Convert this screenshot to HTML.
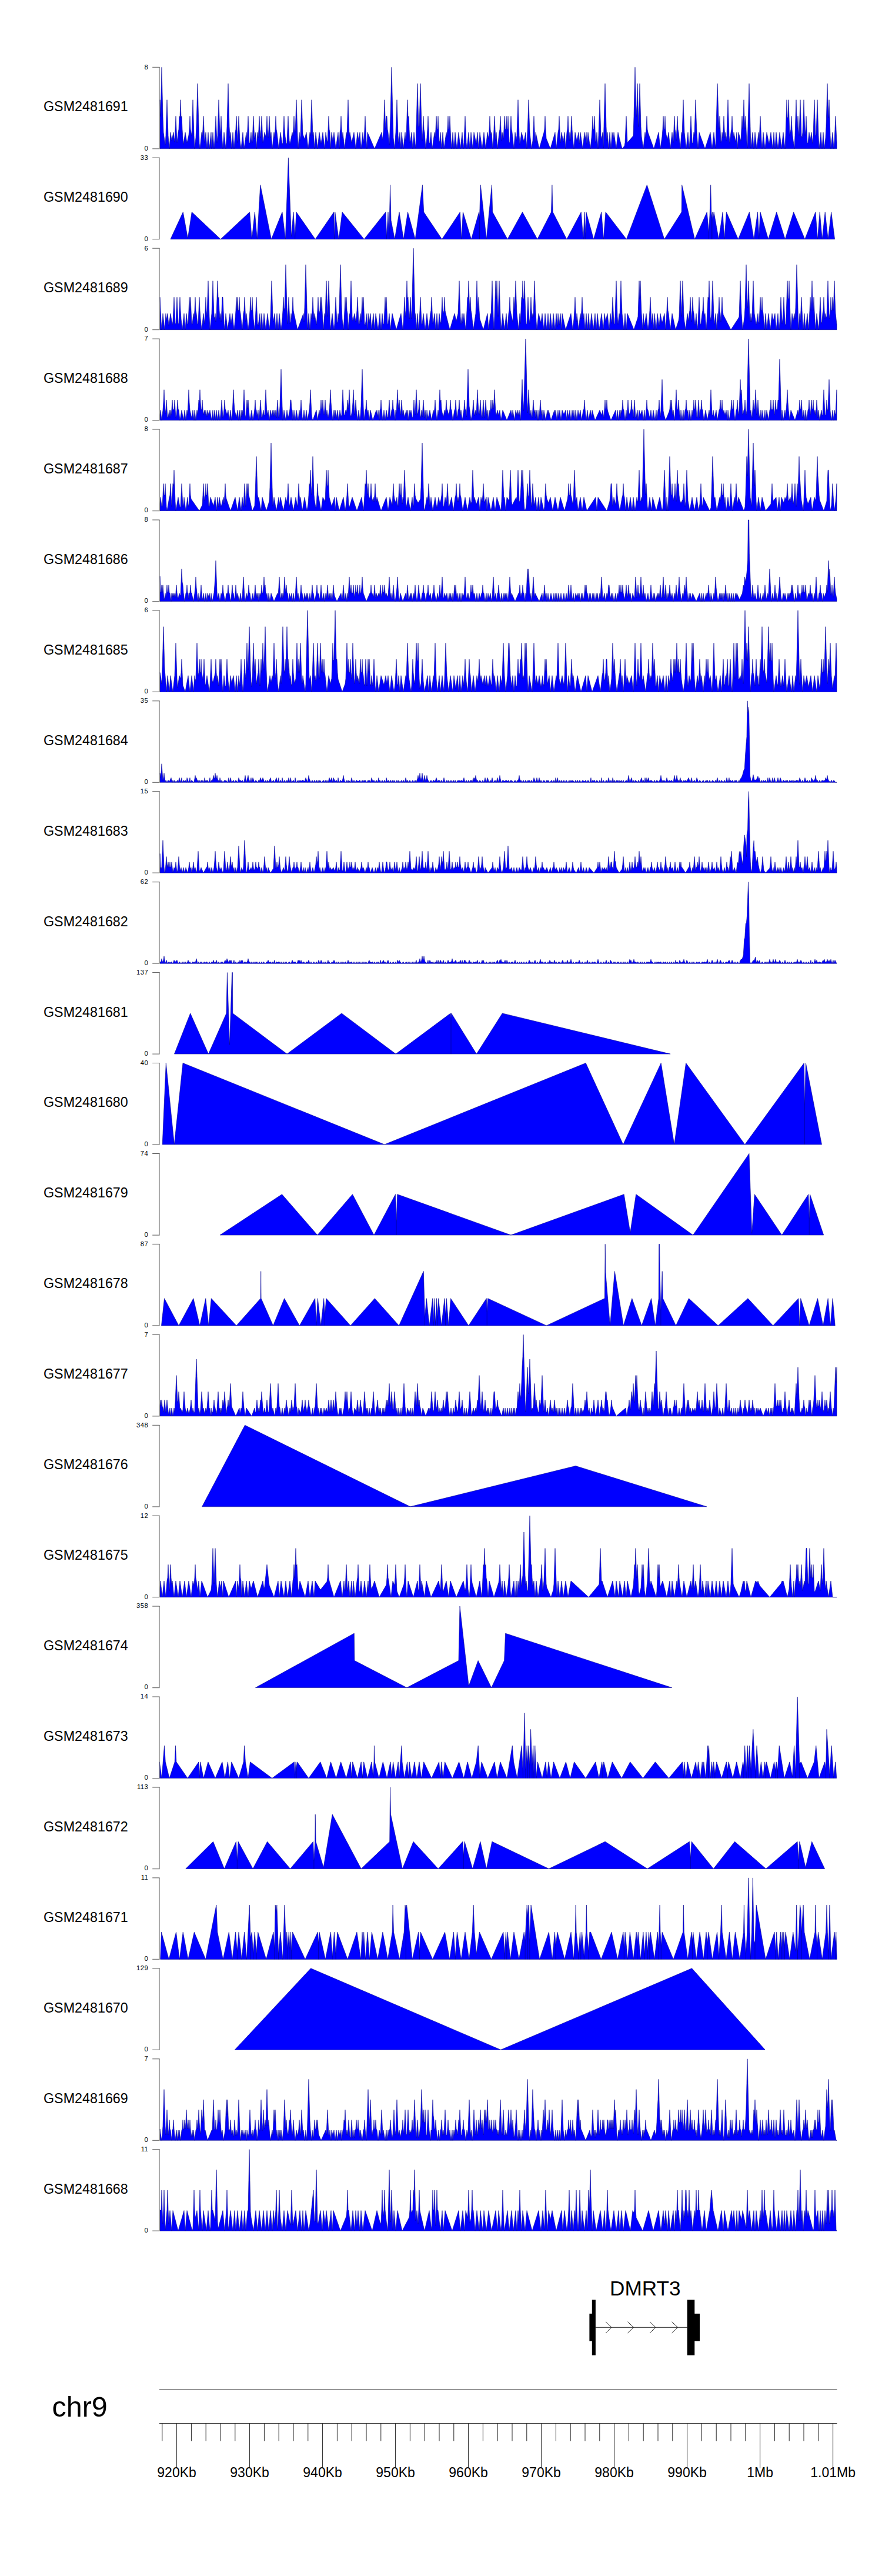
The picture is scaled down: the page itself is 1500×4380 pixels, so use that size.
<!DOCTYPE html>
<html><head><meta charset="utf-8"><title>tracks</title>
<style>html,body{margin:0;padding:0;background:#fff}svg{display:block}
text{font-family:"Liberation Sans",Arial,sans-serif;fill:#000}
.lab{font-size:23.3px}.tk{font-size:11.3px;text-anchor:end;letter-spacing:0.5px}.ax{font-size:23px;text-anchor:middle}
.d{fill:#0000ff;stroke:#00008b;stroke-width:0.6;stroke-linejoin:miter}
.ya{fill:none;stroke:#7a7a7a;stroke-width:1.25}.yt{fill:none;stroke:#444;stroke-width:0.9}.nl{fill:none;stroke:#00008b;stroke-width:0.7}
</style></head><body>
<svg width="1500" height="4380" viewBox="0 0 1500 4380">
<rect width="1500" height="4380" fill="#fff"/>

<path class="d" d="M272.0,252.8L272.0,169.7L273.0,198.2L274.0,156.3L275.0,114.3L276.0,156.3L277.0,198.2L278.0,225.1L279.0,232.4L280.0,239.6L281.0,246.9L282.0,230.4L283.0,200.0L284.0,169.7L285.0,200.0L286.0,230.4L287.0,243.6L288.0,252.8L289.0,239.0L290.0,225.1L291.0,232.0L292.0,239.0L293.0,234.3L294.0,229.7L295.0,225.1L296.0,233.3L297.0,241.6L298.0,219.9L299.0,197.4L300.0,219.9L301.0,242.4L302.0,234.3L303.0,225.1L304.0,219.9L305.0,197.4L306.0,200.0L307.0,169.7L308.0,200.0L309.0,197.4L310.0,219.9L311.0,235.2L312.0,245.3L313.0,238.6L314.0,231.8L315.0,225.1L316.0,231.0L317.0,236.9L318.0,242.8L319.0,238.3L320.0,233.9L321.0,229.5L322.0,219.9L323.0,197.4L324.0,219.9L325.0,225.1L326.0,230.4L327.0,200.0L328.0,169.7L329.0,200.0L330.0,230.4L331.0,252.8L332.0,243.6L333.0,234.3L334.0,215.4L335.0,178.7L336.0,142.0L337.0,178.7L338.0,215.4L339.0,243.6L340.0,252.8L341.0,243.6L342.0,234.3L343.0,225.1L344.0,232.0L345.0,219.9L346.0,197.4L347.0,219.9L348.0,242.4L349.0,234.3L350.0,225.1L351.0,239.0L352.0,252.8L353.0,239.0L354.0,225.1L355.0,239.0L356.0,252.8L357.0,243.6L358.0,234.3L359.0,225.1L360.0,252.8L361.0,239.0L362.0,225.1L363.0,239.0L364.0,252.8L365.0,239.0L366.0,219.9L367.0,197.4L368.0,219.9L369.0,242.4L370.0,230.4L371.0,200.0L372.0,169.7L373.0,200.0L374.0,230.4L375.0,219.9L376.0,197.4L377.0,219.9L378.0,239.0L379.0,252.8L380.0,239.0L381.0,225.1L382.0,234.3L383.0,243.6L384.0,252.8L385.0,239.0L386.0,215.4L387.0,178.7L388.0,142.0L389.0,178.7L390.0,215.4L391.0,234.3L392.0,225.1L393.0,239.0L394.0,252.8L395.0,239.0L396.0,225.1L397.0,239.0L398.0,252.8L399.0,239.0L400.0,225.1L401.0,219.9L402.0,197.4L403.0,219.9L404.0,242.4L405.0,219.9L406.0,197.4L407.0,219.9L408.0,239.0L409.0,245.9L410.0,252.8L411.0,243.6L412.0,234.3L413.0,225.1L414.0,239.0L415.0,252.8L416.0,245.9L417.0,239.0L418.0,232.0L419.0,225.1L420.0,239.0L421.0,219.9L422.0,197.4L423.0,219.9L424.0,242.4L425.0,243.6L426.0,234.3L427.0,225.1L428.0,239.0L429.0,242.4L430.0,219.9L431.0,197.4L432.0,219.9L433.0,236.0L434.0,230.6L435.0,225.1L436.0,252.8L437.0,239.0L438.0,225.1L439.0,234.3L440.0,219.9L441.0,197.4L442.0,219.9L443.0,234.3L444.0,219.9L445.0,197.4L446.0,219.9L447.0,242.4L448.0,238.2L449.0,231.7L450.0,225.1L451.0,229.1L452.0,233.0L453.0,219.9L454.0,197.4L455.0,219.9L456.0,234.3L457.0,219.9L458.0,197.4L459.0,219.9L460.0,234.3L461.0,225.1L462.0,239.0L463.0,252.8L464.0,243.6L465.0,234.3L466.0,225.1L467.0,234.3L468.0,219.9L469.0,197.4L470.0,219.9L471.0,225.1L472.0,234.3L473.0,243.6L474.0,252.8L475.0,243.6L476.0,234.3L477.0,225.1L478.0,232.0L479.0,239.0L480.0,245.9L481.0,242.4L482.0,219.9L483.0,197.4L484.0,219.9L485.0,232.0L486.0,239.0L487.0,245.9L488.0,242.4L489.0,219.9L490.0,197.4L491.0,219.9L492.0,238.6L493.0,245.4L494.0,240.3L495.0,235.2L496.0,230.2L497.0,225.1L498.0,230.8L499.0,219.9L500.0,197.4L501.0,219.9L502.0,225.1L503.0,200.0L504.0,169.7L505.0,200.0L506.0,230.4L507.0,252.8L508.0,239.0L509.0,225.1L510.0,239.0L511.0,230.4L512.0,200.0L513.0,169.7L514.0,200.0L515.0,228.0L516.0,230.9L517.0,233.8L518.0,236.8L519.0,232.9L520.0,229.0L521.0,225.1L522.0,234.3L523.0,243.6L524.0,252.8L525.0,243.6L526.0,234.3L527.0,225.1L528.0,230.4L529.0,200.0L530.0,169.7L531.0,200.0L532.0,230.4L533.0,225.1L534.0,239.0L535.0,252.8L536.0,239.0L537.0,225.1L538.0,234.3L539.0,243.6L540.0,252.8L541.0,243.6L542.0,234.3L543.0,225.1L544.0,231.4L545.0,237.7L546.0,244.0L547.0,237.7L548.0,231.4L549.0,225.1L550.0,234.3L551.0,243.6L552.0,252.8L553.0,239.0L554.0,225.1L555.0,232.0L556.0,239.0L557.0,242.4L558.0,219.9L559.0,197.4L560.0,219.9L561.0,225.1L562.0,252.8L563.0,239.0L564.0,225.1L565.0,232.5L566.0,239.9L567.0,232.5L568.0,225.1L569.0,234.3L570.0,243.6L571.0,252.8L572.0,245.9L573.0,239.0L574.0,232.0L575.0,225.1L576.0,239.0L577.0,252.8L578.0,225.1L579.0,219.9L580.0,197.4L581.0,219.9L582.0,234.3L583.0,225.1L584.0,234.3L585.0,243.6L586.0,252.8L587.0,243.6L588.0,234.3L589.0,225.1L590.0,230.4L591.0,200.0L592.0,169.7L593.0,200.0L594.0,230.4L595.0,225.1L596.0,231.0L597.0,236.8L598.0,242.7L599.0,238.3L600.0,233.9L601.0,229.5L602.0,225.1L603.0,234.3L604.0,243.6L605.0,252.8L606.0,243.6L607.0,234.3L608.0,225.1L609.0,232.1L610.0,239.0L611.0,232.1L612.0,225.1L613.0,239.0L614.0,252.8L615.0,243.6L616.0,234.3L617.0,225.1L618.0,234.9L619.0,242.4L620.0,219.9L621.0,197.4L622.0,219.9L623.0,239.0L624.0,252.8L625.0,225.1L626.0,227.4L627.0,229.7L628.0,232.0L629.0,234.3L630.0,236.6L631.0,239.0L632.0,241.3L633.0,243.6L634.0,245.9L635.0,248.2L636.0,250.5L637.0,252.8L638.0,250.5L639.0,248.2L640.0,245.9L641.0,243.6L642.0,241.3L643.0,239.0L644.0,236.6L645.0,234.3L646.0,232.0L647.0,229.7L648.0,227.4L649.0,225.1L650.0,238.1L651.0,231.6L652.0,225.1L653.0,200.0L654.0,169.7L655.0,200.0L656.0,219.9L657.0,197.4L658.0,197.4L659.0,219.9L660.0,225.1L661.0,235.6L662.0,246.1L663.0,225.1L664.0,198.2L665.0,156.3L666.0,114.3L667.0,156.3L668.0,198.2L669.0,234.3L670.0,243.6L671.0,252.8L672.0,239.0L673.0,225.1L674.0,200.0L675.0,169.7L676.0,200.0L677.0,230.4L678.0,243.6L679.0,234.3L680.0,225.1L681.0,239.0L682.0,252.8L683.0,225.1L684.0,234.3L685.0,243.6L686.0,252.8L687.0,243.6L688.0,234.3L689.0,225.1L690.0,239.0L691.0,230.4L692.0,200.0L693.0,169.7L694.0,200.0L695.0,197.4L696.0,219.9L697.0,242.4L698.0,239.0L699.0,232.1L700.0,225.1L701.0,239.0L702.0,252.8L703.0,239.0L704.0,225.1L705.0,234.3L706.0,243.6L707.0,252.1L708.0,215.4L709.0,178.7L710.0,142.0L711.0,178.7L712.0,215.4L713.0,215.4L714.0,178.7L715.0,142.0L716.0,178.7L717.0,215.4L718.0,239.0L719.0,219.9L720.0,197.4L721.0,219.9L722.0,225.1L723.0,239.0L724.0,252.8L725.0,243.6L726.0,234.3L727.0,219.9L728.0,197.4L729.0,219.9L730.0,242.4L731.0,243.6L732.0,234.3L733.0,225.1L734.0,239.0L735.0,252.8L736.0,245.9L737.0,239.0L738.0,232.0L739.0,225.1L740.0,234.3L741.0,219.9L742.0,197.4L743.0,219.9L744.0,219.9L745.0,197.4L746.0,219.9L747.0,242.4L748.0,239.0L749.0,225.1L750.0,239.0L751.0,252.8L752.0,239.0L753.0,225.1L754.0,239.0L755.0,252.8L756.0,245.9L757.0,239.0L758.0,232.0L759.0,225.1L760.0,232.0L761.0,219.9L762.0,197.4L763.0,219.9L764.0,219.9L765.0,197.4L766.0,219.9L767.0,239.0L768.0,252.8L769.0,239.0L770.0,225.1L771.0,239.0L772.0,252.8L773.0,239.0L774.0,225.1L775.0,234.3L776.0,243.6L777.0,252.8L778.0,243.6L779.0,234.3L780.0,225.1L781.0,234.3L782.0,243.6L783.0,252.8L784.0,243.6L785.0,234.3L786.0,225.1L787.0,239.0L788.0,252.8L789.0,242.4L790.0,219.9L791.0,197.4L792.0,219.9L793.0,242.4L794.0,252.8L795.0,243.6L796.0,234.3L797.0,225.1L798.0,239.0L799.0,252.8L800.0,239.0L801.0,225.1L802.0,234.3L803.0,243.6L804.0,252.8L805.0,239.0L806.0,225.1L807.0,229.9L808.0,234.7L809.0,239.6L810.0,244.4L811.0,234.7L812.0,225.1L813.0,239.0L814.0,252.8L815.0,239.0L816.0,225.1L817.0,232.0L818.0,239.0L819.0,245.9L820.0,252.8L821.0,243.6L822.0,234.3L823.0,225.1L824.0,234.3L825.0,243.6L826.0,252.8L827.0,243.6L828.0,234.3L829.0,225.1L830.0,230.4L831.0,235.7L832.0,219.9L833.0,197.4L834.0,219.9L835.0,229.1L836.0,225.1L837.0,239.0L838.0,252.8L839.0,239.0L840.0,219.9L841.0,197.4L842.0,219.9L843.0,239.0L844.0,225.1L845.0,239.0L846.0,252.8L847.0,243.6L848.0,234.3L849.0,225.1L850.0,219.9L851.0,197.4L852.0,219.9L853.0,239.0L854.0,225.1L855.0,230.8L856.0,236.6L857.0,219.9L858.0,197.4L859.0,219.9L860.0,219.9L861.0,197.4L862.0,219.9L863.0,219.9L864.0,197.4L865.0,219.9L866.0,242.4L867.0,242.4L868.0,219.9L869.0,197.4L870.0,219.9L871.0,225.1L872.0,234.3L873.0,243.6L874.0,252.8L875.0,239.0L876.0,225.1L877.0,232.0L878.0,238.8L879.0,230.4L880.0,200.0L881.0,169.7L882.0,200.0L883.0,230.4L884.0,245.9L885.0,239.0L886.0,232.0L887.0,225.1L888.0,228.9L889.0,232.7L890.0,236.5L891.0,240.3L892.0,235.2L893.0,230.2L894.0,225.1L895.0,239.0L896.0,252.8L897.0,225.1L898.0,200.0L899.0,169.7L900.0,200.0L901.0,225.1L902.0,234.3L903.0,243.6L904.0,252.8L905.0,245.9L906.0,239.0L907.0,219.9L908.0,197.4L909.0,219.9L910.0,242.4L911.0,225.1L912.0,229.7L913.0,234.3L914.0,239.0L915.0,243.6L916.0,248.2L917.0,252.8L918.0,249.3L919.0,245.9L920.0,242.4L921.0,239.0L922.0,235.5L923.0,232.0L924.0,228.6L925.0,225.1L926.0,219.9L927.0,197.4L928.0,219.9L929.0,235.2L930.0,237.7L931.0,240.2L932.0,242.7L933.0,245.2L934.0,247.8L935.0,250.3L936.0,252.8L937.0,249.3L938.0,245.9L939.0,242.4L940.0,239.0L941.0,235.5L942.0,232.0L943.0,228.6L944.0,225.1L945.0,239.0L946.0,252.8L947.0,243.6L948.0,234.3L949.0,225.1L950.0,219.9L951.0,197.4L952.0,219.9L953.0,242.4L954.0,234.3L955.0,225.1L956.0,230.6L957.0,236.1L958.0,241.6L959.0,233.3L960.0,225.1L961.0,239.0L962.0,252.8L963.0,239.0L964.0,225.1L965.0,219.9L966.0,197.4L967.0,219.9L968.0,239.0L969.0,225.1L970.0,239.0L971.0,219.9L972.0,197.4L973.0,219.9L974.0,234.3L975.0,243.6L976.0,252.8L977.0,239.0L978.0,225.1L979.0,229.8L980.0,234.5L981.0,239.3L982.0,234.5L983.0,229.8L984.0,225.1L985.0,244.7L986.0,234.9L987.0,225.1L988.0,232.0L989.0,239.0L990.0,245.9L991.0,252.8L992.0,243.6L993.0,234.3L994.0,225.1L995.0,237.3L996.0,231.2L997.0,225.1L998.0,245.4L999.0,235.2L1000.0,225.1L1001.0,232.0L1002.0,239.0L1003.0,245.9L1004.0,252.8L1005.0,243.6L1006.0,234.3L1007.0,219.9L1008.0,197.4L1009.0,219.9L1010.0,219.9L1011.0,197.4L1012.0,219.9L1013.0,242.4L1014.0,239.0L1015.0,225.1L1016.0,239.0L1017.0,252.8L1018.0,230.4L1019.0,200.0L1020.0,169.7L1021.0,200.0L1022.0,230.4L1023.0,237.1L1024.0,231.1L1025.0,225.1L1026.0,252.1L1027.0,215.4L1028.0,178.7L1029.0,142.0L1030.0,178.7L1031.0,215.4L1032.0,239.0L1033.0,225.1L1034.0,239.0L1035.0,252.8L1036.0,239.0L1037.0,225.1L1038.0,239.0L1039.0,252.8L1040.0,239.0L1041.0,225.1L1042.0,230.8L1043.0,236.5L1044.0,225.1L1045.0,232.0L1046.0,239.0L1047.0,245.9L1048.0,252.8L1049.0,243.6L1050.0,234.3L1051.0,225.1L1052.0,229.1L1053.0,233.0L1054.0,237.0L1055.0,240.9L1056.0,244.9L1057.0,248.8L1058.0,252.8L1059.0,251.6L1060.0,250.5L1061.0,249.3L1062.0,248.2L1063.0,242.4L1064.0,219.9L1065.0,197.4L1066.0,219.9L1067.0,242.4L1068.0,241.3L1069.0,240.1L1070.0,239.0L1071.0,237.8L1072.0,236.6L1073.0,235.5L1074.0,234.3L1075.0,233.2L1076.0,232.0L1077.0,230.9L1078.0,198.2L1079.0,156.3L1080.0,114.3L1081.0,156.3L1082.0,198.2L1083.0,178.7L1084.0,142.0L1085.0,178.7L1086.0,215.4L1087.0,178.7L1088.0,142.0L1089.0,178.7L1090.0,215.4L1091.0,232.0L1092.0,239.0L1093.0,245.9L1094.0,252.8L1095.0,243.6L1096.0,234.3L1097.0,225.1L1098.0,234.3L1099.0,219.9L1100.0,197.4L1101.0,219.9L1102.0,225.1L1103.0,227.9L1104.0,230.6L1105.0,233.4L1106.0,236.2L1107.0,239.0L1108.0,241.7L1109.0,244.5L1110.0,247.3L1111.0,250.0L1112.0,252.8L1113.0,249.3L1114.0,245.9L1115.0,242.4L1116.0,239.0L1117.0,235.5L1118.0,232.0L1119.0,228.6L1120.0,225.1L1121.0,234.3L1122.0,243.6L1123.0,252.8L1124.0,245.9L1125.0,239.0L1126.0,232.0L1127.0,219.9L1128.0,197.4L1129.0,219.9L1130.0,219.9L1131.0,197.4L1132.0,219.9L1133.0,229.1L1134.0,233.1L1135.0,237.1L1136.0,231.1L1137.0,225.1L1138.0,234.3L1139.0,243.6L1140.0,252.8L1141.0,243.6L1142.0,234.3L1143.0,225.1L1144.0,234.3L1145.0,242.4L1146.0,219.9L1147.0,197.4L1148.0,219.9L1149.0,225.1L1150.0,239.0L1151.0,219.9L1152.0,197.4L1153.0,219.9L1154.0,225.1L1155.0,234.3L1156.0,243.6L1157.0,252.8L1158.0,239.0L1159.0,225.1L1160.0,230.4L1161.0,200.0L1162.0,169.7L1163.0,200.0L1164.0,225.1L1165.0,234.3L1166.0,243.6L1167.0,252.8L1168.0,243.6L1169.0,234.3L1170.0,225.1L1171.0,239.0L1172.0,252.8L1173.0,239.0L1174.0,219.9L1175.0,197.4L1176.0,219.9L1177.0,242.4L1178.0,243.6L1179.0,234.3L1180.0,225.1L1181.0,230.4L1182.0,200.0L1183.0,169.7L1184.0,200.0L1185.0,225.1L1186.0,239.0L1187.0,252.8L1188.0,239.0L1189.0,225.1L1190.0,227.9L1191.0,230.6L1192.0,233.4L1193.0,236.2L1194.0,239.0L1195.0,241.7L1196.0,244.5L1197.0,247.3L1198.0,250.0L1199.0,252.8L1200.0,249.7L1201.0,246.6L1202.0,243.6L1203.0,240.5L1204.0,237.4L1205.0,234.3L1206.0,231.3L1207.0,228.2L1208.0,225.1L1209.0,234.3L1210.0,243.6L1211.0,252.8L1212.0,243.6L1213.0,234.3L1214.0,225.1L1215.0,234.3L1216.0,243.6L1217.0,252.1L1218.0,215.4L1219.0,178.7L1220.0,142.0L1221.0,169.7L1222.0,200.0L1223.0,219.9L1224.0,197.4L1225.0,219.9L1226.0,242.4L1227.0,239.0L1228.0,225.1L1229.0,234.3L1230.0,219.9L1231.0,197.4L1232.0,219.9L1233.0,234.3L1234.0,225.1L1235.0,239.0L1236.0,230.4L1237.0,200.0L1238.0,169.7L1239.0,200.0L1240.0,230.4L1241.0,243.6L1242.0,234.3L1243.0,225.1L1244.0,219.9L1245.0,197.4L1246.0,219.9L1247.0,233.3L1248.0,225.1L1249.0,230.5L1250.0,235.9L1251.0,241.2L1252.0,233.2L1253.0,225.1L1254.0,252.8L1255.0,239.0L1256.0,225.1L1257.0,228.8L1258.0,232.5L1259.0,236.1L1260.0,239.8L1261.0,219.9L1262.0,197.4L1263.0,219.9L1264.0,200.0L1265.0,169.7L1266.0,200.0L1267.0,219.9L1268.0,197.4L1269.0,219.9L1270.0,242.4L1271.0,252.1L1272.0,215.4L1273.0,178.7L1274.0,142.0L1275.0,178.7L1276.0,215.4L1277.0,252.1L1278.0,243.6L1279.0,234.3L1280.0,225.1L1281.0,239.0L1282.0,252.8L1283.0,239.0L1284.0,225.1L1285.0,234.3L1286.0,243.6L1287.0,252.8L1288.0,243.6L1289.0,234.3L1290.0,225.1L1291.0,239.0L1292.0,219.9L1293.0,197.4L1294.0,219.9L1295.0,239.0L1296.0,252.8L1297.0,239.0L1298.0,225.1L1299.0,234.3L1300.0,243.6L1301.0,252.8L1302.0,243.6L1303.0,234.3L1304.0,225.1L1305.0,230.0L1306.0,235.0L1307.0,239.9L1308.0,244.9L1309.0,238.3L1310.0,231.7L1311.0,225.1L1312.0,234.3L1313.0,243.6L1314.0,252.8L1315.0,239.0L1316.0,225.1L1317.0,239.0L1318.0,252.8L1319.0,239.0L1320.0,225.1L1321.0,234.3L1322.0,243.6L1323.0,252.8L1324.0,243.6L1325.0,234.3L1326.0,225.1L1327.0,234.3L1328.0,243.6L1329.0,252.8L1330.0,243.6L1331.0,234.3L1332.0,225.1L1333.0,234.3L1334.0,243.6L1335.0,252.8L1336.0,230.4L1337.0,200.0L1338.0,169.7L1339.0,200.0L1340.0,200.0L1341.0,169.7L1342.0,200.0L1343.0,230.4L1344.0,225.1L1345.0,219.9L1346.0,197.4L1347.0,219.9L1348.0,232.0L1349.0,239.0L1350.0,245.9L1351.0,252.8L1352.0,230.4L1353.0,200.0L1354.0,169.7L1355.0,200.0L1356.0,219.9L1357.0,197.4L1358.0,219.9L1359.0,230.4L1360.0,200.0L1361.0,169.7L1362.0,200.0L1363.0,230.4L1364.0,234.6L1365.0,225.1L1366.0,200.0L1367.0,169.7L1368.0,200.0L1369.0,230.4L1370.0,219.9L1371.0,197.4L1372.0,219.9L1373.0,242.4L1374.0,243.6L1375.0,234.3L1376.0,225.1L1377.0,231.6L1378.0,238.2L1379.0,231.6L1380.0,225.1L1381.0,234.3L1382.0,243.6L1383.0,230.4L1384.0,200.0L1385.0,169.7L1386.0,200.0L1387.0,230.4L1388.0,230.4L1389.0,200.0L1390.0,169.7L1391.0,200.0L1392.0,230.4L1393.0,252.8L1394.0,243.6L1395.0,234.3L1396.0,225.1L1397.0,239.0L1398.0,252.8L1399.0,239.0L1400.0,225.1L1401.0,239.0L1402.0,252.8L1403.0,243.6L1404.0,234.3L1405.0,215.4L1406.0,178.7L1407.0,142.0L1408.0,178.7L1409.0,200.0L1410.0,169.7L1411.0,200.0L1412.0,230.4L1413.0,252.8L1414.0,243.6L1415.0,234.3L1416.0,225.1L1417.0,239.0L1418.0,252.8L1419.0,242.4L1420.0,219.9L1421.0,197.4L1422.0,219.9L1423.0,242.4L1423.0,252.8Z"/>
<path class="ya" d="M271,114.3V252.8H259.2"/><path class="yt" d="M259.2,114.3H271.6"/>
<text class="tk" x="252.4" y="117.6">8</text><text class="tk" x="252.4" y="255.6">0</text>
<text class="lab" x="74" y="189.2">GSM2481691</text>
<path class="d" d="M289.9,406.7L289.9,406.7L311.3,360.6L319.4,405.3L326.2,360.6L375.2,406.7L424.6,360.6L428.3,406.7L433.3,360.6L437.3,406.7L442.8,314.4L461.4,406.7L480.0,360.6L485.4,406.7L490.4,268.2L495.4,402.1L499.0,360.6L501.7,402.1L504.0,360.6L536.2,406.7L567.9,360.6L568.4,406.7L569.8,360.6L576.1,406.7L582.0,360.6L619.2,406.7L655.9,360.6L657.7,402.1L660.0,360.6L661.8,397.5L663.6,314.4L665.0,374.4L671.3,406.7L679.0,360.6L686.3,406.7L693.5,360.6L706.2,406.7L718.5,314.4L720.7,360.6L751.6,406.7L782.4,360.6L784.7,406.7L787.4,360.6L801.5,406.7L814.6,360.6L815.5,369.8L817.3,314.4L827.3,406.7L836.4,314.4L837.7,360.6L863.1,406.7L888.5,360.6L913.9,406.7L937.5,360.6L938.9,314.4L940.2,360.6L963.8,406.7L988.3,360.6L991.9,406.7L994.2,360.6L995.1,397.5L996.9,360.6L1009.6,406.7L1022.8,360.6L1026.4,406.7L1030.0,360.6L1065.4,406.7L1100.3,314.4L1129.8,406.7L1159.2,360.6L1159.7,314.4L1181.5,406.7L1202.3,360.6L1205.5,395.2L1207.3,360.6L1208.7,314.4L1210.0,369.8L1211.4,360.6L1212.3,374.4L1214.1,360.6L1222.3,406.7L1229.1,360.6L1231.8,406.7L1235.4,360.6L1255.4,406.7L1274.4,360.6L1282.1,406.7L1288.5,360.6L1290.8,402.1L1293.0,360.6L1306.6,406.7L1320.7,360.6L1335.2,406.7L1349.7,360.6L1368.8,406.7L1386.9,360.6L1390.5,406.7L1394.2,360.6L1398.2,406.7L1403.2,360.6L1408.2,406.7L1413.7,360.6L1419.6,406.7L1419.6,406.7Z"/>
<path class="nl" d="M501.7,402.1V406.7M657.7,402.1V406.7M661.8,397.5V406.7M815.5,369.8V406.7M995.1,397.5V406.7M1205.5,395.2V406.7M1210.0,369.8V406.7M1212.3,374.4V406.7M1290.8,402.1V406.7"/>
<path class="ya" d="M271,268.2V406.7H259.2"/><path class="yt" d="M259.2,268.2H271.6"/>
<text class="tk" x="252.4" y="271.5">33</text><text class="tk" x="252.4" y="409.5">0</text>
<text class="lab" x="74" y="343.1">GSM2481690</text>
<path class="d" d="M272.0,560.7L272.0,505.3L273.0,527.8L274.0,546.8L275.0,560.7L276.0,546.8L277.0,533.0L278.0,542.2L279.0,551.4L280.0,560.7L281.0,546.8L282.0,533.0L283.0,544.4L284.0,538.7L285.0,533.0L286.0,543.2L287.0,553.4L288.0,546.6L289.0,539.8L290.0,533.0L291.0,539.5L292.0,546.1L293.0,552.7L294.0,546.1L295.0,527.8L296.0,505.3L297.0,527.8L298.0,550.3L299.0,550.3L300.0,527.8L301.0,505.3L302.0,527.8L303.0,550.3L304.0,550.3L305.0,527.8L306.0,505.3L307.0,527.8L308.0,542.2L309.0,551.4L310.0,560.7L311.0,551.4L312.0,542.2L313.0,533.0L314.0,546.8L315.0,560.7L316.0,546.8L317.0,533.0L318.0,542.2L319.0,551.4L320.0,550.3L321.0,527.8L322.0,505.3L323.0,527.8L324.0,505.3L325.0,527.8L326.0,550.3L327.0,551.4L328.0,542.2L329.0,533.0L330.0,540.6L331.0,527.8L332.0,505.3L333.0,527.8L334.0,533.0L335.0,542.2L336.0,551.4L337.0,550.3L338.0,527.8L339.0,505.3L340.0,527.8L341.0,542.2L342.0,551.4L343.0,560.7L344.0,551.4L345.0,542.2L346.0,533.0L347.0,542.2L348.0,550.3L349.0,527.8L350.0,505.3L351.0,527.8L352.0,538.2L353.0,507.9L354.0,477.6L355.0,507.9L356.0,538.2L357.0,560.7L358.0,551.4L359.0,542.2L360.0,533.0L361.0,507.9L362.0,477.6L363.0,507.9L364.0,538.2L365.0,541.5L366.0,533.0L367.0,546.8L368.0,538.2L369.0,507.9L370.0,477.6L371.0,507.9L372.0,505.3L373.0,527.8L374.0,542.2L375.0,533.0L376.0,546.8L377.0,527.8L378.0,505.3L379.0,505.3L380.0,527.8L381.0,550.3L382.0,560.7L383.0,546.8L384.0,533.0L385.0,542.2L386.0,551.4L387.0,560.7L388.0,553.7L389.0,546.8L390.0,539.9L391.0,533.0L392.0,541.6L393.0,550.2L394.0,541.6L395.0,533.0L396.0,542.2L397.0,551.4L398.0,560.7L399.0,551.4L400.0,542.2L401.0,527.8L402.0,505.3L403.0,527.8L404.0,505.3L405.0,527.8L406.0,527.8L407.0,505.3L408.0,527.8L409.0,533.0L410.0,542.2L411.0,551.4L412.0,560.7L413.0,546.8L414.0,533.0L415.0,527.8L416.0,505.3L417.0,527.8L418.0,546.8L419.0,533.0L420.0,542.2L421.0,551.4L422.0,560.7L423.0,551.4L424.0,542.2L425.0,527.8L426.0,505.3L427.0,527.8L428.0,527.8L429.0,505.3L430.0,527.8L431.0,542.2L432.0,551.4L433.0,560.7L434.0,546.8L435.0,527.8L436.0,505.3L437.0,527.8L438.0,550.3L439.0,553.7L440.0,546.8L441.0,539.9L442.0,533.0L443.0,560.7L444.0,546.8L445.0,533.0L446.0,546.8L447.0,560.7L448.0,546.8L449.0,533.0L450.0,542.2L451.0,551.4L452.0,560.7L453.0,551.4L454.0,542.2L455.0,533.0L456.0,542.2L457.0,551.4L458.0,560.7L459.0,551.4L460.0,538.2L461.0,507.9L462.0,477.6L463.0,507.9L464.0,538.2L465.0,546.8L466.0,539.9L467.0,533.0L468.0,546.8L469.0,560.7L470.0,546.8L471.0,533.0L472.0,546.8L473.0,560.7L474.0,546.8L475.0,533.0L476.0,542.2L477.0,551.4L478.0,560.7L479.0,551.4L480.0,542.2L481.0,527.8L482.0,505.3L483.0,527.8L484.0,523.2L485.0,486.5L486.0,449.9L487.0,486.5L488.0,523.2L489.0,550.3L490.0,527.8L491.0,505.3L492.0,527.8L493.0,550.3L494.0,546.8L495.0,533.0L496.0,542.2L497.0,527.8L498.0,505.3L499.0,527.8L500.0,533.0L501.0,537.6L502.0,542.2L503.0,546.8L504.0,551.4L505.0,556.0L506.0,560.7L507.0,557.9L508.0,555.1L509.0,552.4L510.0,549.6L511.0,546.8L512.0,544.0L513.0,541.3L514.0,538.5L515.0,535.7L516.0,533.0L517.0,546.8L518.0,523.2L519.0,486.5L520.0,449.9L521.0,486.5L522.0,523.2L523.0,559.9L524.0,546.8L525.0,533.0L526.0,546.8L527.0,560.7L528.0,546.8L529.0,533.0L530.0,542.2L531.0,527.8L532.0,505.3L533.0,527.8L534.0,542.2L535.0,533.0L536.0,539.3L537.0,545.7L538.0,552.0L539.0,542.5L540.0,527.8L541.0,505.3L542.0,527.8L543.0,533.0L544.0,527.8L545.0,505.3L546.0,527.8L547.0,505.3L548.0,527.8L549.0,546.8L550.0,560.7L551.0,546.8L552.0,533.0L553.0,538.2L554.0,507.9L555.0,477.6L556.0,507.9L557.0,538.2L558.0,507.9L559.0,477.6L560.0,507.9L561.0,538.2L562.0,560.7L563.0,551.4L564.0,542.2L565.0,533.0L566.0,542.2L567.0,551.4L568.0,560.7L569.0,550.3L570.0,527.8L571.0,505.3L572.0,527.8L573.0,550.3L574.0,546.8L575.0,533.0L576.0,542.2L577.0,523.2L578.0,486.5L579.0,449.9L580.0,486.5L581.0,523.2L582.0,542.2L583.0,551.4L584.0,560.7L585.0,546.8L586.0,527.8L587.0,505.3L588.0,527.8L589.0,505.3L590.0,527.8L591.0,533.0L592.0,560.7L593.0,546.8L594.0,533.0L595.0,538.2L596.0,507.9L597.0,477.6L598.0,507.9L599.0,538.2L600.0,545.9L601.0,541.6L602.0,537.3L603.0,533.0L604.0,539.9L605.0,546.8L606.0,539.9L607.0,527.8L608.0,505.3L609.0,527.8L610.0,550.3L611.0,551.4L612.0,542.2L613.0,533.0L614.0,546.8L615.0,527.8L616.0,505.3L617.0,527.8L618.0,505.3L619.0,527.8L620.0,550.3L621.0,553.7L622.0,546.8L623.0,539.9L624.0,533.0L625.0,560.7L626.0,546.8L627.0,533.0L628.0,548.4L629.0,540.7L630.0,533.0L631.0,546.8L632.0,560.7L633.0,551.4L634.0,542.2L635.0,533.0L636.0,546.8L637.0,560.7L638.0,546.8L639.0,533.0L640.0,539.9L641.0,546.8L642.0,553.7L643.0,560.7L644.0,551.4L645.0,542.2L646.0,533.0L647.0,546.8L648.0,560.7L649.0,546.8L650.0,533.0L651.0,542.2L652.0,551.4L653.0,550.3L654.0,527.8L655.0,505.3L656.0,527.8L657.0,505.3L658.0,527.8L659.0,550.3L660.0,551.4L661.0,542.2L662.0,533.0L663.0,546.8L664.0,560.7L665.0,551.4L666.0,542.2L667.0,533.0L668.0,536.9L669.0,540.9L670.0,544.8L671.0,548.8L672.0,552.7L673.0,556.7L674.0,560.7L675.0,557.2L676.0,553.7L677.0,550.3L678.0,546.8L679.0,543.3L680.0,539.9L681.0,536.4L682.0,533.0L683.0,542.2L684.0,551.4L685.0,560.7L686.0,550.3L687.0,527.8L688.0,505.3L689.0,527.8L690.0,538.2L691.0,507.9L692.0,477.6L693.0,507.9L694.0,505.3L695.0,527.8L696.0,542.2L697.0,527.8L698.0,505.3L699.0,527.8L700.0,542.2L701.0,506.1L702.0,464.1L703.0,422.2L704.0,464.1L705.0,506.1L706.0,542.2L707.0,533.0L708.0,560.7L709.0,546.8L710.0,533.0L711.0,546.8L712.0,560.7L713.0,546.8L714.0,527.8L715.0,505.3L716.0,527.8L717.0,550.3L718.0,551.4L719.0,542.2L720.0,533.0L721.0,542.2L722.0,551.4L723.0,560.7L724.0,551.4L725.0,542.2L726.0,533.0L727.0,542.2L728.0,551.4L729.0,560.7L730.0,551.4L731.0,542.2L732.0,533.0L733.0,527.8L734.0,505.3L735.0,527.8L736.0,550.3L737.0,546.8L738.0,539.9L739.0,533.0L740.0,546.8L741.0,560.7L742.0,546.8L743.0,533.0L744.0,546.8L745.0,560.7L746.0,546.8L747.0,533.0L748.0,539.9L749.0,546.8L750.0,550.3L751.0,527.8L752.0,505.3L753.0,527.8L754.0,533.0L755.0,527.8L756.0,505.3L757.0,527.8L758.0,533.0L759.0,536.9L760.0,540.9L761.0,544.8L762.0,548.8L763.0,552.7L764.0,556.7L765.0,560.7L766.0,557.2L767.0,553.7L768.0,550.3L769.0,546.8L770.0,543.3L771.0,539.9L772.0,536.4L773.0,533.0L774.0,537.2L775.0,541.5L776.0,545.8L777.0,541.5L778.0,537.2L779.0,533.0L780.0,507.9L781.0,477.6L782.0,507.9L783.0,538.2L784.0,551.4L785.0,542.2L786.0,533.0L787.0,549.3L788.0,541.2L789.0,533.0L790.0,542.2L791.0,551.4L792.0,560.7L793.0,546.8L794.0,527.8L795.0,505.3L796.0,507.9L797.0,477.6L798.0,507.9L799.0,527.8L800.0,505.3L801.0,527.8L802.0,533.0L803.0,542.2L804.0,551.4L805.0,560.7L806.0,553.7L807.0,546.8L808.0,539.9L809.0,533.0L810.0,507.9L811.0,477.6L812.0,507.9L813.0,527.8L814.0,505.3L815.0,527.8L816.0,542.2L817.0,545.3L818.0,548.3L819.0,551.4L820.0,554.5L821.0,557.6L822.0,560.7L823.0,556.7L824.0,552.7L825.0,548.8L826.0,544.8L827.0,540.9L828.0,536.9L829.0,533.0L830.0,546.8L831.0,560.7L832.0,551.4L833.0,542.2L834.0,533.0L835.0,538.2L836.0,507.9L837.0,477.6L838.0,507.9L839.0,538.2L840.0,560.7L841.0,538.2L842.0,507.9L843.0,477.6L844.0,507.9L845.0,477.6L846.0,507.9L847.0,538.2L848.0,507.9L849.0,477.6L850.0,507.9L851.0,538.2L852.0,560.7L853.0,551.4L854.0,542.2L855.0,533.0L856.0,542.2L857.0,551.4L858.0,560.7L859.0,551.4L860.0,542.2L861.0,533.0L862.0,546.8L863.0,560.7L864.0,546.8L865.0,533.0L866.0,527.8L867.0,505.3L868.0,527.8L869.0,533.0L870.0,537.6L871.0,542.3L872.0,546.9L873.0,527.8L874.0,505.3L875.0,527.8L876.0,507.9L877.0,477.6L878.0,507.9L879.0,533.0L880.0,542.2L881.0,551.4L882.0,560.7L883.0,546.8L884.0,533.0L885.0,550.3L886.0,527.8L887.0,505.3L888.0,507.9L889.0,477.6L890.0,507.9L891.0,507.9L892.0,477.6L893.0,507.9L894.0,538.2L895.0,551.4L896.0,550.3L897.0,527.8L898.0,505.3L899.0,527.8L900.0,542.2L901.0,550.3L902.0,527.8L903.0,505.3L904.0,527.8L905.0,539.9L906.0,533.0L907.0,538.2L908.0,507.9L909.0,477.6L910.0,507.9L911.0,533.0L912.0,546.8L913.0,560.7L914.0,551.4L915.0,542.2L916.0,533.0L917.0,537.0L918.0,541.0L919.0,544.9L920.0,548.9L921.0,541.0L922.0,533.0L923.0,542.2L924.0,551.4L925.0,560.7L926.0,546.8L927.0,533.0L928.0,542.2L929.0,551.4L930.0,560.7L931.0,546.8L932.0,533.0L933.0,546.8L934.0,560.7L935.0,546.8L936.0,533.0L937.0,542.2L938.0,551.4L939.0,560.7L940.0,546.8L941.0,533.0L942.0,542.2L943.0,551.4L944.0,560.7L945.0,546.8L946.0,533.0L947.0,544.0L948.0,555.1L949.0,533.0L950.0,542.6L951.0,552.3L952.0,542.6L953.0,533.0L954.0,546.8L955.0,560.7L956.0,533.0L957.0,537.6L958.0,542.2L959.0,546.8L960.0,551.4L961.0,556.0L962.0,560.7L963.0,557.6L964.0,554.5L965.0,551.4L966.0,548.3L967.0,545.3L968.0,542.2L969.0,539.1L970.0,536.0L971.0,533.0L972.0,542.2L973.0,551.4L974.0,560.7L975.0,551.4L976.0,542.2L977.0,527.8L978.0,505.3L979.0,527.8L980.0,546.8L981.0,533.0L982.0,542.2L983.0,551.4L984.0,560.7L985.0,551.4L986.0,542.2L987.0,533.0L988.0,542.2L989.0,527.8L990.0,505.3L991.0,527.8L992.0,542.2L993.0,533.0L994.0,546.8L995.0,560.7L996.0,546.8L997.0,533.0L998.0,546.8L999.0,560.7L1000.0,546.8L1001.0,533.0L1002.0,546.8L1003.0,560.7L1004.0,551.4L1005.0,542.2L1006.0,533.0L1007.0,542.2L1008.0,551.4L1009.0,560.7L1010.0,551.4L1011.0,542.2L1012.0,533.0L1013.0,546.8L1014.0,560.7L1015.0,546.8L1016.0,533.0L1017.0,542.2L1018.0,551.4L1019.0,560.7L1020.0,553.7L1021.0,546.8L1022.0,539.9L1023.0,533.0L1024.0,542.2L1025.0,551.4L1026.0,560.7L1027.0,546.8L1028.0,533.0L1029.0,539.6L1030.0,546.3L1031.0,541.8L1032.0,537.4L1033.0,533.0L1034.0,542.2L1035.0,551.4L1036.0,560.7L1037.0,546.8L1038.0,533.0L1039.0,541.4L1040.0,549.8L1041.0,527.8L1042.0,505.3L1043.0,527.8L1044.0,550.3L1045.0,551.4L1046.0,538.2L1047.0,507.9L1048.0,477.6L1049.0,507.9L1050.0,538.2L1051.0,551.4L1052.0,542.2L1053.0,533.0L1054.0,538.2L1055.0,507.9L1056.0,477.6L1057.0,507.9L1058.0,533.0L1059.0,542.2L1060.0,551.4L1061.0,560.7L1062.0,546.8L1063.0,533.0L1064.0,546.8L1065.0,560.7L1066.0,546.8L1067.0,533.0L1068.0,535.5L1069.0,538.0L1070.0,540.5L1071.0,543.0L1072.0,545.6L1073.0,548.1L1074.0,550.6L1075.0,553.1L1076.0,555.6L1077.0,558.1L1078.0,560.7L1079.0,557.6L1080.0,554.5L1081.0,551.4L1082.0,548.3L1083.0,545.3L1084.0,542.2L1085.0,538.2L1086.0,507.9L1087.0,477.6L1088.0,507.9L1089.0,477.6L1090.0,507.9L1091.0,533.0L1092.0,546.8L1093.0,560.7L1094.0,533.0L1095.0,543.6L1096.0,554.3L1097.0,547.2L1098.0,540.1L1099.0,533.0L1100.0,542.2L1101.0,551.4L1102.0,560.7L1103.0,551.4L1104.0,542.2L1105.0,527.8L1106.0,505.3L1107.0,527.8L1108.0,550.3L1109.0,542.2L1110.0,533.0L1111.0,546.8L1112.0,560.7L1113.0,533.0L1114.0,542.2L1115.0,551.4L1116.0,560.7L1117.0,546.8L1118.0,533.0L1119.0,540.1L1120.0,547.3L1121.0,554.5L1122.0,543.7L1123.0,533.0L1124.0,538.4L1125.0,543.8L1126.0,549.1L1127.0,545.1L1128.0,541.1L1129.0,537.0L1130.0,533.0L1131.0,546.8L1132.0,560.7L1133.0,546.8L1134.0,527.8L1135.0,505.3L1136.0,527.8L1137.0,533.0L1138.0,542.2L1139.0,551.4L1140.0,560.7L1141.0,551.4L1142.0,542.2L1143.0,533.0L1144.0,537.6L1145.0,542.2L1146.0,546.8L1147.0,551.4L1148.0,556.0L1149.0,560.7L1150.0,557.6L1151.0,554.5L1152.0,551.4L1153.0,548.3L1154.0,545.3L1155.0,538.2L1156.0,507.9L1157.0,477.6L1158.0,507.9L1159.0,538.2L1160.0,507.9L1161.0,477.6L1162.0,507.9L1163.0,538.2L1164.0,546.8L1165.0,553.7L1166.0,560.7L1167.0,551.4L1168.0,542.2L1169.0,533.0L1170.0,539.4L1171.0,545.9L1172.0,533.0L1173.0,527.8L1174.0,505.3L1175.0,527.8L1176.0,546.8L1177.0,527.8L1178.0,505.3L1179.0,527.8L1180.0,533.0L1181.0,542.9L1182.0,552.9L1183.0,542.9L1184.0,533.0L1185.0,546.8L1186.0,560.7L1187.0,550.3L1188.0,527.8L1189.0,505.3L1190.0,527.8L1191.0,550.3L1192.0,551.4L1193.0,542.2L1194.0,533.0L1195.0,527.8L1196.0,505.3L1197.0,527.8L1198.0,537.5L1199.0,533.0L1200.0,546.8L1201.0,560.7L1202.0,546.8L1203.0,527.8L1204.0,505.3L1205.0,507.9L1206.0,477.6L1207.0,507.9L1208.0,538.2L1209.0,545.1L1210.0,533.0L1211.0,507.9L1212.0,477.6L1213.0,507.9L1214.0,538.2L1215.0,551.4L1216.0,542.2L1217.0,533.0L1218.0,546.8L1219.0,560.7L1220.0,533.0L1221.0,546.8L1222.0,527.8L1223.0,505.3L1224.0,527.8L1225.0,533.0L1226.0,546.8L1227.0,527.8L1228.0,505.3L1229.0,527.8L1230.0,534.9L1231.0,536.9L1232.0,538.9L1233.0,540.9L1234.0,542.9L1235.0,544.8L1236.0,546.8L1237.0,548.8L1238.0,550.8L1239.0,552.7L1240.0,554.7L1241.0,556.7L1242.0,558.7L1243.0,560.7L1244.0,559.1L1245.0,557.6L1246.0,556.0L1247.0,554.5L1248.0,553.0L1249.0,551.4L1250.0,549.9L1251.0,548.3L1252.0,546.8L1253.0,545.3L1254.0,543.7L1255.0,542.2L1256.0,540.7L1257.0,538.2L1258.0,507.9L1259.0,477.6L1260.0,507.9L1261.0,533.0L1262.0,546.8L1263.0,560.7L1264.0,553.7L1265.0,546.8L1266.0,539.9L1267.0,523.2L1268.0,486.5L1269.0,449.9L1270.0,486.5L1271.0,523.2L1272.0,507.9L1273.0,477.6L1274.0,507.9L1275.0,538.2L1276.0,546.8L1277.0,533.0L1278.0,546.8L1279.0,538.2L1280.0,507.9L1281.0,477.6L1282.0,507.9L1283.0,533.0L1284.0,539.4L1285.0,545.8L1286.0,552.3L1287.0,545.8L1288.0,539.4L1289.0,533.0L1290.0,546.8L1291.0,550.3L1292.0,527.8L1293.0,505.3L1294.0,527.8L1295.0,527.8L1296.0,505.3L1297.0,527.8L1298.0,533.0L1299.0,546.8L1300.0,560.7L1301.0,546.8L1302.0,533.0L1303.0,546.8L1304.0,560.7L1305.0,551.4L1306.0,542.2L1307.0,533.0L1308.0,542.2L1309.0,551.4L1310.0,560.7L1311.0,551.4L1312.0,542.2L1313.0,533.0L1314.0,539.2L1315.0,545.4L1316.0,541.2L1317.0,537.1L1318.0,533.0L1319.0,546.8L1320.0,560.7L1321.0,551.4L1322.0,542.2L1323.0,533.0L1324.0,546.8L1325.0,560.7L1326.0,546.8L1327.0,527.8L1328.0,505.3L1329.0,527.8L1330.0,550.3L1331.0,542.2L1332.0,527.8L1333.0,505.3L1334.0,527.8L1335.0,550.3L1336.0,553.7L1337.0,538.2L1338.0,507.9L1339.0,477.6L1340.0,507.9L1341.0,507.9L1342.0,477.6L1343.0,507.9L1344.0,538.2L1345.0,560.7L1346.0,546.8L1347.0,533.0L1348.0,539.4L1349.0,545.9L1350.0,539.4L1351.0,533.0L1352.0,542.2L1353.0,523.2L1354.0,486.5L1355.0,449.9L1356.0,486.5L1357.0,523.2L1358.0,559.9L1359.0,546.8L1360.0,533.0L1361.0,546.8L1362.0,527.8L1363.0,505.3L1364.0,527.8L1365.0,546.8L1366.0,560.7L1367.0,546.8L1368.0,533.0L1369.0,546.8L1370.0,560.7L1371.0,551.4L1372.0,542.2L1373.0,533.0L1374.0,546.8L1375.0,560.7L1376.0,546.8L1377.0,527.8L1378.0,505.3L1379.0,527.8L1380.0,507.9L1381.0,477.6L1382.0,507.9L1383.0,527.8L1384.0,505.3L1385.0,527.8L1386.0,546.8L1387.0,560.7L1388.0,546.8L1389.0,533.0L1390.0,542.2L1391.0,551.4L1392.0,560.7L1393.0,550.3L1394.0,527.8L1395.0,505.3L1396.0,527.8L1397.0,550.3L1398.0,546.8L1399.0,533.0L1400.0,527.8L1401.0,505.3L1402.0,527.8L1403.0,542.2L1404.0,533.0L1405.0,539.7L1406.0,538.2L1407.0,507.9L1408.0,477.6L1409.0,507.9L1410.0,533.0L1411.0,542.2L1412.0,527.8L1413.0,505.3L1414.0,527.8L1415.0,527.8L1416.0,505.3L1417.0,527.8L1418.0,507.9L1419.0,477.6L1420.0,507.9L1421.0,533.0L1422.0,542.2L1423.0,551.4L1423.0,560.7Z"/>
<path class="ya" d="M271,422.2V560.7H259.2"/><path class="yt" d="M259.2,422.2H271.6"/>
<text class="tk" x="252.4" y="425.5">6</text><text class="tk" x="252.4" y="563.5">0</text>
<text class="lab" x="74" y="497.0">GSM2481689</text>
<path class="d" d="M272.0,714.6L272.0,705.9L273.0,697.3L274.0,705.9L275.0,714.6L276.0,705.9L277.0,697.3L278.0,684.1L279.0,662.7L280.0,684.1L281.0,703.5L282.0,695.4L283.0,680.0L284.0,695.4L285.0,710.7L286.0,708.8L287.0,703.0L288.0,697.3L289.0,710.0L290.0,697.3L291.0,705.9L292.0,695.4L293.0,680.0L294.0,695.4L295.0,697.3L296.0,695.4L297.0,680.0L298.0,695.4L299.0,710.7L300.0,705.9L301.0,695.4L302.0,680.0L303.0,695.4L304.0,697.3L305.0,705.9L306.0,714.6L307.0,708.8L308.0,703.0L309.0,697.3L310.0,703.0L311.0,708.8L312.0,714.6L313.0,705.9L314.0,697.3L315.0,705.9L316.0,714.6L317.0,705.9L318.0,697.3L319.0,705.5L320.0,684.1L321.0,662.7L322.0,684.1L323.0,697.3L324.0,701.8L325.0,706.4L326.0,710.9L327.0,704.1L328.0,697.3L329.0,705.9L330.0,714.6L331.0,697.3L332.0,705.9L333.0,714.6L334.0,705.9L335.0,697.3L336.0,704.4L337.0,695.4L338.0,680.0L339.0,684.1L340.0,662.7L341.0,684.1L342.0,697.3L343.0,695.4L344.0,680.0L345.0,695.4L346.0,704.8L347.0,701.0L348.0,697.3L349.0,705.4L350.0,697.3L351.0,702.9L352.0,708.5L353.0,697.3L354.0,701.4L355.0,705.6L356.0,701.4L357.0,697.3L358.0,703.0L359.0,708.8L360.0,714.6L361.0,705.9L362.0,697.3L363.0,714.6L364.0,705.9L365.0,697.3L366.0,705.9L367.0,714.6L368.0,697.3L369.0,705.9L370.0,714.6L371.0,705.9L372.0,697.3L373.0,705.9L374.0,714.6L375.0,705.9L376.0,695.4L377.0,680.0L378.0,695.4L379.0,710.7L380.0,705.9L381.0,695.4L382.0,680.0L383.0,695.4L384.0,697.3L385.0,701.2L386.0,705.0L387.0,701.2L388.0,697.3L389.0,705.9L390.0,714.6L391.0,705.9L392.0,697.3L393.0,705.9L394.0,714.6L395.0,705.5L396.0,684.1L397.0,662.7L398.0,684.1L399.0,697.3L400.0,701.4L401.0,705.5L402.0,709.7L403.0,703.5L404.0,697.3L405.0,705.9L406.0,714.6L407.0,697.3L408.0,705.9L409.0,714.6L410.0,697.3L411.0,709.1L412.0,697.3L413.0,705.5L414.0,684.1L415.0,662.7L416.0,684.1L417.0,705.5L418.0,710.7L419.0,695.4L420.0,680.0L421.0,695.4L422.0,680.0L423.0,695.4L424.0,705.9L425.0,714.6L426.0,708.8L427.0,703.0L428.0,697.3L429.0,705.9L430.0,714.6L431.0,708.8L432.0,703.0L433.0,695.4L434.0,680.0L435.0,695.4L436.0,697.3L437.0,707.9L438.0,702.6L439.0,697.3L440.0,714.6L441.0,705.9L442.0,695.4L443.0,680.0L444.0,695.4L445.0,710.7L446.0,708.8L447.0,703.0L448.0,697.3L449.0,705.9L450.0,705.5L451.0,684.1L452.0,662.7L453.0,684.1L454.0,705.5L455.0,701.4L456.0,697.3L457.0,705.9L458.0,714.6L459.0,705.9L460.0,697.3L461.0,702.6L462.0,708.0L463.0,702.6L464.0,697.3L465.0,707.7L466.0,697.3L467.0,702.6L468.0,707.9L469.0,697.3L470.0,710.7L471.0,695.4L472.0,680.0L473.0,695.4L474.0,710.7L475.0,705.9L476.0,690.4L477.0,659.2L478.0,628.0L479.0,659.2L480.0,690.4L481.0,714.6L482.0,705.9L483.0,697.3L484.0,703.0L485.0,708.8L486.0,714.6L487.0,705.9L488.0,697.3L489.0,703.9L490.0,710.5L491.0,706.1L492.0,701.7L493.0,695.4L494.0,680.0L495.0,680.0L496.0,695.4L497.0,697.3L498.0,714.6L499.0,705.9L500.0,697.3L501.0,705.9L502.0,714.6L503.0,705.9L504.0,697.3L505.0,703.0L506.0,708.8L507.0,714.6L508.0,705.9L509.0,697.3L510.0,706.0L511.0,695.4L512.0,680.0L513.0,695.4L514.0,708.8L515.0,714.6L516.0,705.9L517.0,697.3L518.0,705.9L519.0,714.6L520.0,705.9L521.0,697.3L522.0,705.9L523.0,714.6L524.0,708.8L525.0,703.0L526.0,697.3L527.0,684.1L528.0,662.7L529.0,684.1L530.0,705.5L531.0,711.7L532.0,714.6L533.0,711.7L534.0,708.8L535.0,705.9L536.0,703.0L537.0,700.2L538.0,697.3L539.0,705.9L540.0,714.6L541.0,708.8L542.0,703.0L543.0,697.3L544.0,705.0L545.0,695.4L546.0,680.0L547.0,695.4L548.0,695.4L549.0,680.0L550.0,695.4L551.0,705.9L552.0,695.4L553.0,680.0L554.0,695.4L555.0,705.9L556.0,697.3L557.0,704.0L558.0,710.7L559.0,704.0L560.0,697.3L561.0,684.1L562.0,662.7L563.0,684.1L564.0,697.3L565.0,705.9L566.0,714.6L567.0,705.9L568.0,697.3L569.0,710.2L570.0,697.3L571.0,704.1L572.0,710.9L573.0,704.1L574.0,697.3L575.0,705.9L576.0,714.6L577.0,705.9L578.0,697.3L579.0,703.0L580.0,708.8L581.0,705.5L582.0,684.1L583.0,662.7L584.0,684.1L585.0,705.5L586.0,705.9L587.0,701.6L588.0,697.3L589.0,701.9L590.0,695.4L591.0,680.0L592.0,695.4L593.0,684.1L594.0,662.7L595.0,684.1L596.0,705.5L597.0,708.8L598.0,703.0L599.0,697.3L600.0,684.1L601.0,662.7L602.0,684.1L603.0,705.5L604.0,695.4L605.0,680.0L606.0,695.4L607.0,705.9L608.0,714.6L609.0,705.9L610.0,697.3L611.0,705.9L612.0,714.6L613.0,705.9L614.0,690.4L615.0,659.2L616.0,628.0L617.0,659.2L618.0,690.4L619.0,714.6L620.0,705.9L621.0,697.3L622.0,695.4L623.0,680.0L624.0,695.4L625.0,703.0L626.0,697.3L627.0,705.9L628.0,714.6L629.0,705.9L630.0,697.3L631.0,701.6L632.0,705.9L633.0,710.3L634.0,714.6L635.0,711.7L636.0,708.8L637.0,705.9L638.0,703.0L639.0,700.2L640.0,697.3L641.0,702.7L642.0,708.1L643.0,697.3L644.0,705.9L645.0,714.6L646.0,697.3L647.0,695.4L648.0,680.0L649.0,695.4L650.0,705.9L651.0,714.6L652.0,705.9L653.0,697.3L654.0,705.9L655.0,714.6L656.0,705.9L657.0,697.3L658.0,703.0L659.0,708.8L660.0,710.7L661.0,695.4L662.0,680.0L663.0,695.4L664.0,710.7L665.0,705.9L666.0,697.3L667.0,695.4L668.0,680.0L669.0,695.4L670.0,697.3L671.0,705.9L672.0,714.6L673.0,697.3L674.0,703.0L675.0,684.1L676.0,662.7L677.0,684.1L678.0,695.4L679.0,680.0L680.0,695.4L681.0,705.9L682.0,695.4L683.0,680.0L684.0,695.4L685.0,705.9L686.0,697.3L687.0,703.5L688.0,709.7L689.0,705.6L690.0,701.4L691.0,697.3L692.0,704.3L693.0,697.3L694.0,714.6L695.0,705.9L696.0,697.3L697.0,704.2L698.0,700.7L699.0,697.3L700.0,703.0L701.0,708.8L702.0,710.7L703.0,695.4L704.0,680.0L705.0,695.4L706.0,705.5L707.0,684.1L708.0,662.7L709.0,684.1L710.0,705.5L711.0,701.4L712.0,695.4L713.0,680.0L714.0,695.4L715.0,710.7L716.0,705.9L717.0,697.3L718.0,709.0L719.0,695.4L720.0,680.0L721.0,695.4L722.0,710.7L723.0,697.3L724.0,705.9L725.0,714.6L726.0,697.3L727.0,704.2L728.0,711.1L729.0,706.5L730.0,701.9L731.0,697.3L732.0,703.0L733.0,708.8L734.0,714.6L735.0,708.8L736.0,703.0L737.0,697.3L738.0,702.6L739.0,695.4L740.0,680.0L741.0,695.4L742.0,705.9L743.0,714.6L744.0,705.9L745.0,697.3L746.0,705.5L747.0,684.1L748.0,662.7L749.0,684.1L750.0,680.0L751.0,695.4L752.0,701.2L753.0,705.2L754.0,709.1L755.0,703.2L756.0,697.3L757.0,703.0L758.0,695.4L759.0,680.0L760.0,695.4L761.0,697.3L762.0,701.5L763.0,705.7L764.0,701.5L765.0,695.4L766.0,680.0L767.0,695.4L768.0,697.3L769.0,705.9L770.0,714.6L771.0,708.8L772.0,703.0L773.0,697.3L774.0,695.4L775.0,680.0L776.0,695.4L777.0,710.7L778.0,705.9L779.0,697.3L780.0,695.4L781.0,680.0L782.0,695.4L783.0,705.9L784.0,697.3L785.0,705.9L786.0,714.6L787.0,708.8L788.0,703.0L789.0,695.4L790.0,680.0L791.0,695.4L792.0,697.3L793.0,709.0L794.0,690.4L795.0,659.2L796.0,628.0L797.0,659.2L798.0,690.4L799.0,697.3L800.0,705.9L801.0,714.6L802.0,708.8L803.0,703.0L804.0,695.4L805.0,680.0L806.0,695.4L807.0,707.0L808.0,702.1L809.0,697.3L810.0,705.5L811.0,684.1L812.0,662.7L813.0,684.1L814.0,700.9L815.0,704.5L816.0,695.4L817.0,680.0L818.0,695.4L819.0,705.9L820.0,710.7L821.0,695.4L822.0,680.0L823.0,695.4L824.0,710.3L825.0,695.4L826.0,680.0L827.0,695.4L828.0,705.9L829.0,697.3L830.0,714.6L831.0,705.9L832.0,697.3L833.0,703.0L834.0,695.4L835.0,680.0L836.0,695.4L837.0,695.4L838.0,680.0L839.0,695.4L840.0,684.1L841.0,662.7L842.0,684.1L843.0,701.7L844.0,706.1L845.0,701.7L846.0,697.3L847.0,701.8L848.0,706.3L849.0,701.8L850.0,697.3L851.0,705.9L852.0,714.6L853.0,708.8L854.0,703.0L855.0,697.3L856.0,699.8L857.0,702.2L858.0,704.7L859.0,707.2L860.0,709.6L861.0,712.1L862.0,714.6L863.0,712.1L864.0,709.6L865.0,707.2L866.0,704.7L867.0,702.2L868.0,699.8L869.0,697.3L870.0,702.7L871.0,708.2L872.0,697.3L873.0,703.0L874.0,708.8L875.0,714.6L876.0,705.9L877.0,697.3L878.0,701.3L879.0,705.2L880.0,697.3L881.0,706.3L882.0,701.8L883.0,697.3L884.0,705.9L885.0,714.6L886.0,698.6L887.0,672.0L888.0,645.3L889.0,672.0L890.0,698.6L891.0,681.1L892.0,645.9L893.0,610.7L894.0,576.1L895.0,618.1L896.0,660.0L897.0,702.0L898.0,684.1L899.0,662.7L900.0,684.1L901.0,705.5L902.0,703.0L903.0,697.3L904.0,705.9L905.0,710.7L906.0,695.4L907.0,680.0L908.0,695.4L909.0,702.1L910.0,697.3L911.0,710.4L912.0,697.3L913.0,705.9L914.0,714.6L915.0,697.3L916.0,714.6L917.0,705.9L918.0,695.4L919.0,680.0L920.0,695.4L921.0,705.9L922.0,697.3L923.0,714.6L924.0,705.9L925.0,697.3L926.0,703.0L927.0,708.8L928.0,714.6L929.0,708.8L930.0,703.0L931.0,697.3L932.0,705.1L933.0,697.3L934.0,701.6L935.0,705.9L936.0,710.3L937.0,714.6L938.0,711.7L939.0,708.8L940.0,705.9L941.0,703.0L942.0,700.2L943.0,697.3L944.0,705.4L945.0,697.3L946.0,705.9L947.0,714.6L948.0,705.9L949.0,697.3L950.0,709.7L951.0,703.5L952.0,697.3L953.0,705.9L954.0,714.6L955.0,705.9L956.0,697.3L957.0,699.7L958.0,702.0L959.0,704.4L960.0,702.0L961.0,699.7L962.0,697.3L963.0,705.9L964.0,714.6L965.0,697.3L966.0,703.6L967.0,709.8L968.0,703.6L969.0,697.3L970.0,705.9L971.0,714.6L972.0,705.9L973.0,697.3L974.0,703.3L975.0,709.2L976.0,697.3L977.0,705.9L978.0,714.6L979.0,697.3L980.0,705.9L981.0,714.6L982.0,705.9L983.0,697.3L984.0,702.6L985.0,707.9L986.0,702.6L987.0,697.3L988.0,705.9L989.0,714.6L990.0,708.8L991.0,703.0L992.0,697.3L993.0,695.4L994.0,680.0L995.0,695.4L996.0,705.9L997.0,714.6L998.0,705.9L999.0,697.3L1000.0,705.9L1001.0,714.6L1002.0,708.8L1003.0,703.0L1004.0,697.3L1005.0,703.3L1006.0,709.4L1007.0,697.3L1008.0,700.7L1009.0,704.2L1010.0,707.7L1011.0,711.1L1012.0,714.6L1013.0,712.4L1014.0,710.3L1015.0,708.1L1016.0,705.9L1017.0,703.8L1018.0,701.6L1019.0,699.4L1020.0,697.3L1021.0,700.2L1022.0,703.2L1023.0,706.1L1024.0,701.7L1025.0,697.3L1026.0,703.9L1027.0,710.6L1028.0,695.4L1029.0,680.0L1030.0,695.4L1031.0,695.4L1032.0,680.0L1033.0,695.4L1034.0,700.2L1035.0,703.0L1036.0,705.9L1037.0,708.8L1038.0,711.7L1039.0,714.6L1040.0,712.4L1041.0,710.3L1042.0,708.1L1043.0,705.9L1044.0,703.8L1045.0,701.6L1046.0,699.4L1047.0,697.3L1048.0,714.6L1049.0,705.9L1050.0,697.3L1051.0,705.9L1052.0,714.6L1053.0,705.9L1054.0,697.3L1055.0,710.6L1056.0,697.3L1057.0,703.0L1058.0,695.4L1059.0,680.0L1060.0,695.4L1061.0,697.3L1062.0,705.9L1063.0,714.6L1064.0,705.9L1065.0,697.3L1066.0,710.7L1067.0,695.4L1068.0,680.0L1069.0,695.4L1070.0,705.3L1071.0,702.6L1072.0,699.9L1073.0,695.4L1074.0,680.0L1075.0,695.4L1076.0,697.3L1077.0,710.7L1078.0,695.4L1079.0,680.0L1080.0,695.4L1081.0,710.7L1082.0,708.8L1083.0,703.0L1084.0,697.3L1085.0,714.6L1086.0,705.9L1087.0,697.3L1088.0,701.3L1089.0,705.4L1090.0,702.7L1091.0,700.0L1092.0,697.3L1093.0,705.9L1094.0,714.6L1095.0,705.9L1096.0,697.3L1097.0,714.6L1098.0,705.9L1099.0,695.4L1100.0,680.0L1101.0,695.4L1102.0,697.3L1103.0,701.8L1104.0,706.4L1105.0,710.9L1106.0,704.1L1107.0,697.3L1108.0,705.9L1109.0,714.6L1110.0,705.9L1111.0,697.3L1112.0,703.0L1113.0,708.8L1114.0,714.6L1115.0,705.9L1116.0,697.3L1117.0,714.6L1118.0,705.9L1119.0,697.3L1120.0,695.4L1121.0,680.0L1122.0,695.4L1123.0,708.8L1124.0,698.6L1125.0,672.0L1126.0,645.3L1127.0,672.0L1128.0,698.6L1129.0,704.2L1130.0,707.7L1131.0,711.1L1132.0,714.6L1133.0,712.1L1134.0,709.6L1135.0,707.2L1136.0,704.7L1137.0,702.2L1138.0,699.8L1139.0,695.4L1140.0,680.0L1141.0,695.4L1142.0,680.0L1143.0,695.4L1144.0,705.9L1145.0,697.3L1146.0,705.9L1147.0,714.6L1148.0,705.5L1149.0,684.1L1150.0,662.7L1151.0,684.1L1152.0,697.3L1153.0,695.4L1154.0,680.0L1155.0,695.4L1156.0,705.9L1157.0,714.6L1158.0,697.3L1159.0,705.9L1160.0,714.6L1161.0,705.9L1162.0,697.3L1163.0,714.6L1164.0,705.9L1165.0,697.3L1166.0,695.4L1167.0,680.0L1168.0,695.4L1169.0,702.1L1170.0,697.3L1171.0,714.6L1172.0,705.9L1173.0,697.3L1174.0,705.9L1175.0,714.6L1176.0,705.9L1177.0,697.3L1178.0,706.5L1179.0,695.4L1180.0,680.0L1181.0,695.4L1182.0,695.4L1183.0,680.0L1184.0,695.4L1185.0,710.7L1186.0,708.8L1187.0,695.4L1188.0,680.0L1189.0,695.4L1190.0,710.7L1191.0,697.3L1192.0,695.4L1193.0,680.0L1194.0,695.4L1195.0,697.3L1196.0,705.9L1197.0,714.6L1198.0,708.8L1199.0,703.0L1200.0,697.3L1201.0,703.0L1202.0,708.8L1203.0,714.6L1204.0,708.8L1205.0,703.0L1206.0,697.3L1207.0,705.5L1208.0,684.1L1209.0,662.7L1210.0,684.1L1211.0,705.5L1212.0,705.9L1213.0,697.3L1214.0,704.1L1215.0,710.9L1216.0,706.4L1217.0,701.8L1218.0,697.3L1219.0,705.9L1220.0,714.6L1221.0,708.8L1222.0,703.0L1223.0,697.3L1224.0,695.4L1225.0,680.0L1226.0,695.4L1227.0,695.4L1228.0,680.0L1229.0,695.4L1230.0,701.4L1231.0,697.3L1232.0,701.5L1233.0,705.8L1234.0,701.5L1235.0,697.3L1236.0,705.9L1237.0,714.6L1238.0,697.3L1239.0,705.9L1240.0,714.6L1241.0,708.8L1242.0,703.0L1243.0,695.4L1244.0,680.0L1245.0,695.4L1246.0,695.4L1247.0,680.0L1248.0,695.4L1249.0,705.9L1250.0,714.6L1251.0,705.9L1252.0,697.3L1253.0,695.4L1254.0,680.0L1255.0,695.4L1256.0,705.9L1257.0,698.6L1258.0,672.0L1259.0,645.3L1260.0,672.0L1261.0,662.7L1262.0,684.1L1263.0,705.5L1264.0,703.0L1265.0,697.3L1266.0,695.4L1267.0,680.0L1268.0,695.4L1269.0,705.9L1270.0,697.3L1271.0,660.0L1272.0,618.1L1273.0,576.1L1274.0,618.1L1275.0,660.0L1276.0,702.0L1277.0,697.3L1278.0,705.9L1279.0,710.7L1280.0,695.4L1281.0,680.0L1282.0,695.4L1283.0,697.3L1284.0,684.1L1285.0,662.7L1286.0,684.1L1287.0,705.5L1288.0,695.4L1289.0,680.0L1290.0,695.4L1291.0,710.7L1292.0,705.9L1293.0,697.3L1294.0,714.6L1295.0,705.9L1296.0,697.3L1297.0,703.0L1298.0,708.8L1299.0,714.6L1300.0,705.9L1301.0,697.3L1302.0,714.6L1303.0,705.9L1304.0,697.3L1305.0,703.0L1306.0,708.8L1307.0,714.6L1308.0,705.9L1309.0,697.3L1310.0,695.4L1311.0,680.0L1312.0,695.4L1313.0,697.3L1314.0,695.4L1315.0,680.0L1316.0,695.4L1317.0,705.9L1318.0,695.4L1319.0,680.0L1320.0,695.4L1321.0,697.3L1322.0,695.4L1323.0,680.0L1324.0,681.1L1325.0,645.9L1326.0,610.7L1327.0,645.9L1328.0,681.1L1329.0,714.6L1330.0,697.3L1331.0,705.9L1332.0,714.6L1333.0,708.8L1334.0,703.0L1335.0,697.3L1336.0,710.2L1337.0,697.3L1338.0,684.1L1339.0,662.7L1340.0,684.1L1341.0,697.3L1342.0,705.9L1343.0,714.6L1344.0,705.9L1345.0,697.3L1346.0,699.8L1347.0,702.2L1348.0,704.7L1349.0,707.2L1350.0,709.6L1351.0,712.1L1352.0,714.6L1353.0,711.1L1354.0,707.7L1355.0,704.2L1356.0,700.7L1357.0,697.3L1358.0,705.9L1359.0,695.4L1360.0,680.0L1361.0,695.4L1362.0,695.4L1363.0,680.0L1364.0,695.4L1365.0,710.7L1366.0,705.9L1367.0,697.3L1368.0,705.9L1369.0,714.6L1370.0,697.3L1371.0,705.9L1372.0,714.6L1373.0,705.9L1374.0,697.3L1375.0,695.4L1376.0,680.0L1377.0,695.4L1378.0,705.9L1379.0,695.4L1380.0,680.0L1381.0,695.4L1382.0,695.4L1383.0,680.0L1384.0,695.4L1385.0,703.0L1386.0,697.3L1387.0,705.9L1388.0,695.4L1389.0,680.0L1390.0,695.4L1391.0,710.7L1392.0,697.3L1393.0,705.9L1394.0,714.6L1395.0,708.8L1396.0,703.0L1397.0,697.3L1398.0,705.9L1399.0,705.5L1400.0,684.1L1401.0,662.7L1402.0,684.1L1403.0,705.5L1404.0,705.9L1405.0,695.4L1406.0,680.0L1407.0,695.4L1408.0,698.6L1409.0,672.0L1410.0,645.3L1411.0,672.0L1412.0,698.6L1413.0,708.8L1414.0,714.6L1415.0,705.9L1416.0,697.3L1417.0,705.9L1418.0,714.6L1419.0,697.3L1420.0,703.0L1421.0,705.5L1422.0,684.1L1423.0,662.7L1423.0,714.6Z"/>
<path class="ya" d="M271,576.1V714.6H259.2"/><path class="yt" d="M259.2,576.1H271.6"/>
<text class="tk" x="252.4" y="579.4">7</text><text class="tk" x="252.4" y="717.4">0</text>
<text class="lab" x="74" y="650.9">GSM2481688</text>
<path class="d" d="M272.0,868.5L272.0,857.0L273.0,845.4L274.0,853.1L275.0,860.8L276.0,861.4L277.0,841.9L278.0,822.4L279.0,841.9L280.0,841.9L281.0,822.4L282.0,841.9L283.0,861.4L284.0,868.5L285.0,862.7L286.0,857.0L287.0,851.2L288.0,845.4L289.0,841.9L290.0,822.4L291.0,841.9L292.0,861.4L293.0,841.9L294.0,822.4L295.0,825.9L296.0,799.3L297.0,825.9L298.0,852.5L299.0,868.5L300.0,862.7L301.0,857.0L302.0,851.2L303.0,845.4L304.0,851.2L305.0,857.0L306.0,862.7L307.0,861.4L308.0,841.9L309.0,822.4L310.0,841.9L311.0,861.4L312.0,857.0L313.0,845.4L314.0,853.1L315.0,860.8L316.0,868.5L317.0,860.8L318.0,853.1L319.0,845.4L320.0,857.0L321.0,861.4L322.0,841.9L323.0,822.4L324.0,841.9L325.0,848.3L326.0,849.8L327.0,851.2L328.0,852.7L329.0,854.1L330.0,855.5L331.0,857.0L332.0,858.4L333.0,859.9L334.0,861.3L335.0,862.7L336.0,864.2L337.0,865.6L338.0,867.1L339.0,868.5L340.0,866.6L341.0,864.7L342.0,862.7L343.0,860.8L344.0,858.9L345.0,841.9L346.0,822.4L347.0,841.9L348.0,851.2L349.0,841.9L350.0,822.4L351.0,841.9L352.0,841.9L353.0,822.4L354.0,841.9L355.0,861.4L356.0,860.8L357.0,853.1L358.0,845.4L359.0,848.4L360.0,851.4L361.0,854.3L362.0,857.3L363.0,860.3L364.0,855.3L365.0,850.4L366.0,845.4L367.0,857.0L368.0,868.5L369.0,857.0L370.0,845.4L371.0,853.8L372.0,862.1L373.0,845.4L374.0,850.8L375.0,856.2L376.0,861.6L377.0,857.6L378.0,853.5L379.0,849.5L380.0,845.4L381.0,857.0L382.0,841.9L383.0,822.4L384.0,841.9L385.0,848.3L386.0,851.2L387.0,854.1L388.0,857.0L389.0,859.9L390.0,862.7L391.0,865.6L392.0,868.5L393.0,865.6L394.0,862.7L395.0,859.9L396.0,857.0L397.0,854.1L398.0,851.2L399.0,848.3L400.0,845.4L401.0,851.2L402.0,857.0L403.0,862.7L404.0,868.5L405.0,860.8L406.0,853.1L407.0,845.4L408.0,853.1L409.0,860.8L410.0,868.5L411.0,857.0L412.0,845.4L413.0,854.4L414.0,861.4L415.0,841.9L416.0,822.4L417.0,841.9L418.0,861.4L419.0,841.9L420.0,822.4L421.0,841.9L422.0,822.4L423.0,841.9L424.0,845.4L425.0,850.1L426.0,854.7L427.0,859.3L428.0,863.9L429.0,868.5L430.0,866.4L431.0,864.3L432.0,862.2L433.0,860.1L434.0,841.4L435.0,808.8L436.0,776.2L437.0,808.8L438.0,841.4L439.0,847.5L440.0,845.4L441.0,851.2L442.0,857.0L443.0,862.7L444.0,868.5L445.0,857.0L446.0,845.4L447.0,848.7L448.0,852.0L449.0,855.3L450.0,858.6L451.0,861.9L452.0,865.2L453.0,868.5L454.0,865.2L455.0,861.9L456.0,858.6L457.0,855.3L458.0,852.0L459.0,828.4L460.0,790.7L461.0,753.1L462.0,790.7L463.0,828.4L464.0,860.8L465.0,853.1L466.0,845.4L467.0,851.2L468.0,857.0L469.0,862.7L470.0,868.5L471.0,862.7L472.0,857.0L473.0,851.2L474.0,845.4L475.0,858.7L476.0,852.1L477.0,845.4L478.0,850.1L479.0,854.7L480.0,859.3L481.0,863.9L482.0,868.5L483.0,862.7L484.0,857.0L485.0,851.2L486.0,845.4L487.0,850.1L488.0,854.7L489.0,841.9L490.0,822.4L491.0,841.9L492.0,861.4L493.0,857.0L494.0,851.2L495.0,845.4L496.0,851.2L497.0,857.0L498.0,862.7L499.0,868.5L500.0,862.7L501.0,857.0L502.0,851.2L503.0,845.4L504.0,851.2L505.0,857.0L506.0,861.4L507.0,841.9L508.0,822.4L509.0,841.9L510.0,851.2L511.0,845.4L512.0,853.1L513.0,860.8L514.0,868.5L515.0,862.7L516.0,857.0L517.0,851.2L518.0,845.4L519.0,851.2L520.0,857.0L521.0,862.7L522.0,868.5L523.0,862.7L524.0,857.0L525.0,841.9L526.0,822.4L527.0,825.9L528.0,799.3L529.0,825.9L530.0,841.4L531.0,808.8L532.0,776.2L533.0,808.8L534.0,841.4L535.0,851.2L536.0,857.0L537.0,862.7L538.0,861.4L539.0,841.9L540.0,822.4L541.0,841.9L542.0,845.4L543.0,851.2L544.0,857.0L545.0,862.7L546.0,868.5L547.0,860.8L548.0,853.1L549.0,845.4L550.0,847.3L551.0,849.1L552.0,851.0L553.0,852.5L554.0,825.9L555.0,799.3L556.0,825.9L557.0,825.9L558.0,799.3L559.0,825.9L560.0,845.4L561.0,849.3L562.0,853.2L563.0,857.1L564.0,860.9L565.0,857.8L566.0,854.7L567.0,851.6L568.0,848.5L569.0,845.4L570.0,868.5L571.0,857.0L572.0,845.4L573.0,850.1L574.0,854.7L575.0,859.3L576.0,863.9L577.0,868.5L578.0,865.2L579.0,861.9L580.0,858.6L581.0,855.3L582.0,852.0L583.0,848.7L584.0,845.4L585.0,853.1L586.0,860.8L587.0,868.5L588.0,860.8L589.0,853.1L590.0,841.9L591.0,822.4L592.0,841.9L593.0,858.4L594.0,862.7L595.0,859.2L596.0,855.8L597.0,852.3L598.0,848.9L599.0,845.4L600.0,848.3L601.0,851.2L602.0,854.1L603.0,857.0L604.0,859.9L605.0,862.7L606.0,865.6L607.0,868.5L608.0,865.6L609.0,862.7L610.0,859.9L611.0,857.0L612.0,854.1L613.0,851.2L614.0,848.3L615.0,845.4L616.0,853.1L617.0,860.8L618.0,868.5L619.0,857.0L620.0,841.9L621.0,822.4L622.0,825.9L623.0,799.3L624.0,825.9L625.0,841.9L626.0,822.4L627.0,841.9L628.0,845.4L629.0,847.9L630.0,841.9L631.0,822.4L632.0,841.9L633.0,851.9L634.0,848.7L635.0,845.4L636.0,853.1L637.0,841.9L638.0,822.4L639.0,841.9L640.0,853.1L641.0,845.4L642.0,848.7L643.0,852.0L644.0,855.3L645.0,858.6L646.0,861.9L647.0,865.2L648.0,868.5L649.0,866.0L650.0,863.4L651.0,860.8L652.0,858.3L653.0,855.7L654.0,853.1L655.0,850.6L656.0,848.0L657.0,845.4L658.0,853.1L659.0,860.8L660.0,868.5L661.0,860.8L662.0,853.1L663.0,845.4L664.0,848.9L665.0,852.3L666.0,855.7L667.0,859.2L668.0,841.9L669.0,822.4L670.0,841.9L671.0,848.5L672.0,851.6L673.0,854.7L674.0,850.1L675.0,845.4L676.0,857.0L677.0,861.4L678.0,841.9L679.0,822.4L680.0,841.9L681.0,841.9L682.0,822.4L683.0,841.9L684.0,857.0L685.0,845.4L686.0,850.1L687.0,825.9L688.0,799.3L689.0,825.9L690.0,852.5L691.0,862.7L692.0,857.0L693.0,851.2L694.0,845.4L695.0,851.2L696.0,857.0L697.0,862.7L698.0,868.5L699.0,860.8L700.0,853.1L701.0,845.4L702.0,857.0L703.0,861.4L704.0,841.9L705.0,822.4L706.0,841.9L707.0,847.4L708.0,849.3L709.0,851.2L710.0,853.1L711.0,855.1L712.0,853.5L713.0,851.9L714.0,850.3L715.0,848.6L716.0,828.4L717.0,790.7L718.0,753.1L719.0,790.7L720.0,828.4L721.0,863.9L722.0,868.5L723.0,862.7L724.0,857.0L725.0,851.2L726.0,845.4L727.0,851.2L728.0,841.9L729.0,822.4L730.0,841.9L731.0,860.8L732.0,853.1L733.0,845.4L734.0,853.1L735.0,860.8L736.0,868.5L737.0,862.7L738.0,857.0L739.0,851.2L740.0,845.4L741.0,851.5L742.0,857.6L743.0,863.6L744.0,857.6L745.0,851.5L746.0,845.4L747.0,850.8L748.0,856.1L749.0,852.6L750.0,849.0L751.0,841.9L752.0,822.4L753.0,841.9L754.0,861.4L755.0,860.8L756.0,853.1L757.0,845.4L758.0,850.1L759.0,854.7L760.0,841.9L761.0,822.4L762.0,841.9L763.0,861.4L764.0,860.8L765.0,857.0L766.0,853.1L767.0,849.3L768.0,845.4L769.0,853.1L770.0,860.8L771.0,868.5L772.0,860.8L773.0,853.1L774.0,845.4L775.0,841.9L776.0,822.4L777.0,841.9L778.0,853.1L779.0,845.4L780.0,853.1L781.0,841.9L782.0,822.4L783.0,841.9L784.0,845.4L785.0,853.1L786.0,860.8L787.0,868.5L788.0,862.7L789.0,857.0L790.0,851.2L791.0,845.4L792.0,851.2L793.0,857.0L794.0,862.7L795.0,868.5L796.0,862.7L797.0,857.0L798.0,851.2L799.0,845.4L800.0,851.2L801.0,857.0L802.0,852.5L803.0,825.9L804.0,799.3L805.0,825.9L806.0,851.2L807.0,845.4L808.0,849.5L809.0,853.6L810.0,857.6L811.0,854.6L812.0,851.5L813.0,848.5L814.0,845.4L815.0,857.0L816.0,868.5L817.0,857.0L818.0,845.4L819.0,849.2L820.0,853.0L821.0,841.9L822.0,822.4L823.0,841.9L824.0,854.6L825.0,851.5L826.0,848.5L827.0,845.4L828.0,868.5L829.0,857.0L830.0,845.4L831.0,850.1L832.0,854.7L833.0,859.3L834.0,863.9L835.0,868.5L836.0,862.7L837.0,857.0L838.0,851.2L839.0,845.4L840.0,853.1L841.0,860.8L842.0,868.5L843.0,860.8L844.0,853.1L845.0,845.4L846.0,848.7L847.0,852.0L848.0,855.3L849.0,858.6L850.0,861.9L851.0,865.2L852.0,868.5L853.0,852.5L854.0,825.9L855.0,799.3L856.0,825.9L857.0,849.3L858.0,845.4L859.0,857.0L860.0,868.5L861.0,857.0L862.0,845.4L863.0,846.9L864.0,848.4L865.0,849.9L866.0,851.4L867.0,825.9L868.0,799.3L869.0,825.9L870.0,852.5L871.0,858.9L872.0,856.9L873.0,855.0L874.0,853.1L875.0,851.2L876.0,849.3L877.0,847.4L878.0,845.4L879.0,851.2L880.0,825.9L881.0,799.3L882.0,825.9L883.0,852.5L884.0,853.1L885.0,845.4L886.0,825.9L887.0,799.3L888.0,825.9L889.0,799.3L890.0,825.9L891.0,852.5L892.0,865.6L893.0,868.5L894.0,864.7L895.0,860.8L896.0,841.9L897.0,822.4L898.0,841.9L899.0,845.4L900.0,825.9L901.0,799.3L902.0,825.9L903.0,852.5L904.0,861.4L905.0,841.9L906.0,822.4L907.0,841.9L908.0,859.3L909.0,854.7L910.0,850.1L911.0,845.4L912.0,857.0L913.0,868.5L914.0,860.8L915.0,853.1L916.0,845.4L917.0,857.0L918.0,868.5L919.0,857.0L920.0,845.4L921.0,850.1L922.0,854.7L923.0,859.3L924.0,863.9L925.0,868.5L926.0,861.4L927.0,841.9L928.0,822.4L929.0,841.9L930.0,847.9L931.0,850.4L932.0,852.8L933.0,855.3L934.0,852.0L935.0,848.7L936.0,845.4L937.0,851.2L938.0,857.0L939.0,862.7L940.0,868.5L941.0,862.7L942.0,857.0L943.0,851.2L944.0,845.4L945.0,850.1L946.0,854.7L947.0,859.3L948.0,863.9L949.0,868.5L950.0,862.7L951.0,857.0L952.0,851.2L953.0,845.4L954.0,848.7L955.0,852.0L956.0,855.3L957.0,858.6L958.0,861.9L959.0,865.2L960.0,868.5L961.0,864.7L962.0,860.8L963.0,857.0L964.0,853.1L965.0,849.3L966.0,841.9L967.0,822.4L968.0,841.9L969.0,841.9L970.0,822.4L971.0,841.9L972.0,845.4L973.0,851.2L974.0,857.0L975.0,852.5L976.0,825.9L977.0,799.3L978.0,825.9L979.0,852.5L980.0,850.1L981.0,845.4L982.0,857.0L983.0,868.5L984.0,862.7L985.0,857.0L986.0,851.2L987.0,845.4L988.0,853.1L989.0,860.8L990.0,868.5L991.0,860.8L992.0,853.1L993.0,845.4L994.0,850.1L995.0,854.7L996.0,859.3L997.0,863.9L998.0,868.5L999.0,867.0L1000.0,865.4L1001.0,863.9L1002.0,862.4L1003.0,860.8L1004.0,859.3L1005.0,857.7L1006.0,856.2L1007.0,854.7L1008.0,853.1L1009.0,851.6L1010.0,850.1L1011.0,848.5L1012.0,847.0L1013.0,845.4L1014.0,857.0L1015.0,868.5L1016.0,857.0L1017.0,845.4L1018.0,847.0L1019.0,848.5L1020.0,850.1L1021.0,851.6L1022.0,853.1L1023.0,854.7L1024.0,856.2L1025.0,857.7L1026.0,859.3L1027.0,860.8L1028.0,862.4L1029.0,863.9L1030.0,865.4L1031.0,867.0L1032.0,868.5L1033.0,865.2L1034.0,861.9L1035.0,858.6L1036.0,855.3L1037.0,852.0L1038.0,841.9L1039.0,822.4L1040.0,822.4L1041.0,841.9L1042.0,860.8L1043.0,853.1L1044.0,845.4L1045.0,849.7L1046.0,853.9L1047.0,858.2L1048.0,841.9L1049.0,822.4L1050.0,841.9L1051.0,851.2L1052.0,857.0L1053.0,862.7L1054.0,868.5L1055.0,862.7L1056.0,857.0L1057.0,851.2L1058.0,845.4L1059.0,841.9L1060.0,822.4L1061.0,841.9L1062.0,845.4L1063.0,857.0L1064.0,868.5L1065.0,857.0L1066.0,845.4L1067.0,853.1L1068.0,860.8L1069.0,868.5L1070.0,860.8L1071.0,853.1L1072.0,845.4L1073.0,853.1L1074.0,860.8L1075.0,868.5L1076.0,857.0L1077.0,845.4L1078.0,853.1L1079.0,860.8L1080.0,868.5L1081.0,860.8L1082.0,853.1L1083.0,845.4L1084.0,851.2L1085.0,852.5L1086.0,825.9L1087.0,799.3L1088.0,825.9L1089.0,852.5L1090.0,851.2L1091.0,845.4L1092.0,851.2L1093.0,814.0L1094.0,772.0L1095.0,730.0L1096.0,772.0L1097.0,814.0L1098.0,841.9L1099.0,822.4L1100.0,841.9L1101.0,860.8L1102.0,868.5L1103.0,860.8L1104.0,853.1L1105.0,845.4L1106.0,853.1L1107.0,860.8L1108.0,868.5L1109.0,857.0L1110.0,845.4L1111.0,849.3L1112.0,853.1L1113.0,857.0L1114.0,860.8L1115.0,864.7L1116.0,868.5L1117.0,864.7L1118.0,860.8L1119.0,857.0L1120.0,853.1L1121.0,849.3L1122.0,845.4L1123.0,851.2L1124.0,857.0L1125.0,862.7L1126.0,868.5L1127.0,863.9L1128.0,852.5L1129.0,825.9L1130.0,799.3L1131.0,825.9L1132.0,852.5L1133.0,868.5L1134.0,845.4L1135.0,857.0L1136.0,868.5L1137.0,841.4L1138.0,808.8L1139.0,776.2L1140.0,808.8L1141.0,841.4L1142.0,841.9L1143.0,822.4L1144.0,841.9L1145.0,851.2L1146.0,845.4L1147.0,841.9L1148.0,822.4L1149.0,841.9L1150.0,852.5L1151.0,825.9L1152.0,799.3L1153.0,825.9L1154.0,822.4L1155.0,841.9L1156.0,850.4L1157.0,852.9L1158.0,855.4L1159.0,853.4L1160.0,851.4L1161.0,849.4L1162.0,841.9L1163.0,822.4L1164.0,841.9L1165.0,861.4L1166.0,852.5L1167.0,825.9L1168.0,799.3L1169.0,825.9L1170.0,851.2L1171.0,857.0L1172.0,862.7L1173.0,868.5L1174.0,862.7L1175.0,857.0L1176.0,851.2L1177.0,845.4L1178.0,851.2L1179.0,857.0L1180.0,862.7L1181.0,868.5L1182.0,862.7L1183.0,857.0L1184.0,851.2L1185.0,845.4L1186.0,853.1L1187.0,860.8L1188.0,868.5L1189.0,862.7L1190.0,857.0L1191.0,841.9L1192.0,822.4L1193.0,841.9L1194.0,861.4L1195.0,857.0L1196.0,845.4L1197.0,847.5L1198.0,849.6L1199.0,851.7L1200.0,853.8L1201.0,855.9L1202.0,858.0L1203.0,860.1L1204.0,862.2L1205.0,864.3L1206.0,866.4L1207.0,868.5L1208.0,866.0L1209.0,863.4L1210.0,841.4L1211.0,808.8L1212.0,776.2L1213.0,808.8L1214.0,841.4L1215.0,848.0L1216.0,845.4L1217.0,853.1L1218.0,860.8L1219.0,868.5L1220.0,863.9L1221.0,859.3L1222.0,854.7L1223.0,850.1L1224.0,845.4L1225.0,851.0L1226.0,841.9L1227.0,822.4L1228.0,841.9L1229.0,841.9L1230.0,822.4L1231.0,841.9L1232.0,857.0L1233.0,845.4L1234.0,857.0L1235.0,868.5L1236.0,860.8L1237.0,853.1L1238.0,845.4L1239.0,853.1L1240.0,860.8L1241.0,861.4L1242.0,841.9L1243.0,822.4L1244.0,841.9L1245.0,857.0L1246.0,868.5L1247.0,860.8L1248.0,853.1L1249.0,845.4L1250.0,853.1L1251.0,841.9L1252.0,822.4L1253.0,841.9L1254.0,857.0L1255.0,851.2L1256.0,845.4L1257.0,848.0L1258.0,850.6L1259.0,853.1L1260.0,855.7L1261.0,858.3L1262.0,860.8L1263.0,863.4L1264.0,866.0L1265.0,868.5L1266.0,865.2L1267.0,861.9L1268.0,841.4L1269.0,808.8L1270.0,776.2L1271.0,808.8L1272.0,772.0L1273.0,730.0L1274.0,772.0L1275.0,814.0L1276.0,845.4L1277.0,853.1L1278.0,860.8L1279.0,828.4L1280.0,790.7L1281.0,753.1L1282.0,790.7L1283.0,825.9L1284.0,799.3L1285.0,825.9L1286.0,852.5L1287.0,868.5L1288.0,860.8L1289.0,853.1L1290.0,845.4L1291.0,853.1L1292.0,860.8L1293.0,868.5L1294.0,860.8L1295.0,853.1L1296.0,845.4L1297.0,849.3L1298.0,853.1L1299.0,857.0L1300.0,860.8L1301.0,864.7L1302.0,868.5L1303.0,867.2L1304.0,866.0L1305.0,864.7L1306.0,863.4L1307.0,862.1L1308.0,860.8L1309.0,859.5L1310.0,858.3L1311.0,857.0L1312.0,841.9L1313.0,822.4L1314.0,841.9L1315.0,851.8L1316.0,850.6L1317.0,849.3L1318.0,848.0L1319.0,846.7L1320.0,845.4L1321.0,857.0L1322.0,868.5L1323.0,860.8L1324.0,853.1L1325.0,845.4L1326.0,857.0L1327.0,868.5L1328.0,857.0L1329.0,845.4L1330.0,847.8L1331.0,850.2L1332.0,852.6L1333.0,854.9L1334.0,850.2L1335.0,845.4L1336.0,847.4L1337.0,849.3L1338.0,841.9L1339.0,822.4L1340.0,841.9L1341.0,852.8L1342.0,850.3L1343.0,847.9L1344.0,845.4L1345.0,853.1L1346.0,841.9L1347.0,822.4L1348.0,841.9L1349.0,857.0L1350.0,851.2L1351.0,841.9L1352.0,822.4L1353.0,841.9L1354.0,861.4L1355.0,841.9L1356.0,822.4L1357.0,841.4L1358.0,808.8L1359.0,776.2L1360.0,808.8L1361.0,822.4L1362.0,841.9L1363.0,851.2L1364.0,857.0L1365.0,862.7L1366.0,868.5L1367.0,852.5L1368.0,825.9L1369.0,799.3L1370.0,825.9L1371.0,845.4L1372.0,849.2L1373.0,852.9L1374.0,856.7L1375.0,854.4L1376.0,852.2L1377.0,849.9L1378.0,847.7L1379.0,845.4L1380.0,857.0L1381.0,868.5L1382.0,862.7L1383.0,857.0L1384.0,851.2L1385.0,845.4L1386.0,848.4L1387.0,851.3L1388.0,841.4L1389.0,808.8L1390.0,776.2L1391.0,808.8L1392.0,822.4L1393.0,841.9L1394.0,850.6L1395.0,853.1L1396.0,855.7L1397.0,858.3L1398.0,860.8L1399.0,863.4L1400.0,866.0L1401.0,868.5L1402.0,865.2L1403.0,861.9L1404.0,858.6L1405.0,855.3L1406.0,852.0L1407.0,825.9L1408.0,799.3L1409.0,799.3L1410.0,825.9L1411.0,852.5L1412.0,868.5L1413.0,863.9L1414.0,859.3L1415.0,841.9L1416.0,822.4L1417.0,841.9L1418.0,857.0L1419.0,868.5L1420.0,860.8L1421.0,853.1L1422.0,841.9L1423.0,822.4L1423.0,868.5Z"/>
<path class="ya" d="M271,730.0V868.5H259.2"/><path class="yt" d="M259.2,730.0H271.6"/>
<text class="tk" x="252.4" y="733.3">8</text><text class="tk" x="252.4" y="871.3">0</text>
<text class="lab" x="74" y="804.9">GSM2481687</text>
<path class="d" d="M272.0,1022.5L272.0,979.8L273.0,1006.5L274.0,1007.5L275.0,994.8L276.0,1007.5L277.0,994.8L278.0,1007.5L279.0,1020.2L280.0,1015.5L281.0,1008.6L282.0,1015.5L283.0,1007.5L284.0,994.8L285.0,1007.5L286.0,1007.5L287.0,994.8L288.0,1007.5L289.0,1008.6L290.0,1015.5L291.0,1022.5L292.0,1008.6L293.0,1015.0L294.0,1008.6L295.0,1014.8L296.0,1008.6L297.0,1012.0L298.0,1015.4L299.0,1007.5L300.0,994.8L301.0,1007.5L302.0,1014.7L303.0,1017.7L304.0,1013.1L305.0,1008.6L306.0,1012.4L307.0,1012.1L308.0,989.6L309.0,967.1L310.0,989.6L311.0,994.8L312.0,1007.5L313.0,1015.5L314.0,1022.5L315.0,1015.5L316.0,1008.6L317.0,1007.5L318.0,994.8L319.0,1007.5L320.0,1008.6L321.0,1018.6L322.0,1008.6L323.0,1007.5L324.0,994.8L325.0,1007.5L326.0,1008.6L327.0,1013.2L328.0,1017.8L329.0,1022.5L330.0,1015.5L331.0,1008.6L332.0,998.8L333.0,980.9L334.0,998.8L335.0,1008.6L336.0,1015.5L337.0,1022.5L338.0,1008.6L339.0,1015.5L340.0,1020.2L341.0,1007.5L342.0,994.8L343.0,1007.5L344.0,1020.2L345.0,1015.5L346.0,1008.6L347.0,1015.5L348.0,1022.5L349.0,1015.5L350.0,1008.6L351.0,1015.5L352.0,1022.5L353.0,1008.6L354.0,1011.8L355.0,1015.1L356.0,1008.6L357.0,1015.5L358.0,1022.5L359.0,1008.6L360.0,1015.5L361.0,1022.5L362.0,1017.8L363.0,1013.2L364.0,1007.5L365.0,994.8L366.0,979.8L367.0,953.2L368.0,979.8L369.0,1006.5L370.0,1017.8L371.0,1013.2L372.0,1008.6L373.0,1015.5L374.0,1022.5L375.0,1015.5L376.0,1008.6L377.0,1012.2L378.0,1007.5L379.0,994.8L380.0,1007.5L381.0,1013.2L382.0,1017.8L383.0,1022.5L384.0,1015.5L385.0,1008.6L386.0,1010.8L387.0,1007.5L388.0,994.8L389.0,1007.5L390.0,1008.6L391.0,1015.5L392.0,1022.5L393.0,1017.8L394.0,1007.5L395.0,994.8L396.0,1007.5L397.0,1008.6L398.0,1015.5L399.0,1020.2L400.0,1007.5L401.0,994.8L402.0,1007.5L403.0,1015.5L404.0,1008.6L405.0,1013.2L406.0,1017.8L407.0,1022.5L408.0,1015.5L409.0,1008.6L410.0,1015.5L411.0,1022.5L412.0,1015.5L413.0,998.8L414.0,980.9L415.0,998.8L416.0,1015.5L417.0,1022.5L418.0,1015.5L419.0,1008.6L420.0,1015.8L421.0,1012.2L422.0,1007.5L423.0,994.8L424.0,1007.5L425.0,1008.6L426.0,1015.5L427.0,1022.5L428.0,1017.8L429.0,1013.2L430.0,1008.6L431.0,1015.5L432.0,1020.2L433.0,1007.5L434.0,994.8L435.0,1007.5L436.0,1015.5L437.0,1008.6L438.0,1017.0L439.0,1008.6L440.0,1022.5L441.0,1015.5L442.0,1008.6L443.0,1013.2L444.0,1007.5L445.0,994.8L446.0,1007.5L447.0,1008.6L448.0,998.8L449.0,980.9L450.0,998.8L451.0,994.8L452.0,1007.5L453.0,1013.2L454.0,1008.6L455.0,1015.5L456.0,1022.5L457.0,1008.6L458.0,1015.5L459.0,1022.5L460.0,1015.5L461.0,1008.6L462.0,1011.4L463.0,1014.1L464.0,1016.9L465.0,1019.7L466.0,1022.5L467.0,1020.1L468.0,1017.8L469.0,1015.5L470.0,1013.2L471.0,1010.9L472.0,1008.6L473.0,1011.9L474.0,998.8L475.0,980.9L476.0,998.8L477.0,1016.7L478.0,1015.5L479.0,1008.6L480.0,1017.7L481.0,1008.6L482.0,1015.5L483.0,998.8L484.0,980.9L485.0,998.8L486.0,1007.5L487.0,994.8L488.0,1007.5L489.0,1008.6L490.0,1015.5L491.0,1022.5L492.0,1008.6L493.0,1012.7L494.0,1016.9L495.0,1012.7L496.0,1008.6L497.0,1022.5L498.0,1015.5L499.0,1008.6L500.0,1015.5L501.0,1022.5L502.0,1015.5L503.0,998.8L504.0,980.9L505.0,998.8L506.0,1015.5L507.0,1008.6L508.0,1015.5L509.0,1022.5L510.0,1015.5L511.0,1007.5L512.0,994.8L513.0,1007.5L514.0,1008.6L515.0,1015.5L516.0,1022.5L517.0,1015.5L518.0,1008.6L519.0,1017.8L520.0,1013.2L521.0,1008.6L522.0,1017.6L523.0,1008.6L524.0,1015.5L525.0,1022.5L526.0,1015.5L527.0,1008.6L528.0,1015.5L529.0,1020.2L530.0,1007.5L531.0,994.8L532.0,1007.5L533.0,1008.6L534.0,1015.5L535.0,1022.5L536.0,1017.8L537.0,1013.2L538.0,1007.5L539.0,994.8L540.0,1007.5L541.0,1011.8L542.0,1008.6L543.0,1015.5L544.0,1020.2L545.0,1007.5L546.0,994.8L547.0,1007.5L548.0,1020.2L549.0,1015.5L550.0,1008.6L551.0,1015.5L552.0,1022.5L553.0,1008.6L554.0,1018.4L555.0,1013.5L556.0,1007.5L557.0,994.8L558.0,1007.5L559.0,1017.8L560.0,1013.2L561.0,1008.6L562.0,1018.9L563.0,1008.6L564.0,1015.5L565.0,1020.2L566.0,1007.5L567.0,994.8L568.0,1007.5L569.0,1013.2L570.0,1015.5L571.0,1017.8L572.0,1020.1L573.0,1022.5L574.0,1020.5L575.0,1018.5L576.0,1016.5L577.0,1014.5L578.0,1012.6L579.0,1010.6L580.0,1008.6L581.0,1015.5L582.0,1020.2L583.0,1007.5L584.0,994.8L585.0,1007.5L586.0,1020.2L587.0,1015.5L588.0,1008.6L589.0,1015.5L590.0,1022.5L591.0,1008.6L592.0,1016.7L593.0,998.8L594.0,980.9L595.0,998.8L596.0,1007.5L597.0,994.8L598.0,1007.5L599.0,1008.6L600.0,1007.5L601.0,994.8L602.0,1007.5L603.0,1015.5L604.0,1007.5L605.0,994.8L606.0,1007.5L607.0,1007.5L608.0,994.8L609.0,1007.5L610.0,1012.7L611.0,1007.5L612.0,994.8L613.0,1007.5L614.0,1008.6L615.0,998.8L616.0,980.9L617.0,998.8L618.0,1008.6L619.0,1011.4L620.0,1014.1L621.0,1016.9L622.0,1019.7L623.0,1022.5L624.0,1020.1L625.0,1017.8L626.0,1015.5L627.0,1013.2L628.0,1010.9L629.0,1008.6L630.0,1007.5L631.0,994.8L632.0,1007.5L633.0,1008.6L634.0,1011.9L635.0,1015.3L636.0,1007.5L637.0,994.8L638.0,1007.5L639.0,1017.0L640.0,1008.6L641.0,1012.1L642.0,1015.6L643.0,1012.1L644.0,1008.6L645.0,1013.6L646.0,1007.5L647.0,994.8L648.0,1007.5L649.0,1015.5L650.0,1007.5L651.0,994.8L652.0,1007.5L653.0,1007.5L654.0,994.8L655.0,1007.5L656.0,1013.2L657.0,1008.6L658.0,1012.0L659.0,1015.3L660.0,1012.0L661.0,998.8L662.0,980.9L663.0,998.8L664.0,1015.5L665.0,1008.6L666.0,1015.5L667.0,1020.2L668.0,1007.5L669.0,994.8L670.0,1007.5L671.0,1017.8L672.0,1022.5L673.0,1015.5L674.0,1008.6L675.0,998.8L676.0,980.9L677.0,998.8L678.0,1015.5L679.0,1022.5L680.0,1015.5L681.0,1008.6L682.0,1012.1L683.0,1015.5L684.0,1019.0L685.0,1022.5L686.0,1019.7L687.0,1016.9L688.0,1014.1L689.0,1011.4L690.0,1008.6L691.0,1020.2L692.0,1007.5L693.0,994.8L694.0,1007.5L695.0,1020.2L696.0,1017.8L697.0,1013.2L698.0,1008.6L699.0,1015.3L700.0,1008.6L701.0,1022.5L702.0,1015.5L703.0,1008.6L704.0,1015.5L705.0,1007.5L706.0,994.8L707.0,1007.5L708.0,1015.5L709.0,1022.5L710.0,1015.5L711.0,1007.5L712.0,994.8L713.0,1007.5L714.0,1013.2L715.0,1017.8L716.0,1022.5L717.0,1015.5L718.0,1008.6L719.0,1007.5L720.0,994.8L721.0,1007.5L722.0,1008.6L723.0,1015.5L724.0,1022.5L725.0,1015.5L726.0,1008.6L727.0,1007.5L728.0,994.8L729.0,1007.5L730.0,1014.6L731.0,1011.6L732.0,1008.6L733.0,1015.5L734.0,1022.5L735.0,1015.5L736.0,1008.6L737.0,1007.5L738.0,994.8L739.0,1007.5L740.0,1013.2L741.0,1017.8L742.0,1022.5L743.0,1015.5L744.0,1008.6L745.0,1013.6L746.0,1018.6L747.0,1007.5L748.0,994.8L749.0,1007.5L750.0,1014.6L751.0,998.8L752.0,980.9L753.0,998.8L754.0,1016.7L755.0,1015.5L756.0,1008.6L757.0,1012.0L758.0,1015.3L759.0,1012.0L760.0,1008.6L761.0,1015.5L762.0,1022.5L763.0,1015.5L764.0,1008.6L765.0,1018.6L766.0,1008.6L767.0,1014.1L768.0,1019.6L769.0,1008.6L770.0,1022.5L771.0,1015.5L772.0,1007.5L773.0,994.8L774.0,1007.5L775.0,994.8L776.0,1007.5L777.0,1015.5L778.0,1008.6L779.0,1022.5L780.0,1015.5L781.0,1008.6L782.0,1015.5L783.0,1022.5L784.0,1008.6L785.0,1022.5L786.0,1015.5L787.0,1008.6L788.0,1011.3L789.0,1014.0L790.0,998.8L791.0,980.9L792.0,998.8L793.0,1016.7L794.0,1015.5L795.0,1008.6L796.0,1018.9L797.0,1008.6L798.0,1015.5L799.0,1020.2L800.0,1007.5L801.0,994.8L802.0,1007.5L803.0,1007.5L804.0,994.8L805.0,1007.5L806.0,1011.8L807.0,1008.6L808.0,1015.5L809.0,1022.5L810.0,1015.5L811.0,1008.6L812.0,1015.5L813.0,1022.5L814.0,1015.5L815.0,1008.6L816.0,1013.2L817.0,1017.8L818.0,1013.2L819.0,1008.6L820.0,1007.5L821.0,994.8L822.0,1007.5L823.0,1008.6L824.0,1015.5L825.0,1022.5L826.0,1015.5L827.0,1008.6L828.0,1022.5L829.0,1015.5L830.0,1008.6L831.0,1013.2L832.0,1017.8L833.0,1013.2L834.0,1008.6L835.0,1015.5L836.0,1022.5L837.0,1015.5L838.0,998.8L839.0,980.9L840.0,998.8L841.0,1016.7L842.0,1013.2L843.0,1008.6L844.0,1015.5L845.0,1022.5L846.0,1008.6L847.0,1007.5L848.0,994.8L849.0,1007.5L850.0,1015.5L851.0,1022.5L852.0,1015.5L853.0,1008.6L854.0,1015.5L855.0,1022.5L856.0,1015.5L857.0,1008.6L858.0,1018.6L859.0,1008.6L860.0,1012.4L861.0,1016.2L862.0,1008.6L863.0,1015.5L864.0,1022.5L865.0,1008.6L866.0,998.8L867.0,980.9L868.0,998.8L869.0,1014.1L870.0,1008.6L871.0,1010.9L872.0,1013.2L873.0,1015.5L874.0,1017.8L875.0,1020.1L876.0,1022.5L877.0,1020.1L878.0,1017.8L879.0,1015.5L880.0,1013.2L881.0,1010.9L882.0,1008.6L883.0,1007.5L884.0,994.8L885.0,1007.5L886.0,1015.5L887.0,1008.6L888.0,1007.5L889.0,994.8L890.0,1007.5L891.0,1008.6L892.0,1015.5L893.0,1022.5L894.0,1008.6L895.0,1012.1L896.0,989.6L897.0,967.1L898.0,989.6L899.0,967.1L900.0,989.6L901.0,1012.1L902.0,1015.5L903.0,1008.6L904.0,1022.5L905.0,1015.5L906.0,998.8L907.0,980.9L908.0,998.8L909.0,1015.5L910.0,1008.6L911.0,1010.6L912.0,1012.6L913.0,1014.5L914.0,1016.5L915.0,1018.5L916.0,1020.5L917.0,1022.5L918.0,1019.7L919.0,1016.9L920.0,1014.1L921.0,1011.4L922.0,1008.6L923.0,1022.5L924.0,1015.5L925.0,1007.5L926.0,994.8L927.0,1007.5L928.0,1015.5L929.0,1008.6L930.0,1022.5L931.0,1015.5L932.0,1008.6L933.0,1015.5L934.0,1022.5L935.0,1017.8L936.0,1013.2L937.0,1008.6L938.0,1013.2L939.0,1017.8L940.0,1022.5L941.0,1015.5L942.0,1008.6L943.0,1015.5L944.0,1022.5L945.0,1008.6L946.0,1018.9L947.0,1008.6L948.0,1022.5L949.0,1015.5L950.0,1008.6L951.0,1015.5L952.0,1022.5L953.0,1015.5L954.0,1008.6L955.0,1015.5L956.0,1022.5L957.0,1017.8L958.0,1013.2L959.0,1008.6L960.0,1015.5L961.0,1022.5L962.0,1015.5L963.0,1008.6L964.0,1015.5L965.0,1020.2L966.0,1007.5L967.0,994.8L968.0,1007.5L969.0,1020.2L970.0,1007.5L971.0,994.8L972.0,1007.5L973.0,1020.2L974.0,1015.5L975.0,1008.6L976.0,1015.5L977.0,1022.5L978.0,1015.5L979.0,1008.6L980.0,1011.8L981.0,1014.9L982.0,1011.8L983.0,1008.6L984.0,1017.0L985.0,1008.6L986.0,1015.5L987.0,1022.5L988.0,1015.5L989.0,1008.6L990.0,1019.4L991.0,1008.6L992.0,1015.5L993.0,1020.2L994.0,1007.5L995.0,994.8L996.0,1007.5L997.0,994.8L998.0,1007.5L999.0,1008.6L1000.0,1015.5L1001.0,1022.5L1002.0,1008.6L1003.0,1017.2L1004.0,1008.6L1005.0,1015.5L1006.0,1022.5L1007.0,1015.5L1008.0,1008.6L1009.0,1016.1L1010.0,1008.6L1011.0,1015.5L1012.0,1022.5L1013.0,1015.5L1014.0,1008.6L1015.0,1017.1L1016.0,1008.6L1017.0,1015.5L1018.0,1022.5L1019.0,1015.5L1020.0,1008.6L1021.0,1016.7L1022.0,998.8L1023.0,980.9L1024.0,998.8L1025.0,1016.7L1026.0,1017.8L1027.0,1013.2L1028.0,1008.6L1029.0,1015.5L1030.0,1022.5L1031.0,1015.5L1032.0,1008.6L1033.0,1015.5L1034.0,1007.5L1035.0,994.8L1036.0,994.8L1037.0,1007.5L1038.0,1017.8L1039.0,1013.2L1040.0,1008.6L1041.0,1018.7L1042.0,1008.6L1043.0,1015.5L1044.0,1022.5L1045.0,1017.8L1046.0,1013.2L1047.0,1008.6L1048.0,1022.5L1049.0,1015.5L1050.0,1008.6L1051.0,1015.5L1052.0,1007.5L1053.0,994.8L1054.0,1007.5L1055.0,1007.5L1056.0,994.8L1057.0,1007.5L1058.0,1007.5L1059.0,994.8L1060.0,1007.5L1061.0,1014.0L1062.0,1019.4L1063.0,1014.0L1064.0,1007.5L1065.0,994.8L1066.0,1007.5L1067.0,1015.5L1068.0,1007.5L1069.0,994.8L1070.0,1007.5L1071.0,1013.5L1072.0,1008.6L1073.0,1015.5L1074.0,1022.5L1075.0,1015.5L1076.0,1008.6L1077.0,1012.2L1078.0,1015.8L1079.0,1016.7L1080.0,998.8L1081.0,980.9L1082.0,998.8L1083.0,1016.7L1084.0,1007.5L1085.0,994.8L1086.0,1007.5L1087.0,1008.6L1088.0,1015.5L1089.0,998.8L1090.0,980.9L1091.0,998.8L1092.0,1015.3L1093.0,1007.5L1094.0,994.8L1095.0,1007.5L1096.0,1015.5L1097.0,1008.6L1098.0,1015.5L1099.0,1022.5L1100.0,1017.8L1101.0,1013.2L1102.0,1008.6L1103.0,1015.5L1104.0,1022.5L1105.0,1017.8L1106.0,1007.5L1107.0,994.8L1108.0,1007.5L1109.0,1020.2L1110.0,1015.5L1111.0,1008.6L1112.0,1019.4L1113.0,1008.6L1114.0,1015.5L1115.0,1022.5L1116.0,1017.8L1117.0,1013.2L1118.0,1008.6L1119.0,1016.1L1120.0,1008.6L1121.0,1015.5L1122.0,1007.5L1123.0,994.8L1124.0,1007.5L1125.0,1015.5L1126.0,1016.7L1127.0,998.8L1128.0,980.9L1129.0,998.8L1130.0,1016.7L1131.0,1007.5L1132.0,994.8L1133.0,1007.5L1134.0,1020.2L1135.0,1015.5L1136.0,1008.6L1137.0,1015.5L1138.0,1007.5L1139.0,994.8L1140.0,1007.5L1141.0,1016.1L1142.0,1012.3L1143.0,1008.6L1144.0,1015.5L1145.0,1022.5L1146.0,1015.5L1147.0,1008.6L1148.0,1015.5L1149.0,1007.5L1150.0,994.8L1151.0,1007.5L1152.0,1019.5L1153.0,1008.6L1154.0,998.8L1155.0,980.9L1156.0,998.8L1157.0,1008.6L1158.0,1015.5L1159.0,1022.5L1160.0,1015.5L1161.0,1008.6L1162.0,1015.5L1163.0,1007.5L1164.0,994.8L1165.0,1007.5L1166.0,998.8L1167.0,980.9L1168.0,998.8L1169.0,1008.6L1170.0,1022.5L1171.0,1015.5L1172.0,1008.6L1173.0,1018.9L1174.0,1008.6L1175.0,1013.9L1176.0,1019.1L1177.0,1013.9L1178.0,1008.6L1179.0,1010.9L1180.0,1013.2L1181.0,1015.5L1182.0,1017.8L1183.0,1020.1L1184.0,1022.5L1185.0,1020.1L1186.0,1017.8L1187.0,1015.5L1188.0,1013.2L1189.0,1010.9L1190.0,1008.6L1191.0,1015.5L1192.0,1022.5L1193.0,1008.6L1194.0,1022.5L1195.0,1015.5L1196.0,1008.6L1197.0,1015.5L1198.0,1022.5L1199.0,1017.8L1200.0,1013.2L1201.0,1008.6L1202.0,1016.2L1203.0,1008.6L1204.0,1007.5L1205.0,994.8L1206.0,1007.5L1207.0,1015.5L1208.0,1022.5L1209.0,1008.6L1210.0,1013.2L1211.0,1017.8L1212.0,1022.5L1213.0,1015.5L1214.0,1008.6L1215.0,1016.7L1216.0,998.8L1217.0,980.9L1218.0,998.8L1219.0,1008.6L1220.0,1015.5L1221.0,1022.5L1222.0,1017.8L1223.0,1013.2L1224.0,1008.6L1225.0,1018.0L1226.0,1008.6L1227.0,1017.8L1228.0,1008.6L1229.0,1015.5L1230.0,1022.5L1231.0,1008.6L1232.0,1015.5L1233.0,1007.5L1234.0,994.8L1235.0,1007.5L1236.0,1015.5L1237.0,1022.5L1238.0,1008.6L1239.0,1022.5L1240.0,1015.5L1241.0,1008.6L1242.0,1022.5L1243.0,1015.5L1244.0,1008.6L1245.0,1015.5L1246.0,1022.5L1247.0,1008.6L1248.0,1015.5L1249.0,1022.5L1250.0,1015.5L1251.0,1008.6L1252.0,1014.6L1253.0,1008.6L1254.0,1010.9L1255.0,1013.2L1256.0,1015.5L1257.0,1017.8L1257.4,1019.7L1262.5,1008.6L1264.2,994.8L1265.4,998.9L1266.5,980.9L1268.2,989.6L1270.5,969.3L1271.6,952.2L1272.4,884.0L1273.7,884.0L1274.4,940.7L1275.6,972.6L1277.3,1015.5L1278.0,1015.5L1279.0,1007.5L1280.0,994.8L1281.0,1007.5L1282.0,1017.8L1283.0,1013.2L1284.0,1008.6L1285.0,1013.2L1286.0,1017.8L1287.0,1020.2L1288.0,1007.5L1289.0,994.8L1290.0,1007.5L1291.0,1020.2L1292.0,1015.5L1293.0,1008.6L1294.0,1015.5L1295.0,1022.5L1296.0,1017.8L1297.0,1013.2L1298.0,1008.6L1299.0,1017.9L1300.0,1007.5L1301.0,994.8L1302.0,1007.5L1303.0,1020.2L1304.0,1015.5L1305.0,1008.6L1306.0,1015.1L1307.0,1008.6L1308.0,989.6L1309.0,967.1L1310.0,989.6L1311.0,1008.6L1312.0,1022.5L1313.0,1015.5L1314.0,1008.6L1315.0,1015.5L1316.0,1020.2L1317.0,1007.5L1318.0,994.8L1319.0,1007.5L1320.0,1020.2L1321.0,1008.6L1322.0,1022.5L1323.0,1015.5L1324.0,1008.6L1325.0,998.8L1326.0,980.9L1327.0,998.8L1328.0,1013.2L1329.0,1017.8L1330.0,1022.5L1331.0,1015.5L1332.0,1008.6L1333.0,1012.0L1334.0,1015.4L1335.0,1008.6L1336.0,1013.2L1337.0,1017.8L1338.0,1022.5L1339.0,1015.5L1340.0,1008.6L1341.0,1016.3L1342.0,1008.6L1343.0,1015.6L1344.0,1008.6L1345.0,1007.5L1346.0,994.8L1347.0,1007.5L1348.0,994.8L1349.0,1007.5L1350.0,1017.8L1351.0,1022.5L1352.0,1015.5L1353.0,1008.6L1354.0,1015.5L1355.0,1020.2L1356.0,1007.5L1357.0,994.8L1358.0,1007.5L1359.0,1013.1L1360.0,1008.6L1361.0,1019.2L1362.0,1008.6L1363.0,1007.5L1364.0,994.8L1365.0,1007.5L1366.0,1007.5L1367.0,994.8L1368.0,1007.5L1369.0,1007.5L1370.0,994.8L1371.0,1007.5L1372.0,1020.2L1373.0,1017.8L1374.0,1013.2L1375.0,1008.6L1376.0,1012.4L1377.0,1007.5L1378.0,994.8L1379.0,1007.5L1380.0,1012.6L1381.0,1008.6L1382.0,1015.5L1383.0,1022.5L1384.0,1015.5L1385.0,1008.6L1386.0,1015.5L1387.0,998.8L1388.0,980.9L1389.0,998.8L1390.0,1015.5L1391.0,1022.5L1392.0,1015.5L1393.0,1008.6L1394.0,1007.5L1395.0,994.8L1396.0,1007.5L1397.0,1008.6L1398.0,1015.5L1399.0,1022.5L1400.0,1008.6L1401.0,1012.2L1402.0,1015.8L1403.0,1012.2L1404.0,1008.6L1405.0,1007.5L1406.0,994.8L1407.0,1006.5L1408.0,979.8L1409.0,953.2L1410.0,979.8L1411.0,967.1L1412.0,989.6L1413.0,1012.1L1414.0,1007.5L1415.0,994.8L1416.0,1007.5L1417.0,1015.5L1418.0,998.8L1419.0,980.9L1420.0,998.8L1421.0,1008.6L1422.0,1013.2L1423.0,1017.8L1423.0,1022.5Z"/>
<path class="ya" d="M271,884.0V1022.5H259.2"/><path class="yt" d="M259.2,884.0H271.6"/>
<text class="tk" x="252.4" y="887.2">8</text><text class="tk" x="252.4" y="1025.2">0</text>
<text class="lab" x="74" y="958.8">GSM2481686</text>
<path class="d" d="M272.0,1176.4L272.0,1143.5L273.0,1148.7L274.0,1155.6L275.0,1162.5L276.0,1139.0L277.0,1102.3L278.0,1065.6L279.0,1102.3L280.0,1139.0L281.0,1148.7L282.0,1162.5L283.0,1176.4L284.0,1162.5L285.0,1148.7L286.0,1157.9L287.0,1167.1L288.0,1176.4L289.0,1162.5L290.0,1148.7L291.0,1155.6L292.0,1162.5L293.0,1169.5L294.0,1176.4L295.0,1167.1L296.0,1157.9L297.0,1148.7L298.0,1123.6L299.0,1093.3L300.0,1123.6L301.0,1153.9L302.0,1169.5L303.0,1162.5L304.0,1155.6L305.0,1148.7L306.0,1151.5L307.0,1154.2L308.0,1143.5L309.0,1121.0L310.0,1143.5L311.0,1165.3L312.0,1168.1L313.0,1170.8L314.0,1173.6L315.0,1176.4L316.0,1170.8L317.0,1165.3L318.0,1159.8L319.0,1154.2L320.0,1148.7L321.0,1157.9L322.0,1167.1L323.0,1176.4L324.0,1167.1L325.0,1157.9L326.0,1148.7L327.0,1157.9L328.0,1167.1L329.0,1176.4L330.0,1162.5L331.0,1148.7L332.0,1157.9L333.0,1153.9L334.0,1123.6L335.0,1093.3L336.0,1123.6L337.0,1148.7L338.0,1143.5L339.0,1121.0L340.0,1143.5L341.0,1143.5L342.0,1121.0L343.0,1143.5L344.0,1148.7L345.0,1155.6L346.0,1143.5L347.0,1121.0L348.0,1143.5L349.0,1166.0L350.0,1162.5L351.0,1155.6L352.0,1148.7L353.0,1155.6L354.0,1162.5L355.0,1169.5L356.0,1176.4L357.0,1166.0L358.0,1143.5L359.0,1121.0L360.0,1143.5L361.0,1156.8L362.0,1160.8L363.0,1156.8L364.0,1152.7L365.0,1148.7L366.0,1143.5L367.0,1121.0L368.0,1143.5L369.0,1157.9L370.0,1148.7L371.0,1157.9L372.0,1166.0L373.0,1143.5L374.0,1121.0L375.0,1143.5L376.0,1121.0L377.0,1143.5L378.0,1162.5L379.0,1176.4L380.0,1162.5L381.0,1148.7L382.0,1157.9L383.0,1167.1L384.0,1166.0L385.0,1143.5L386.0,1121.0L387.0,1143.5L388.0,1157.9L389.0,1167.1L390.0,1176.4L391.0,1162.5L392.0,1148.7L393.0,1155.2L394.0,1161.7L395.0,1157.3L396.0,1153.0L397.0,1148.7L398.0,1157.9L399.0,1167.1L400.0,1176.4L401.0,1162.5L402.0,1148.7L403.0,1162.5L404.0,1176.4L405.0,1162.5L406.0,1148.7L407.0,1157.9L408.0,1166.0L409.0,1143.5L410.0,1121.0L411.0,1143.5L412.0,1162.5L413.0,1176.4L414.0,1166.0L415.0,1143.5L416.0,1121.0L417.0,1143.5L418.0,1153.9L419.0,1123.6L420.0,1093.3L421.0,1123.6L422.0,1139.0L423.0,1102.3L424.0,1065.6L425.0,1102.3L426.0,1139.0L427.0,1158.2L428.0,1167.6L429.0,1153.9L430.0,1123.6L431.0,1093.3L432.0,1123.6L433.0,1143.5L434.0,1121.0L435.0,1143.5L436.0,1163.0L437.0,1155.8L438.0,1148.7L439.0,1143.5L440.0,1121.0L441.0,1143.5L442.0,1166.0L443.0,1143.5L444.0,1121.0L445.0,1143.5L446.0,1123.6L447.0,1093.3L448.0,1123.6L449.0,1139.0L450.0,1102.3L451.0,1065.6L452.0,1102.3L453.0,1139.0L454.0,1167.1L455.0,1176.4L456.0,1169.5L457.0,1162.5L458.0,1155.6L459.0,1148.7L460.0,1154.4L461.0,1160.2L462.0,1154.4L463.0,1148.7L464.0,1153.0L465.0,1123.6L466.0,1093.3L467.0,1123.6L468.0,1153.9L469.0,1143.5L470.0,1121.0L471.0,1143.5L472.0,1162.5L473.0,1169.5L474.0,1176.4L475.0,1167.1L476.0,1157.9L477.0,1148.7L478.0,1162.5L479.0,1139.0L480.0,1102.3L481.0,1065.6L482.0,1102.3L483.0,1139.0L484.0,1143.5L485.0,1121.0L486.0,1139.0L487.0,1102.3L488.0,1065.6L489.0,1102.3L490.0,1139.0L491.0,1121.0L492.0,1143.5L493.0,1155.6L494.0,1148.7L495.0,1162.5L496.0,1166.0L497.0,1143.5L498.0,1121.0L499.0,1143.5L500.0,1155.2L501.0,1161.6L502.0,1158.4L503.0,1153.9L504.0,1123.6L505.0,1093.3L506.0,1123.6L507.0,1143.5L508.0,1121.0L509.0,1143.5L510.0,1123.6L511.0,1093.3L512.0,1123.6L513.0,1153.9L514.0,1162.5L515.0,1148.7L516.0,1155.6L517.0,1162.5L518.0,1169.5L519.0,1176.4L520.0,1163.8L521.0,1121.8L522.0,1079.8L523.0,1037.9L524.0,1079.8L525.0,1121.8L526.0,1156.2L527.0,1152.4L528.0,1148.7L529.0,1162.5L530.0,1176.4L531.0,1153.9L532.0,1123.6L533.0,1093.3L534.0,1123.6L535.0,1153.9L536.0,1148.7L537.0,1157.9L538.0,1153.9L539.0,1123.6L540.0,1093.3L541.0,1123.6L542.0,1148.7L543.0,1153.9L544.0,1123.6L545.0,1093.3L546.0,1123.6L547.0,1143.5L548.0,1121.0L549.0,1143.5L550.0,1143.5L551.0,1121.0L552.0,1143.5L553.0,1148.7L554.0,1157.9L555.0,1167.1L556.0,1176.4L557.0,1167.1L558.0,1157.9L559.0,1148.7L560.0,1153.4L561.0,1158.1L562.0,1162.9L563.0,1158.1L564.0,1153.4L565.0,1123.6L566.0,1093.3L567.0,1123.6L568.0,1121.8L569.0,1079.8L570.0,1037.9L571.0,1079.8L572.0,1121.8L573.0,1121.0L574.0,1143.5L575.0,1154.8L576.0,1157.9L577.0,1161.0L578.0,1164.1L579.0,1167.1L580.0,1170.2L581.0,1173.3L582.0,1176.4L583.0,1173.6L584.0,1170.8L585.0,1168.1L586.0,1165.3L587.0,1162.5L588.0,1153.9L589.0,1123.6L590.0,1093.3L591.0,1123.6L592.0,1143.5L593.0,1121.0L594.0,1143.5L595.0,1143.5L596.0,1121.0L597.0,1143.5L598.0,1153.9L599.0,1123.6L600.0,1093.3L601.0,1123.6L602.0,1153.9L603.0,1162.5L604.0,1143.5L605.0,1121.0L606.0,1143.5L607.0,1157.9L608.0,1148.7L609.0,1153.3L610.0,1157.9L611.0,1162.6L612.0,1143.5L613.0,1121.0L614.0,1143.5L615.0,1143.5L616.0,1121.0L617.0,1143.5L618.0,1148.7L619.0,1162.5L620.0,1166.0L621.0,1143.5L622.0,1121.0L623.0,1143.5L624.0,1166.0L625.0,1143.5L626.0,1121.0L627.0,1143.5L628.0,1121.0L629.0,1143.5L630.0,1166.0L631.0,1162.5L632.0,1148.7L633.0,1159.0L634.0,1166.0L635.0,1143.5L636.0,1121.0L637.0,1143.5L638.0,1166.0L639.0,1176.4L640.0,1162.5L641.0,1148.7L642.0,1157.9L643.0,1167.1L644.0,1176.4L645.0,1169.5L646.0,1162.5L647.0,1155.6L648.0,1148.7L649.0,1151.8L650.0,1155.0L651.0,1158.1L652.0,1161.3L653.0,1164.4L654.0,1159.2L655.0,1153.9L656.0,1148.7L657.0,1155.6L658.0,1162.6L659.0,1155.6L660.0,1148.7L661.0,1157.9L662.0,1167.1L663.0,1176.4L664.0,1167.1L665.0,1157.9L666.0,1148.7L667.0,1155.6L668.0,1162.5L669.0,1169.5L670.0,1176.4L671.0,1169.5L672.0,1162.5L673.0,1143.5L674.0,1121.0L675.0,1143.5L676.0,1166.0L677.0,1162.5L678.0,1148.7L679.0,1162.5L680.0,1176.4L681.0,1162.5L682.0,1148.7L683.0,1155.6L684.0,1162.5L685.0,1169.5L686.0,1176.4L687.0,1169.5L688.0,1162.5L689.0,1155.6L690.0,1148.7L691.0,1153.9L692.0,1123.6L693.0,1093.3L694.0,1123.6L695.0,1148.7L696.0,1155.6L697.0,1162.5L698.0,1169.5L699.0,1176.4L700.0,1166.0L701.0,1143.5L702.0,1121.0L703.0,1143.5L704.0,1155.6L705.0,1162.5L706.0,1153.9L707.0,1123.6L708.0,1093.3L709.0,1123.6L710.0,1123.6L711.0,1093.3L712.0,1123.6L713.0,1153.9L714.0,1170.7L715.0,1166.3L716.0,1161.9L717.0,1143.5L718.0,1121.0L719.0,1143.5L720.0,1157.9L721.0,1167.1L722.0,1176.4L723.0,1170.8L724.0,1165.3L725.0,1159.8L726.0,1154.2L727.0,1148.7L728.0,1162.5L729.0,1176.4L730.0,1162.5L731.0,1148.7L732.0,1157.9L733.0,1167.1L734.0,1176.4L735.0,1167.1L736.0,1157.9L737.0,1148.7L738.0,1153.9L739.0,1123.6L740.0,1093.3L741.0,1123.6L742.0,1153.9L743.0,1167.1L744.0,1176.4L745.0,1167.1L746.0,1157.9L747.0,1148.7L748.0,1162.5L749.0,1176.4L750.0,1167.1L751.0,1157.9L752.0,1148.7L753.0,1157.9L754.0,1167.1L755.0,1176.4L756.0,1153.9L757.0,1123.6L758.0,1093.3L759.0,1123.6L760.0,1148.7L761.0,1157.9L762.0,1167.1L763.0,1176.4L764.0,1167.1L765.0,1157.9L766.0,1148.7L767.0,1155.6L768.0,1162.5L769.0,1169.5L770.0,1176.4L771.0,1162.5L772.0,1148.7L773.0,1156.0L774.0,1163.3L775.0,1170.6L776.0,1163.3L777.0,1156.0L778.0,1148.7L779.0,1162.5L780.0,1176.4L781.0,1162.5L782.0,1148.7L783.0,1162.5L784.0,1176.4L785.0,1167.1L786.0,1157.9L787.0,1148.7L788.0,1157.9L789.0,1166.0L790.0,1143.5L791.0,1121.0L792.0,1143.5L793.0,1157.9L794.0,1167.1L795.0,1176.4L796.0,1166.0L797.0,1143.5L798.0,1121.0L799.0,1143.5L800.0,1148.7L801.0,1162.5L802.0,1176.4L803.0,1167.1L804.0,1157.9L805.0,1148.7L806.0,1157.9L807.0,1167.1L808.0,1176.4L809.0,1167.1L810.0,1157.9L811.0,1148.7L812.0,1154.1L813.0,1159.5L814.0,1143.5L815.0,1121.0L816.0,1143.5L817.0,1155.9L818.0,1148.7L819.0,1153.6L820.0,1158.5L821.0,1163.5L822.0,1158.5L823.0,1153.6L824.0,1148.7L825.0,1165.5L826.0,1157.1L827.0,1148.7L828.0,1154.8L829.0,1160.9L830.0,1167.0L831.0,1160.9L832.0,1154.8L833.0,1148.7L834.0,1155.6L835.0,1162.5L836.0,1166.0L837.0,1143.5L838.0,1121.0L839.0,1143.5L840.0,1155.6L841.0,1148.7L842.0,1157.9L843.0,1167.1L844.0,1176.4L845.0,1162.5L846.0,1148.7L847.0,1157.9L848.0,1167.1L849.0,1176.4L850.0,1162.5L851.0,1148.7L852.0,1155.6L853.0,1162.5L854.0,1153.9L855.0,1123.6L856.0,1093.3L857.0,1123.6L858.0,1148.7L859.0,1162.5L860.0,1176.4L861.0,1167.1L862.0,1157.9L863.0,1148.7L864.0,1123.6L865.0,1093.3L866.0,1093.3L867.0,1123.6L868.0,1148.7L869.0,1158.0L870.0,1167.3L871.0,1158.0L872.0,1148.7L873.0,1162.5L874.0,1176.4L875.0,1162.5L876.0,1148.7L877.0,1157.9L878.0,1167.1L879.0,1166.0L880.0,1143.5L881.0,1121.0L882.0,1143.5L883.0,1148.7L884.0,1143.5L885.0,1121.0L886.0,1123.6L887.0,1093.3L888.0,1123.6L889.0,1153.9L890.0,1148.7L891.0,1153.9L892.0,1123.6L893.0,1093.3L894.0,1123.6L895.0,1093.3L896.0,1123.6L897.0,1153.9L898.0,1176.4L899.0,1162.5L900.0,1148.7L901.0,1154.2L902.0,1159.8L903.0,1165.3L904.0,1170.8L905.0,1176.4L906.0,1153.9L907.0,1123.6L908.0,1093.3L909.0,1123.6L910.0,1153.9L911.0,1162.5L912.0,1148.7L913.0,1153.6L914.0,1158.5L915.0,1163.5L916.0,1156.1L917.0,1148.7L918.0,1155.2L919.0,1161.8L920.0,1168.3L921.0,1161.8L922.0,1155.2L923.0,1148.7L924.0,1162.5L925.0,1166.0L926.0,1143.5L927.0,1121.0L928.0,1143.5L929.0,1121.0L930.0,1143.5L931.0,1163.2L932.0,1158.4L933.0,1153.5L934.0,1148.7L935.0,1162.5L936.0,1176.4L937.0,1167.1L938.0,1157.9L939.0,1148.7L940.0,1157.9L941.0,1167.1L942.0,1176.4L943.0,1169.5L944.0,1162.5L945.0,1155.6L946.0,1148.7L947.0,1153.9L948.0,1123.6L949.0,1093.3L950.0,1123.6L951.0,1153.8L952.0,1158.9L953.0,1164.0L954.0,1158.9L955.0,1153.8L956.0,1148.7L957.0,1154.0L958.0,1159.4L959.0,1164.7L960.0,1153.9L961.0,1123.6L962.0,1093.3L963.0,1123.6L964.0,1153.9L965.0,1176.4L966.0,1162.5L967.0,1148.7L968.0,1157.9L969.0,1167.1L970.0,1166.0L971.0,1143.5L972.0,1121.0L973.0,1143.5L974.0,1154.2L975.0,1148.7L976.0,1157.9L977.0,1167.1L978.0,1176.4L979.0,1169.5L980.0,1162.5L981.0,1155.6L982.0,1148.7L983.0,1153.3L984.0,1157.9L985.0,1162.5L986.0,1167.1L987.0,1171.8L988.0,1176.4L989.0,1172.9L990.0,1169.5L991.0,1166.0L992.0,1162.5L993.0,1159.1L994.0,1155.6L995.0,1152.1L996.0,1148.7L997.0,1162.5L998.0,1176.4L999.0,1162.5L1000.0,1148.7L1001.0,1152.6L1002.0,1156.6L1003.0,1160.6L1004.0,1164.5L1005.0,1168.5L1006.0,1172.4L1007.0,1176.4L1008.0,1173.6L1009.0,1170.8L1010.0,1168.1L1011.0,1165.3L1012.0,1162.5L1013.0,1159.8L1014.0,1157.0L1015.0,1154.2L1016.0,1151.5L1017.0,1148.7L1018.0,1155.6L1019.0,1162.5L1020.0,1169.5L1021.0,1176.4L1022.0,1167.1L1023.0,1157.9L1024.0,1148.7L1025.0,1143.5L1026.0,1121.0L1027.0,1143.5L1028.0,1157.5L1029.0,1154.6L1030.0,1143.5L1031.0,1121.0L1032.0,1121.0L1033.0,1143.5L1034.0,1162.5L1035.0,1148.7L1036.0,1162.5L1037.0,1176.4L1038.0,1169.5L1039.0,1162.5L1040.0,1153.9L1041.0,1123.6L1042.0,1093.3L1043.0,1123.6L1044.0,1143.5L1045.0,1121.0L1046.0,1143.5L1047.0,1157.9L1048.0,1167.1L1049.0,1176.4L1050.0,1169.5L1051.0,1162.5L1052.0,1155.6L1053.0,1148.7L1054.0,1143.5L1055.0,1121.0L1056.0,1143.5L1057.0,1162.5L1058.0,1148.7L1059.0,1162.5L1060.0,1176.4L1061.0,1162.5L1062.0,1143.5L1063.0,1121.0L1064.0,1143.5L1065.0,1162.5L1066.0,1148.7L1067.0,1152.3L1068.0,1155.9L1069.0,1159.5L1070.0,1163.1L1071.0,1159.5L1072.0,1155.9L1073.0,1152.3L1074.0,1148.7L1075.0,1157.9L1076.0,1167.1L1077.0,1176.4L1078.0,1153.9L1079.0,1123.6L1080.0,1093.3L1081.0,1123.6L1082.0,1153.9L1083.0,1166.0L1084.0,1143.5L1085.0,1121.0L1086.0,1143.5L1087.0,1148.7L1088.0,1153.9L1089.0,1123.6L1090.0,1093.3L1091.0,1123.6L1092.0,1153.9L1093.0,1157.9L1094.0,1148.7L1095.0,1155.6L1096.0,1162.5L1097.0,1169.5L1098.0,1176.4L1099.0,1167.1L1100.0,1157.9L1101.0,1148.7L1102.0,1143.5L1103.0,1121.0L1104.0,1143.5L1105.0,1157.4L1106.0,1153.0L1107.0,1148.7L1108.0,1153.9L1109.0,1123.6L1110.0,1093.3L1111.0,1123.6L1112.0,1143.5L1113.0,1121.0L1114.0,1143.5L1115.0,1166.0L1116.0,1167.1L1117.0,1157.9L1118.0,1148.7L1119.0,1162.5L1120.0,1176.4L1121.0,1162.5L1122.0,1148.7L1123.0,1154.1L1124.0,1159.5L1125.0,1165.0L1126.0,1159.5L1127.0,1154.1L1128.0,1148.7L1129.0,1157.9L1130.0,1167.1L1131.0,1176.4L1132.0,1162.5L1133.0,1148.7L1134.0,1162.5L1135.0,1176.4L1136.0,1162.5L1137.0,1148.7L1138.0,1155.6L1139.0,1162.5L1140.0,1143.5L1141.0,1121.0L1142.0,1143.5L1143.0,1148.7L1144.0,1157.9L1145.0,1143.5L1146.0,1121.0L1147.0,1143.5L1148.0,1121.0L1149.0,1143.5L1150.0,1123.6L1151.0,1093.3L1152.0,1123.6L1153.0,1143.5L1154.0,1121.0L1155.0,1143.5L1156.0,1143.5L1157.0,1121.0L1158.0,1143.5L1159.0,1155.6L1160.0,1162.5L1161.0,1169.5L1162.0,1176.4L1163.0,1169.5L1164.0,1162.5L1165.0,1153.9L1166.0,1123.6L1167.0,1093.3L1168.0,1123.6L1169.0,1153.9L1170.0,1167.1L1171.0,1157.9L1172.0,1148.7L1173.0,1154.2L1174.0,1159.8L1175.0,1153.9L1176.0,1123.6L1177.0,1093.3L1178.0,1123.6L1179.0,1093.3L1180.0,1123.6L1181.0,1153.9L1182.0,1167.1L1183.0,1176.4L1184.0,1167.1L1185.0,1157.9L1186.0,1148.7L1187.0,1155.6L1188.0,1162.5L1189.0,1143.5L1190.0,1121.0L1191.0,1143.5L1192.0,1157.9L1193.0,1148.7L1194.0,1157.9L1195.0,1167.1L1196.0,1176.4L1197.0,1162.5L1198.0,1148.7L1199.0,1162.5L1200.0,1143.5L1201.0,1121.0L1202.0,1143.5L1203.0,1143.5L1204.0,1121.0L1205.0,1143.5L1206.0,1156.6L1207.0,1152.6L1208.0,1148.7L1209.0,1157.9L1210.0,1167.1L1211.0,1176.4L1212.0,1153.9L1213.0,1123.6L1214.0,1093.3L1215.0,1123.6L1216.0,1153.9L1217.0,1156.6L1218.0,1148.7L1219.0,1157.9L1220.0,1167.1L1221.0,1176.4L1222.0,1169.5L1223.0,1162.5L1224.0,1155.6L1225.0,1148.7L1226.0,1162.5L1227.0,1176.4L1228.0,1162.5L1229.0,1143.5L1230.0,1121.0L1231.0,1143.5L1232.0,1166.0L1233.0,1162.5L1234.0,1148.7L1235.0,1154.2L1236.0,1143.5L1237.0,1121.0L1238.0,1143.5L1239.0,1166.0L1240.0,1166.0L1241.0,1143.5L1242.0,1121.0L1243.0,1143.5L1244.0,1166.0L1245.0,1176.4L1246.0,1153.9L1247.0,1123.6L1248.0,1093.3L1249.0,1123.6L1250.0,1153.9L1251.0,1123.6L1252.0,1093.3L1253.0,1123.6L1254.0,1093.3L1255.0,1123.6L1256.0,1153.9L1257.0,1155.5L1258.0,1152.1L1259.0,1148.7L1260.0,1155.6L1261.0,1143.5L1262.0,1121.0L1263.0,1143.5L1264.0,1162.5L1265.0,1121.8L1266.0,1079.8L1267.0,1037.9L1268.0,1079.8L1269.0,1121.8L1270.0,1093.3L1271.0,1123.6L1272.0,1102.3L1273.0,1065.6L1274.0,1102.3L1275.0,1139.0L1276.0,1175.6L1277.0,1162.5L1278.0,1148.7L1279.0,1143.5L1280.0,1121.0L1281.0,1143.5L1282.0,1148.7L1283.0,1157.9L1284.0,1166.0L1285.0,1143.5L1286.0,1121.0L1287.0,1143.5L1288.0,1155.6L1289.0,1148.7L1290.0,1162.5L1291.0,1166.0L1292.0,1143.5L1293.0,1121.0L1294.0,1139.0L1295.0,1102.3L1296.0,1065.6L1297.0,1102.3L1298.0,1139.0L1299.0,1143.5L1300.0,1121.0L1301.0,1143.5L1302.0,1148.7L1303.0,1154.6L1304.0,1160.5L1305.0,1139.0L1306.0,1102.3L1307.0,1065.6L1308.0,1102.3L1309.0,1123.6L1310.0,1093.3L1311.0,1123.6L1312.0,1123.6L1313.0,1093.3L1314.0,1123.6L1315.0,1153.9L1316.0,1176.4L1317.0,1169.5L1318.0,1162.5L1319.0,1155.6L1320.0,1148.7L1321.0,1155.6L1322.0,1162.5L1323.0,1166.0L1324.0,1143.5L1325.0,1121.0L1326.0,1143.5L1327.0,1158.4L1328.0,1168.1L1329.0,1161.6L1330.0,1155.1L1331.0,1148.7L1332.0,1157.9L1333.0,1166.0L1334.0,1143.5L1335.0,1121.0L1336.0,1143.5L1337.0,1162.5L1338.0,1176.4L1339.0,1169.5L1340.0,1162.5L1341.0,1155.6L1342.0,1148.7L1343.0,1155.6L1344.0,1162.5L1345.0,1169.5L1346.0,1176.4L1347.0,1162.5L1348.0,1148.7L1349.0,1162.5L1350.0,1176.4L1351.0,1167.1L1352.0,1157.9L1353.0,1148.7L1354.0,1158.3L1355.0,1121.8L1356.0,1079.8L1357.0,1037.9L1358.0,1079.8L1359.0,1121.8L1360.0,1163.8L1361.0,1143.5L1362.0,1121.0L1363.0,1143.5L1364.0,1162.5L1365.0,1176.4L1366.0,1162.5L1367.0,1148.7L1368.0,1156.2L1369.0,1163.8L1370.0,1158.7L1371.0,1153.7L1372.0,1148.7L1373.0,1155.3L1374.0,1161.9L1375.0,1168.5L1376.0,1163.5L1377.0,1158.6L1378.0,1153.6L1379.0,1148.7L1380.0,1157.9L1381.0,1167.1L1382.0,1176.4L1383.0,1167.1L1384.0,1157.9L1385.0,1148.7L1386.0,1155.6L1387.0,1162.5L1388.0,1169.5L1389.0,1176.4L1390.0,1162.5L1391.0,1148.7L1392.0,1155.6L1393.0,1162.5L1394.0,1169.5L1395.0,1166.0L1396.0,1143.5L1397.0,1121.0L1398.0,1143.5L1399.0,1143.5L1400.0,1121.0L1401.0,1143.5L1402.0,1139.0L1403.0,1102.3L1404.0,1065.6L1405.0,1102.3L1406.0,1139.0L1407.0,1162.5L1408.0,1143.5L1409.0,1121.0L1410.0,1143.5L1411.0,1123.6L1412.0,1093.3L1413.0,1123.6L1414.0,1148.7L1415.0,1159.7L1416.0,1170.7L1417.0,1163.3L1418.0,1156.0L1419.0,1148.7L1420.0,1153.9L1421.0,1123.6L1422.0,1093.3L1423.0,1123.6L1423.0,1176.4Z"/>
<path class="ya" d="M271,1037.9V1176.4H259.2"/><path class="yt" d="M259.2,1037.9H271.6"/>
<text class="tk" x="252.4" y="1041.2">6</text><text class="tk" x="252.4" y="1179.2">0</text>
<text class="lab" x="74" y="1112.7">GSM2481685</text>
<path class="d" d="M272.0,1330.3L272.0,1314.5L273.0,1322.2L274.0,1312.9L275.0,1298.7L276.0,1312.9L277.0,1327.2L278.0,1322.2L279.0,1314.5L280.0,1322.2L281.0,1329.8L282.0,1326.4L283.0,1328.3L284.0,1330.3L285.0,1328.3L286.0,1326.4L287.0,1327.8L288.0,1329.2L289.0,1326.9L290.0,1324.7L291.0,1322.4L292.0,1326.4L293.0,1330.3L294.0,1326.4L295.0,1328.3L296.0,1330.3L297.0,1326.4L298.0,1328.3L299.0,1330.3L300.0,1329.0L301.0,1327.7L302.0,1326.4L303.0,1330.3L304.0,1326.4L305.0,1322.4L306.0,1326.4L307.0,1330.3L308.0,1326.4L309.0,1322.4L310.0,1330.3L311.0,1328.3L312.0,1326.4L313.0,1329.0L314.0,1327.7L315.0,1326.4L316.0,1328.3L317.0,1330.3L318.0,1322.4L319.0,1325.0L320.0,1327.7L321.0,1330.3L322.0,1326.4L323.0,1322.4L324.0,1330.3L325.0,1328.3L326.0,1326.4L327.0,1327.7L328.0,1329.0L329.0,1330.3L330.0,1329.0L331.0,1324.3L332.0,1318.4L333.0,1324.3L334.0,1322.4L335.0,1325.4L336.0,1328.4L337.0,1326.4L338.0,1330.3L339.0,1328.3L340.0,1326.4L341.0,1330.3L342.0,1328.3L343.0,1326.4L344.0,1329.4L345.0,1326.4L346.0,1328.3L347.0,1330.3L348.0,1322.4L349.0,1328.1L350.0,1327.3L351.0,1326.4L352.0,1329.2L353.0,1326.4L354.0,1328.3L355.0,1330.3L356.0,1326.4L357.0,1322.4L358.0,1330.3L359.0,1328.3L360.0,1326.4L361.0,1327.5L362.0,1324.3L363.0,1318.4L364.0,1324.3L365.0,1322.2L366.0,1314.5L367.0,1322.2L368.0,1324.3L369.0,1318.4L370.0,1324.3L371.0,1328.3L372.0,1326.4L373.0,1329.5L374.0,1322.4L375.0,1326.4L376.0,1330.3L377.0,1326.4L378.0,1328.3L379.0,1330.3L380.0,1329.0L381.0,1327.7L382.0,1326.4L383.0,1328.6L384.0,1326.4L385.0,1327.7L386.0,1329.0L387.0,1330.3L388.0,1326.4L389.0,1322.4L390.0,1330.3L391.0,1326.4L392.0,1322.4L393.0,1326.4L394.0,1330.3L395.0,1329.0L396.0,1327.7L397.0,1326.4L398.0,1328.3L399.0,1330.3L400.0,1328.3L401.0,1326.4L402.0,1327.7L403.0,1329.0L404.0,1330.3L405.0,1326.4L406.0,1322.4L407.0,1325.4L408.0,1328.3L409.0,1326.4L410.0,1327.7L411.0,1329.1L412.0,1326.4L413.0,1327.7L414.0,1329.0L415.0,1330.2L416.0,1324.3L417.0,1318.4L418.0,1324.3L419.0,1330.2L420.0,1326.4L421.0,1322.4L422.0,1318.4L423.0,1324.3L424.0,1326.4L425.0,1330.3L426.0,1326.4L427.0,1322.4L428.0,1330.3L429.0,1326.4L430.0,1322.4L431.0,1325.0L432.0,1327.7L433.0,1330.3L434.0,1328.3L435.0,1326.4L436.0,1327.7L437.0,1329.0L438.0,1330.3L439.0,1328.3L440.0,1326.4L441.0,1328.9L442.0,1325.6L443.0,1322.4L444.0,1325.3L445.0,1328.1L446.0,1325.3L447.0,1322.4L448.0,1325.0L449.0,1327.7L450.0,1330.3L451.0,1328.3L452.0,1326.4L453.0,1328.3L454.0,1330.3L455.0,1326.4L456.0,1327.9L457.0,1329.5L458.0,1327.1L459.0,1324.8L460.0,1322.4L461.0,1326.4L462.0,1330.3L463.0,1329.0L464.0,1327.7L465.0,1326.4L466.0,1328.3L467.0,1330.3L468.0,1327.7L469.0,1325.0L470.0,1322.4L471.0,1326.4L472.0,1330.3L473.0,1326.4L474.0,1322.4L475.0,1330.3L476.0,1328.3L477.0,1326.4L478.0,1328.3L479.0,1330.3L480.0,1322.4L481.0,1326.4L482.0,1330.3L483.0,1328.3L484.0,1326.4L485.0,1328.3L486.0,1330.3L487.0,1328.3L488.0,1326.4L489.0,1330.3L490.0,1326.4L491.0,1322.4L492.0,1326.4L493.0,1330.3L494.0,1322.4L495.0,1326.4L496.0,1330.3L497.0,1329.0L498.0,1327.7L499.0,1326.4L500.0,1328.3L501.0,1330.3L502.0,1322.4L503.0,1326.4L504.0,1330.3L505.0,1329.0L506.0,1327.7L507.0,1326.4L508.0,1330.3L509.0,1328.3L510.0,1326.4L511.0,1327.3L512.0,1328.2L513.0,1327.6L514.0,1327.0L515.0,1326.4L516.0,1327.2L517.0,1328.0L518.0,1328.8L519.0,1325.6L520.0,1322.4L521.0,1325.0L522.0,1327.7L523.0,1330.2L524.0,1324.3L525.0,1318.4L526.0,1324.3L527.0,1326.4L528.0,1328.3L529.0,1330.3L530.0,1328.3L531.0,1326.4L532.0,1328.3L533.0,1330.3L534.0,1328.3L535.0,1326.4L536.0,1328.3L537.0,1330.3L538.0,1326.4L539.0,1328.3L540.0,1330.3L541.0,1326.4L542.0,1330.3L543.0,1328.3L544.0,1326.4L545.0,1327.7L546.0,1329.0L547.0,1330.3L548.0,1329.0L549.0,1327.7L550.0,1326.4L551.0,1328.3L552.0,1330.3L553.0,1326.4L554.0,1328.3L555.0,1330.3L556.0,1326.4L557.0,1328.3L558.0,1330.3L559.0,1326.4L560.0,1322.4L561.0,1325.3L562.0,1328.1L563.0,1325.3L564.0,1322.4L565.0,1326.4L566.0,1330.3L567.0,1322.4L568.0,1324.5L569.0,1326.6L570.0,1328.7L571.0,1327.5L572.0,1326.4L573.0,1328.3L574.0,1330.3L575.0,1322.4L576.0,1326.4L577.0,1330.3L578.0,1328.3L579.0,1326.4L580.0,1327.7L581.0,1329.0L582.0,1327.7L583.0,1324.3L584.0,1318.4L585.0,1324.3L586.0,1327.7L587.0,1329.0L588.0,1330.3L589.0,1328.3L590.0,1326.4L591.0,1328.3L592.0,1330.3L593.0,1326.4L594.0,1327.7L595.0,1329.0L596.0,1330.3L597.0,1326.4L598.0,1322.4L599.0,1326.4L600.0,1330.3L601.0,1328.3L602.0,1326.4L603.0,1328.3L604.0,1330.3L605.0,1328.3L606.0,1326.4L607.0,1327.2L608.0,1328.0L609.0,1328.8L610.0,1328.0L611.0,1327.2L612.0,1326.4L613.0,1328.3L614.0,1330.3L615.0,1328.3L616.0,1326.4L617.0,1327.9L618.0,1329.4L619.0,1326.4L620.0,1328.8L621.0,1326.4L622.0,1327.7L623.0,1329.0L624.0,1330.3L625.0,1328.3L626.0,1326.4L627.0,1328.3L628.0,1326.4L629.0,1328.3L630.0,1330.3L631.0,1326.4L632.0,1322.4L633.0,1325.5L634.0,1328.6L635.0,1327.5L636.0,1326.4L637.0,1328.3L638.0,1330.3L639.0,1328.3L640.0,1326.4L641.0,1328.3L642.0,1330.3L643.0,1326.4L644.0,1322.4L645.0,1328.1L646.0,1326.4L647.0,1328.3L648.0,1330.3L649.0,1328.3L650.0,1326.4L651.0,1328.3L652.0,1330.3L653.0,1328.3L654.0,1326.4L655.0,1328.3L656.0,1330.3L657.0,1322.4L658.0,1325.8L659.0,1329.3L660.0,1327.8L661.0,1326.4L662.0,1330.3L663.0,1328.3L664.0,1326.4L665.0,1328.3L666.0,1330.3L667.0,1326.4L668.0,1328.3L669.0,1330.3L670.0,1326.4L671.0,1327.7L672.0,1329.0L673.0,1330.3L674.0,1328.3L675.0,1326.4L676.0,1328.3L677.0,1330.3L678.0,1326.4L679.0,1328.3L680.0,1330.3L681.0,1329.0L682.0,1327.7L683.0,1326.4L684.0,1330.3L685.0,1328.3L686.0,1326.4L687.0,1328.3L688.0,1330.3L689.0,1326.4L690.0,1322.4L691.0,1326.4L692.0,1330.3L693.0,1326.4L694.0,1328.3L695.0,1330.3L696.0,1328.3L697.0,1326.4L698.0,1328.3L699.0,1330.3L700.0,1329.0L701.0,1327.7L702.0,1326.4L703.0,1328.3L704.0,1330.3L705.0,1328.3L706.0,1326.4L707.0,1328.3L708.0,1330.3L709.0,1326.4L710.0,1324.3L711.0,1318.4L712.0,1324.3L713.0,1322.2L714.0,1314.5L715.0,1322.2L716.0,1326.8L717.0,1322.2L718.0,1314.5L719.0,1322.2L720.0,1329.8L721.0,1324.3L722.0,1318.4L723.0,1324.3L724.0,1328.3L725.0,1324.3L726.0,1318.4L727.0,1324.3L728.0,1326.4L729.0,1328.3L730.0,1330.3L731.0,1329.0L732.0,1327.7L733.0,1326.4L734.0,1328.3L735.0,1330.3L736.0,1328.3L737.0,1326.4L738.0,1327.1L739.0,1327.9L740.0,1328.6L741.0,1325.5L742.0,1322.4L743.0,1325.5L744.0,1328.7L745.0,1327.5L746.0,1326.4L747.0,1328.2L748.0,1326.4L749.0,1330.3L750.0,1328.3L751.0,1326.4L752.0,1328.3L753.0,1330.3L754.0,1326.4L755.0,1322.4L756.0,1326.4L757.0,1330.3L758.0,1329.0L759.0,1327.7L760.0,1326.4L761.0,1328.3L762.0,1330.3L763.0,1326.4L764.0,1328.3L765.0,1330.3L766.0,1328.3L767.0,1326.4L768.0,1328.3L769.0,1330.3L770.0,1328.3L771.0,1326.4L772.0,1328.3L773.0,1330.3L774.0,1326.4L775.0,1328.3L776.0,1330.3L777.0,1329.0L778.0,1327.7L779.0,1326.4L780.0,1327.4L781.0,1328.4L782.0,1326.4L783.0,1328.4L784.0,1327.4L785.0,1326.4L786.0,1327.4L787.0,1328.5L788.0,1325.4L789.0,1322.4L790.0,1326.4L791.0,1330.3L792.0,1328.3L793.0,1326.4L794.0,1328.3L795.0,1330.3L796.0,1328.3L797.0,1326.4L798.0,1328.3L799.0,1330.3L800.0,1326.4L801.0,1328.3L802.0,1326.4L803.0,1330.3L804.0,1326.4L805.0,1322.4L806.0,1327.2L807.0,1322.4L808.0,1324.3L809.0,1318.4L810.0,1324.3L811.0,1328.3L812.0,1326.4L813.0,1328.3L814.0,1330.3L815.0,1328.3L816.0,1326.4L817.0,1327.7L818.0,1329.0L819.0,1330.3L820.0,1328.3L821.0,1326.4L822.0,1328.3L823.0,1330.3L824.0,1326.4L825.0,1322.4L826.0,1326.4L827.0,1330.3L828.0,1326.4L829.0,1322.4L830.0,1325.0L831.0,1327.7L832.0,1330.3L833.0,1328.3L834.0,1326.4L835.0,1330.3L836.0,1326.4L837.0,1322.4L838.0,1326.4L839.0,1330.3L840.0,1329.0L841.0,1327.7L842.0,1326.4L843.0,1328.3L844.0,1330.3L845.0,1326.4L846.0,1322.4L847.0,1326.4L848.0,1330.2L849.0,1324.3L850.0,1318.4L851.0,1324.3L852.0,1328.3L853.0,1330.3L854.0,1328.3L855.0,1326.4L856.0,1327.1L857.0,1327.8L858.0,1328.5L859.0,1327.8L860.0,1327.1L861.0,1326.4L862.0,1327.5L863.0,1328.6L864.0,1327.5L865.0,1326.4L866.0,1330.3L867.0,1328.3L868.0,1326.4L869.0,1329.4L870.0,1326.4L871.0,1327.7L872.0,1329.0L873.0,1330.3L874.0,1329.0L875.0,1327.7L876.0,1326.4L877.0,1328.3L878.0,1330.3L879.0,1328.3L880.0,1326.4L881.0,1328.3L882.0,1324.3L883.0,1318.4L884.0,1324.3L885.0,1328.3L886.0,1326.4L887.0,1328.3L888.0,1330.3L889.0,1328.3L890.0,1326.4L891.0,1328.3L892.0,1330.3L893.0,1328.3L894.0,1326.4L895.0,1328.3L896.0,1330.3L897.0,1328.3L898.0,1326.4L899.0,1327.5L900.0,1328.7L901.0,1326.4L902.0,1330.3L903.0,1328.3L904.0,1326.4L905.0,1328.3L906.0,1330.3L907.0,1326.4L908.0,1322.4L909.0,1325.0L910.0,1327.7L911.0,1330.3L912.0,1326.4L913.0,1322.4L914.0,1326.4L915.0,1330.3L916.0,1326.4L917.0,1322.4L918.0,1326.4L919.0,1330.3L920.0,1326.4L921.0,1328.3L922.0,1330.3L923.0,1329.0L924.0,1327.7L925.0,1326.4L926.0,1327.7L927.0,1329.0L928.0,1330.3L929.0,1328.3L930.0,1326.4L931.0,1329.3L932.0,1326.4L933.0,1327.7L934.0,1329.0L935.0,1330.3L936.0,1329.0L937.0,1327.7L938.0,1326.4L939.0,1328.3L940.0,1330.3L941.0,1328.3L942.0,1326.4L943.0,1328.3L944.0,1330.3L945.0,1322.4L946.0,1330.3L947.0,1326.4L948.0,1322.4L949.0,1326.4L950.0,1330.3L951.0,1328.3L952.0,1326.4L953.0,1328.3L954.0,1330.3L955.0,1326.4L956.0,1328.3L957.0,1330.3L958.0,1328.3L959.0,1326.4L960.0,1328.3L961.0,1330.3L962.0,1328.3L963.0,1326.4L964.0,1327.7L965.0,1329.0L966.0,1330.3L967.0,1328.3L968.0,1326.4L969.0,1330.3L970.0,1328.3L971.0,1326.4L972.0,1327.6L973.0,1328.8L974.0,1326.4L975.0,1327.7L976.0,1329.0L977.0,1330.3L978.0,1328.3L979.0,1326.4L980.0,1330.3L981.0,1328.3L982.0,1326.4L983.0,1328.3L984.0,1330.3L985.0,1328.3L986.0,1326.4L987.0,1328.3L988.0,1330.3L989.0,1329.0L990.0,1327.7L991.0,1326.4L992.0,1327.3L993.0,1328.3L994.0,1329.2L995.0,1327.8L996.0,1326.4L997.0,1328.3L998.0,1330.3L999.0,1328.3L1000.0,1326.4L1001.0,1327.7L1002.0,1329.0L1003.0,1330.3L1004.0,1326.4L1005.0,1322.4L1006.0,1330.3L1007.0,1328.3L1008.0,1326.4L1009.0,1328.0L1010.0,1327.2L1011.0,1326.4L1012.0,1328.3L1013.0,1330.3L1014.0,1328.3L1015.0,1326.4L1016.0,1327.7L1017.0,1329.0L1018.0,1330.3L1019.0,1328.3L1020.0,1326.4L1021.0,1328.3L1022.0,1330.3L1023.0,1322.4L1024.0,1330.3L1025.0,1328.3L1026.0,1326.4L1027.0,1327.7L1028.0,1329.0L1029.0,1330.3L1030.0,1328.3L1031.0,1326.4L1032.0,1328.3L1033.0,1330.3L1034.0,1326.4L1035.0,1322.4L1036.0,1326.4L1037.0,1330.3L1038.0,1328.3L1039.0,1326.4L1040.0,1328.3L1041.0,1330.3L1042.0,1322.4L1043.0,1326.4L1044.0,1330.3L1045.0,1326.4L1046.0,1328.3L1047.0,1330.3L1048.0,1326.4L1049.0,1328.8L1050.0,1327.6L1051.0,1326.4L1052.0,1328.3L1053.0,1330.3L1054.0,1326.4L1055.0,1327.8L1056.0,1329.2L1057.0,1326.4L1058.0,1330.3L1059.0,1328.3L1060.0,1326.4L1061.0,1328.3L1062.0,1330.3L1063.0,1329.0L1064.0,1327.7L1065.0,1326.4L1066.0,1327.9L1067.0,1329.5L1068.0,1324.3L1069.0,1318.4L1070.0,1324.3L1071.0,1330.2L1072.0,1327.7L1073.0,1325.0L1074.0,1322.4L1075.0,1326.4L1076.0,1330.3L1077.0,1328.3L1078.0,1326.4L1079.0,1330.3L1080.0,1328.3L1081.0,1326.4L1082.0,1327.7L1083.0,1329.0L1084.0,1330.3L1085.0,1328.3L1086.0,1326.4L1087.0,1328.3L1088.0,1330.3L1089.0,1327.7L1090.0,1325.0L1091.0,1322.4L1092.0,1326.4L1093.0,1330.3L1094.0,1326.4L1095.0,1328.3L1096.0,1330.3L1097.0,1322.4L1098.0,1326.4L1099.0,1330.3L1100.0,1322.4L1101.0,1327.9L1102.0,1325.2L1103.0,1322.4L1104.0,1328.5L1105.0,1327.4L1106.0,1326.4L1107.0,1328.4L1108.0,1326.4L1109.0,1327.7L1110.0,1329.0L1111.0,1330.3L1112.0,1328.3L1113.0,1326.4L1114.0,1328.3L1115.0,1330.3L1116.0,1328.3L1117.0,1326.4L1118.0,1327.4L1119.0,1328.4L1120.0,1329.4L1121.0,1327.9L1122.0,1326.4L1123.0,1324.3L1124.0,1318.4L1125.0,1324.3L1126.0,1330.2L1127.0,1326.4L1128.0,1328.8L1129.0,1326.4L1130.0,1327.3L1131.0,1328.3L1132.0,1329.3L1133.0,1325.9L1134.0,1322.4L1135.0,1325.9L1136.0,1329.5L1137.0,1327.9L1138.0,1326.4L1139.0,1327.5L1140.0,1328.6L1141.0,1327.5L1142.0,1326.4L1143.0,1327.7L1144.0,1329.0L1145.0,1330.2L1146.0,1324.3L1147.0,1318.4L1148.0,1324.3L1149.0,1328.3L1150.0,1324.3L1151.0,1318.4L1152.0,1324.3L1153.0,1328.3L1154.0,1326.4L1155.0,1329.5L1156.0,1325.9L1157.0,1322.4L1158.0,1328.7L1159.0,1326.4L1160.0,1328.3L1161.0,1330.3L1162.0,1328.3L1163.0,1326.4L1164.0,1327.6L1165.0,1328.8L1166.0,1326.4L1167.0,1327.4L1168.0,1328.5L1169.0,1326.5L1170.0,1324.4L1171.0,1322.4L1172.0,1325.0L1173.0,1327.7L1174.0,1330.3L1175.0,1326.4L1176.0,1322.4L1177.0,1326.4L1178.0,1330.3L1179.0,1329.0L1180.0,1327.7L1181.0,1326.4L1182.0,1328.3L1183.0,1330.3L1184.0,1326.4L1185.0,1322.4L1186.0,1325.0L1187.0,1327.7L1188.0,1330.3L1189.0,1328.3L1190.0,1326.4L1191.0,1327.7L1192.0,1329.0L1193.0,1330.3L1194.0,1329.0L1195.0,1327.7L1196.0,1326.4L1197.0,1328.3L1198.0,1330.3L1199.0,1329.0L1200.0,1327.7L1201.0,1326.4L1202.0,1329.4L1203.0,1326.4L1204.0,1328.3L1205.0,1330.3L1206.0,1328.3L1207.0,1326.4L1208.0,1328.3L1209.0,1330.3L1210.0,1329.0L1211.0,1327.7L1212.0,1326.4L1213.0,1327.7L1214.0,1329.0L1215.0,1330.3L1216.0,1328.3L1217.0,1326.4L1218.0,1330.3L1219.0,1326.4L1220.0,1322.4L1221.0,1326.4L1222.0,1330.3L1223.0,1328.3L1224.0,1326.4L1225.0,1330.3L1226.0,1328.3L1227.0,1326.4L1228.0,1327.7L1229.0,1329.0L1230.0,1330.3L1231.0,1328.3L1232.0,1326.4L1233.0,1328.3L1234.0,1330.3L1235.0,1326.4L1236.0,1322.4L1237.0,1326.4L1238.0,1330.3L1239.0,1326.4L1240.0,1322.4L1241.0,1329.3L1242.0,1326.4L1243.0,1327.5L1244.0,1328.7L1245.0,1327.5L1246.0,1326.4L1247.0,1328.3L1248.0,1330.3L1249.0,1328.3L1250.0,1326.4L1251.0,1329.0L1252.0,1326.4L1253.0,1327.7L1254.0,1329.0L1255.0,1330.3L1256.0,1328.3L1257.0,1326.4L1258.0,1330.3L1258.5,1325.5L1261.4,1321.3L1263.1,1316.5L1264.8,1310.0L1266.3,1306.8L1267.6,1283.2L1269.3,1261.1L1270.0,1252.8L1270.6,1219.5L1271.1,1191.8L1271.8,1211.2L1272.2,1211.9L1273.5,1202.2L1274.4,1248.6L1275.6,1319.2L1277.3,1328.2L1279.0,1327.5L1281.0,1317.2L1283.0,1326.2L1286.0,1326.2L1289.0,1319.9L1291.0,1327.5L1291.0,1322.4L1292.0,1326.4L1293.0,1330.3L1294.0,1328.3L1295.0,1326.4L1296.0,1330.3L1297.0,1328.3L1298.0,1326.4L1299.0,1327.5L1300.0,1328.7L1301.0,1327.5L1302.0,1326.4L1303.0,1328.3L1304.0,1330.3L1305.0,1326.4L1306.0,1322.4L1307.0,1330.3L1308.0,1326.4L1309.0,1322.4L1310.0,1326.4L1311.0,1329.0L1312.0,1330.3L1313.0,1326.4L1314.0,1322.4L1315.0,1330.3L1316.0,1326.4L1317.0,1322.4L1318.0,1326.4L1319.0,1329.0L1320.0,1330.3L1321.0,1328.3L1322.0,1326.4L1323.0,1322.4L1324.0,1326.4L1325.0,1330.3L1326.0,1326.4L1327.0,1322.4L1328.0,1325.0L1329.0,1327.7L1330.0,1330.3L1331.0,1328.3L1332.0,1326.4L1333.0,1327.1L1334.0,1327.9L1335.0,1328.7L1336.0,1327.5L1337.0,1326.4L1338.0,1329.3L1339.0,1326.4L1340.0,1328.3L1341.0,1330.3L1342.0,1328.3L1343.0,1326.4L1344.0,1327.5L1345.0,1328.6L1346.0,1327.5L1347.0,1326.4L1348.0,1328.3L1349.0,1330.3L1350.0,1326.4L1351.0,1327.7L1352.0,1329.1L1353.0,1327.7L1354.0,1326.4L1355.0,1327.2L1356.0,1328.1L1357.0,1326.4L1358.0,1330.3L1359.0,1326.4L1360.0,1322.4L1361.0,1325.0L1362.0,1327.7L1363.0,1330.3L1364.0,1328.3L1365.0,1326.4L1366.0,1328.3L1367.0,1330.3L1368.0,1326.4L1369.0,1322.4L1370.0,1325.7L1371.0,1329.0L1372.0,1327.7L1373.0,1326.4L1374.0,1328.3L1375.0,1330.3L1376.0,1328.3L1377.0,1326.4L1378.0,1328.3L1379.0,1330.3L1380.0,1322.4L1381.0,1324.2L1382.0,1326.1L1383.0,1327.9L1384.0,1327.1L1385.0,1326.4L1386.0,1324.3L1387.0,1318.4L1388.0,1324.3L1389.0,1327.7L1390.0,1326.4L1391.0,1328.3L1392.0,1330.3L1393.0,1328.3L1394.0,1326.4L1395.0,1328.3L1396.0,1330.3L1397.0,1328.3L1398.0,1326.4L1399.0,1327.2L1400.0,1328.1L1401.0,1327.2L1402.0,1326.4L1403.0,1328.1L1404.0,1322.4L1405.0,1325.0L1406.0,1324.3L1407.0,1318.4L1408.0,1324.3L1409.0,1326.4L1410.0,1327.7L1411.0,1329.0L1412.0,1330.3L1413.0,1328.3L1414.0,1326.4L1415.0,1328.3L1416.0,1330.3L1417.0,1328.3L1418.0,1326.4L1419.0,1327.7L1420.0,1329.0L1421.0,1330.3L1422.0,1330.3L1423.0,1330.3L1423.0,1330.3Z"/>
<path class="ya" d="M271,1191.8V1330.3H259.2"/><path class="yt" d="M259.2,1191.8H271.6"/>
<text class="tk" x="252.4" y="1195.1">35</text><text class="tk" x="252.4" y="1333.1">0</text>
<text class="lab" x="74" y="1266.7">GSM2481684</text>
<path class="d" d="M272.0,1484.2L272.0,1451.4L273.0,1473.9L274.0,1478.1L275.0,1473.9L276.0,1451.4L277.0,1428.8L278.0,1451.4L279.0,1473.9L280.0,1484.2L281.0,1481.2L282.0,1469.2L283.0,1456.5L284.0,1469.2L285.0,1474.6L286.0,1465.8L287.0,1474.6L288.0,1474.6L289.0,1465.8L290.0,1474.6L291.0,1474.6L292.0,1465.8L293.0,1474.6L294.0,1483.5L295.0,1479.6L296.0,1475.0L297.0,1478.0L298.0,1474.6L299.0,1465.8L300.0,1474.6L301.0,1483.5L302.0,1479.6L303.0,1469.2L304.0,1456.5L305.0,1469.2L306.0,1481.2L307.0,1478.1L308.0,1475.0L309.0,1479.6L310.0,1484.2L311.0,1479.6L312.0,1475.0L313.0,1479.6L314.0,1484.2L315.0,1479.6L316.0,1475.0L317.0,1478.1L318.0,1481.2L319.0,1484.2L320.0,1479.6L321.0,1474.6L322.0,1465.8L323.0,1474.6L324.0,1477.7L325.0,1475.0L326.0,1484.2L327.0,1479.6L328.0,1474.6L329.0,1465.8L330.0,1474.6L331.0,1479.6L332.0,1475.0L333.0,1479.6L334.0,1484.2L335.0,1479.6L336.0,1463.6L337.0,1447.3L338.0,1463.6L339.0,1479.8L340.0,1481.2L341.0,1478.1L342.0,1475.0L343.0,1477.3L344.0,1479.6L345.0,1481.9L346.0,1484.2L347.0,1482.4L348.0,1480.5L349.0,1478.7L350.0,1476.9L351.0,1475.0L352.0,1474.6L353.0,1465.8L354.0,1474.6L355.0,1479.6L356.0,1477.3L357.0,1475.0L358.0,1484.2L359.0,1479.6L360.0,1475.0L361.0,1479.6L362.0,1484.2L363.0,1479.6L364.0,1475.0L365.0,1463.6L366.0,1447.3L367.0,1463.6L368.0,1475.0L369.0,1479.6L370.0,1483.5L371.0,1474.6L372.0,1465.8L373.0,1474.6L374.0,1479.4L375.0,1477.2L376.0,1475.0L377.0,1478.1L378.0,1481.2L379.0,1484.2L380.0,1479.6L381.0,1463.6L382.0,1447.3L383.0,1463.6L384.0,1479.8L385.0,1479.6L386.0,1474.6L387.0,1465.8L388.0,1474.6L389.0,1481.2L390.0,1478.1L391.0,1469.2L392.0,1456.5L393.0,1469.2L394.0,1474.6L395.0,1465.8L396.0,1474.6L397.0,1479.6L398.0,1475.0L399.0,1484.2L400.0,1479.6L401.0,1475.0L402.0,1484.2L403.0,1479.6L404.0,1475.0L405.0,1457.6L406.0,1438.1L407.0,1457.6L408.0,1477.1L409.0,1484.2L410.0,1479.6L411.0,1475.0L412.0,1478.1L413.0,1481.2L414.0,1473.9L415.0,1451.4L416.0,1428.8L417.0,1451.4L418.0,1473.9L419.0,1484.2L420.0,1481.2L421.0,1474.6L422.0,1465.8L423.0,1474.6L424.0,1480.3L425.0,1478.6L426.0,1476.8L427.0,1475.0L428.0,1479.6L429.0,1474.6L430.0,1465.8L431.0,1474.6L432.0,1480.6L433.0,1477.8L434.0,1474.6L435.0,1465.8L436.0,1474.6L437.0,1475.0L438.0,1478.5L439.0,1474.6L440.0,1465.8L441.0,1474.6L442.0,1475.0L443.0,1484.2L444.0,1479.6L445.0,1475.0L446.0,1479.6L447.0,1484.2L448.0,1479.6L449.0,1469.2L450.0,1456.5L451.0,1469.2L452.0,1479.6L453.0,1475.0L454.0,1479.6L455.0,1484.2L456.0,1475.0L457.0,1477.3L458.0,1479.6L459.0,1481.9L460.0,1484.2L461.0,1482.7L462.0,1481.2L463.0,1479.6L464.0,1478.1L465.0,1476.5L466.0,1457.6L467.0,1438.1L468.0,1457.6L469.0,1477.1L470.0,1474.6L471.0,1465.8L472.0,1474.6L473.0,1475.0L474.0,1469.2L475.0,1456.5L476.0,1469.2L477.0,1478.1L478.0,1481.2L479.0,1484.2L480.0,1481.2L481.0,1478.1L482.0,1475.0L483.0,1478.1L484.0,1481.2L485.0,1469.2L486.0,1456.5L487.0,1469.2L488.0,1478.1L489.0,1481.2L490.0,1482.0L491.0,1469.2L492.0,1456.5L493.0,1469.2L494.0,1475.0L495.0,1479.6L496.0,1484.2L497.0,1479.6L498.0,1475.0L499.0,1474.6L500.0,1465.8L501.0,1474.6L502.0,1478.7L503.0,1475.0L504.0,1474.6L505.0,1465.8L506.0,1474.6L507.0,1475.0L508.0,1479.6L509.0,1484.2L510.0,1479.6L511.0,1474.6L512.0,1465.8L513.0,1474.6L514.0,1483.5L515.0,1479.6L516.0,1475.0L517.0,1484.2L518.0,1479.6L519.0,1475.0L520.0,1479.6L521.0,1484.2L522.0,1481.2L523.0,1478.1L524.0,1475.0L525.0,1483.5L526.0,1474.6L527.0,1465.8L528.0,1474.6L529.0,1483.5L530.0,1481.2L531.0,1478.1L532.0,1475.0L533.0,1479.6L534.0,1484.2L535.0,1479.6L536.0,1475.0L537.0,1469.2L538.0,1456.5L539.0,1469.2L540.0,1463.6L541.0,1447.3L542.0,1463.6L543.0,1479.6L544.0,1475.0L545.0,1479.6L546.0,1484.2L547.0,1481.2L548.0,1478.1L549.0,1475.0L550.0,1479.6L551.0,1484.2L552.0,1479.6L553.0,1475.0L554.0,1479.6L555.0,1463.6L556.0,1447.3L557.0,1463.6L558.0,1474.6L559.0,1465.8L560.0,1474.6L561.0,1479.6L562.0,1475.0L563.0,1477.2L564.0,1479.5L565.0,1478.0L566.0,1476.5L567.0,1475.0L568.0,1477.8L569.0,1480.7L570.0,1478.8L571.0,1474.6L572.0,1465.8L573.0,1474.6L574.0,1483.5L575.0,1479.6L576.0,1475.0L577.0,1479.6L578.0,1479.8L579.0,1463.6L580.0,1447.3L581.0,1463.6L582.0,1479.8L583.0,1481.2L584.0,1474.6L585.0,1465.8L586.0,1474.6L587.0,1483.5L588.0,1481.2L589.0,1474.6L590.0,1465.8L591.0,1474.6L592.0,1479.6L593.0,1475.0L594.0,1474.6L595.0,1465.8L596.0,1474.6L597.0,1474.6L598.0,1465.8L599.0,1474.6L600.0,1479.6L601.0,1475.0L602.0,1479.6L603.0,1474.6L604.0,1465.8L605.0,1474.6L606.0,1478.0L607.0,1480.9L608.0,1475.0L609.0,1477.4L610.0,1479.8L611.0,1482.2L612.0,1479.8L613.0,1477.4L614.0,1474.6L615.0,1465.8L616.0,1474.6L617.0,1477.8L618.0,1475.0L619.0,1478.1L620.0,1481.2L621.0,1484.2L622.0,1479.6L623.0,1475.0L624.0,1479.6L625.0,1474.6L626.0,1465.8L627.0,1474.6L628.0,1475.0L629.0,1479.6L630.0,1484.2L631.0,1481.2L632.0,1478.1L633.0,1475.0L634.0,1478.1L635.0,1481.2L636.0,1484.2L637.0,1481.2L638.0,1478.1L639.0,1475.0L640.0,1484.2L641.0,1479.6L642.0,1475.0L643.0,1479.6L644.0,1474.6L645.0,1465.8L646.0,1474.6L647.0,1479.6L648.0,1484.2L649.0,1481.2L650.0,1474.6L651.0,1465.8L652.0,1474.6L653.0,1481.2L654.0,1484.2L655.0,1479.6L656.0,1474.6L657.0,1465.8L658.0,1465.8L659.0,1474.6L660.0,1481.2L661.0,1478.1L662.0,1474.6L663.0,1465.8L664.0,1474.6L665.0,1479.7L666.0,1477.3L667.0,1475.0L668.0,1479.6L669.0,1483.5L670.0,1474.6L671.0,1465.8L672.0,1474.6L673.0,1479.9L674.0,1474.6L675.0,1465.8L676.0,1474.6L677.0,1483.5L678.0,1479.6L679.0,1475.0L680.0,1479.6L681.0,1484.2L682.0,1481.2L683.0,1478.1L684.0,1474.6L685.0,1465.8L686.0,1474.6L687.0,1479.6L688.0,1475.0L689.0,1474.6L690.0,1465.8L691.0,1474.6L692.0,1479.6L693.0,1474.6L694.0,1465.8L695.0,1474.6L696.0,1463.6L697.0,1447.3L698.0,1463.6L699.0,1476.6L700.0,1478.3L701.0,1479.9L702.0,1478.3L703.0,1476.6L704.0,1475.0L705.0,1477.0L706.0,1479.1L707.0,1469.2L708.0,1456.5L709.0,1469.2L710.0,1482.0L711.0,1479.6L712.0,1469.2L713.0,1456.5L714.0,1469.2L715.0,1479.6L716.0,1475.0L717.0,1463.6L718.0,1447.3L719.0,1463.6L720.0,1476.5L721.0,1475.0L722.0,1477.3L723.0,1474.6L724.0,1465.8L725.0,1474.6L726.0,1479.6L727.0,1463.6L728.0,1447.3L729.0,1463.6L730.0,1475.0L731.0,1484.2L732.0,1479.6L733.0,1475.0L734.0,1479.6L735.0,1474.6L736.0,1465.8L737.0,1474.6L738.0,1481.2L739.0,1484.2L740.0,1479.6L741.0,1475.0L742.0,1477.9L743.0,1480.7L744.0,1477.9L745.0,1475.0L746.0,1469.2L747.0,1456.5L748.0,1469.2L749.0,1479.6L750.0,1469.2L751.0,1456.5L752.0,1469.2L753.0,1463.6L754.0,1447.3L755.0,1463.6L756.0,1477.6L757.0,1480.3L758.0,1477.6L759.0,1474.6L760.0,1465.8L761.0,1474.6L762.0,1479.8L763.0,1463.6L764.0,1447.3L765.0,1463.6L766.0,1477.1L767.0,1479.2L768.0,1474.6L769.0,1465.8L770.0,1474.6L771.0,1479.6L772.0,1475.0L773.0,1476.2L774.0,1474.6L775.0,1465.8L776.0,1474.6L777.0,1474.6L778.0,1465.8L779.0,1474.6L780.0,1475.0L781.0,1469.2L782.0,1456.5L783.0,1469.2L784.0,1475.0L785.0,1479.5L786.0,1477.3L787.0,1475.0L788.0,1479.6L789.0,1483.5L790.0,1474.6L791.0,1465.8L792.0,1474.6L793.0,1479.6L794.0,1475.0L795.0,1474.6L796.0,1465.8L797.0,1474.6L798.0,1475.0L799.0,1478.1L800.0,1481.2L801.0,1484.2L802.0,1481.2L803.0,1478.1L804.0,1474.6L805.0,1465.8L806.0,1474.6L807.0,1478.1L808.0,1475.0L809.0,1479.6L810.0,1484.2L811.0,1481.9L812.0,1479.6L813.0,1469.2L814.0,1456.5L815.0,1469.2L816.0,1482.0L817.0,1475.0L818.0,1478.1L819.0,1469.2L820.0,1456.5L821.0,1469.2L822.0,1475.0L823.0,1479.6L824.0,1484.2L825.0,1475.0L826.0,1476.9L827.0,1478.7L828.0,1480.5L829.0,1482.4L830.0,1484.2L831.0,1482.9L832.0,1481.6L833.0,1480.3L834.0,1479.0L835.0,1477.6L836.0,1476.3L837.0,1474.6L838.0,1465.8L839.0,1474.6L840.0,1481.2L841.0,1478.1L842.0,1475.0L843.0,1479.6L844.0,1484.2L845.0,1479.6L846.0,1475.0L847.0,1477.2L848.0,1479.4L849.0,1469.2L850.0,1456.5L851.0,1469.2L852.0,1479.6L853.0,1481.9L854.0,1484.2L855.0,1479.6L856.0,1475.0L857.0,1463.6L858.0,1447.3L859.0,1463.6L860.0,1479.8L861.0,1475.0L862.0,1477.1L863.0,1457.6L864.0,1438.1L865.0,1457.6L866.0,1477.1L867.0,1479.6L868.0,1478.1L869.0,1476.5L870.0,1475.0L871.0,1479.6L872.0,1484.2L873.0,1479.6L874.0,1475.0L875.0,1479.6L876.0,1484.2L877.0,1481.2L878.0,1478.1L879.0,1475.0L880.0,1479.6L881.0,1484.2L882.0,1479.6L883.0,1475.0L884.0,1476.7L885.0,1478.3L886.0,1480.0L887.0,1478.3L888.0,1469.2L889.0,1456.5L890.0,1469.2L891.0,1482.0L892.0,1479.6L893.0,1475.0L894.0,1476.9L895.0,1469.2L896.0,1456.5L897.0,1469.2L898.0,1475.0L899.0,1477.9L900.0,1480.7L901.0,1477.9L902.0,1475.0L903.0,1478.1L904.0,1481.2L905.0,1484.2L906.0,1481.2L907.0,1478.1L908.0,1475.0L909.0,1479.6L910.0,1469.2L911.0,1456.5L912.0,1469.2L913.0,1478.3L914.0,1481.6L915.0,1478.3L916.0,1475.0L917.0,1484.2L918.0,1479.6L919.0,1475.0L920.0,1479.6L921.0,1474.6L922.0,1465.8L923.0,1474.6L924.0,1475.0L925.0,1476.8L926.0,1478.7L927.0,1480.5L928.0,1478.7L929.0,1476.8L930.0,1475.0L931.0,1478.1L932.0,1481.2L933.0,1484.2L934.0,1481.2L935.0,1478.1L936.0,1475.0L937.0,1479.6L938.0,1484.2L939.0,1479.6L940.0,1475.0L941.0,1474.6L942.0,1465.8L943.0,1474.6L944.0,1479.3L945.0,1477.2L946.0,1475.0L947.0,1477.3L948.0,1479.6L949.0,1481.9L950.0,1484.2L951.0,1479.6L952.0,1475.0L953.0,1481.4L954.0,1478.2L955.0,1475.0L956.0,1484.2L957.0,1479.6L958.0,1475.0L959.0,1476.8L960.0,1478.6L961.0,1480.4L962.0,1474.6L963.0,1465.8L964.0,1474.6L965.0,1483.5L966.0,1481.2L967.0,1478.1L968.0,1475.0L969.0,1478.1L970.0,1481.2L971.0,1484.2L972.0,1479.6L973.0,1474.6L974.0,1465.8L975.0,1474.6L976.0,1479.0L977.0,1480.3L978.0,1481.6L979.0,1482.9L980.0,1484.2L981.0,1481.9L982.0,1479.6L983.0,1477.3L984.0,1475.0L985.0,1479.6L986.0,1483.5L987.0,1474.6L988.0,1465.8L989.0,1474.6L990.0,1483.5L991.0,1479.6L992.0,1475.0L993.0,1478.1L994.0,1481.2L995.0,1484.2L996.0,1479.6L997.0,1475.0L998.0,1478.1L999.0,1481.2L1000.0,1484.2L1001.0,1479.6L1002.0,1475.0L1003.0,1476.2L1004.0,1477.3L1005.0,1478.5L1006.0,1479.6L1007.0,1480.8L1008.0,1481.9L1009.0,1483.1L1010.0,1484.2L1011.0,1482.7L1012.0,1481.2L1013.0,1479.6L1014.0,1478.1L1015.0,1476.5L1016.0,1474.6L1017.0,1465.8L1018.0,1474.6L1019.0,1474.6L1020.0,1465.8L1021.0,1474.6L1022.0,1483.5L1023.0,1479.6L1024.0,1475.0L1025.0,1477.0L1026.0,1479.0L1027.0,1477.0L1028.0,1475.0L1029.0,1477.5L1030.0,1480.0L1031.0,1475.0L1032.0,1479.6L1033.0,1482.0L1034.0,1469.2L1035.0,1456.5L1036.0,1469.2L1037.0,1477.9L1038.0,1474.6L1039.0,1465.8L1040.0,1465.8L1041.0,1474.6L1042.0,1475.0L1043.0,1479.6L1044.0,1463.6L1045.0,1447.3L1046.0,1463.6L1047.0,1465.8L1048.0,1474.6L1049.0,1476.9L1050.0,1478.7L1051.0,1480.5L1052.0,1482.4L1053.0,1484.2L1054.0,1482.9L1055.0,1481.6L1056.0,1480.3L1057.0,1479.0L1058.0,1477.6L1059.0,1469.2L1060.0,1456.5L1061.0,1469.2L1062.0,1482.0L1063.0,1479.6L1064.0,1475.0L1065.0,1484.2L1066.0,1479.6L1067.0,1475.0L1068.0,1479.6L1069.0,1483.5L1070.0,1474.6L1071.0,1465.8L1072.0,1474.6L1073.0,1481.2L1074.0,1474.6L1075.0,1465.8L1076.0,1474.6L1077.0,1475.0L1078.0,1478.0L1079.0,1469.2L1080.0,1456.5L1081.0,1469.2L1082.0,1475.0L1083.0,1474.6L1084.0,1465.8L1085.0,1474.6L1086.0,1463.6L1087.0,1447.3L1088.0,1463.6L1089.0,1469.2L1090.0,1456.5L1091.0,1469.2L1092.0,1482.0L1093.0,1479.6L1094.0,1475.0L1095.0,1479.0L1096.0,1477.0L1097.0,1475.0L1098.0,1479.6L1099.0,1484.2L1100.0,1481.2L1101.0,1478.1L1102.0,1475.0L1103.0,1479.6L1104.0,1484.2L1105.0,1479.6L1106.0,1475.0L1107.0,1474.6L1108.0,1465.8L1109.0,1474.6L1110.0,1478.6L1111.0,1482.2L1112.0,1478.6L1113.0,1475.0L1114.0,1479.6L1115.0,1484.2L1116.0,1479.6L1117.0,1474.6L1118.0,1465.8L1119.0,1474.6L1120.0,1475.0L1121.0,1478.1L1122.0,1481.2L1123.0,1474.6L1124.0,1465.8L1125.0,1474.6L1126.0,1480.4L1127.0,1475.0L1128.0,1479.6L1129.0,1484.2L1130.0,1475.0L1131.0,1469.2L1132.0,1456.5L1133.0,1469.2L1134.0,1479.6L1135.0,1475.0L1136.0,1484.2L1137.0,1479.6L1138.0,1475.0L1139.0,1474.6L1140.0,1465.8L1141.0,1474.6L1142.0,1477.6L1143.0,1476.3L1144.0,1475.0L1145.0,1479.6L1146.0,1483.5L1147.0,1474.6L1148.0,1465.8L1149.0,1474.6L1150.0,1483.5L1151.0,1479.6L1152.0,1475.0L1153.0,1479.6L1154.0,1483.5L1155.0,1474.6L1156.0,1465.8L1157.0,1474.6L1158.0,1465.8L1159.0,1474.6L1160.0,1475.0L1161.0,1476.5L1162.0,1478.1L1163.0,1479.6L1164.0,1481.2L1165.0,1482.7L1166.0,1484.2L1167.0,1482.4L1168.0,1480.5L1169.0,1478.7L1170.0,1476.9L1171.0,1475.0L1172.0,1474.6L1173.0,1465.8L1174.0,1474.6L1175.0,1479.6L1176.0,1484.2L1177.0,1479.6L1178.0,1475.0L1179.0,1479.6L1180.0,1469.2L1181.0,1456.5L1182.0,1469.2L1183.0,1481.0L1184.0,1475.0L1185.0,1474.6L1186.0,1465.8L1187.0,1474.6L1188.0,1469.2L1189.0,1456.5L1190.0,1469.2L1191.0,1482.0L1192.0,1479.6L1193.0,1474.6L1194.0,1465.8L1195.0,1474.6L1196.0,1475.0L1197.0,1478.3L1198.0,1481.5L1199.0,1475.0L1200.0,1479.5L1201.0,1475.0L1202.0,1484.2L1203.0,1479.6L1204.0,1474.6L1205.0,1465.8L1206.0,1474.6L1207.0,1483.5L1208.0,1481.2L1209.0,1478.1L1210.0,1474.6L1211.0,1465.8L1212.0,1474.6L1213.0,1478.6L1214.0,1476.8L1215.0,1475.0L1216.0,1479.6L1217.0,1483.5L1218.0,1474.6L1219.0,1465.8L1220.0,1474.6L1221.0,1479.6L1222.0,1475.0L1223.0,1479.6L1224.0,1482.0L1225.0,1469.2L1226.0,1456.5L1227.0,1469.2L1228.0,1478.1L1229.0,1481.2L1230.0,1484.2L1231.0,1479.6L1232.0,1475.0L1233.0,1479.6L1234.0,1483.5L1235.0,1474.6L1236.0,1465.8L1237.0,1474.6L1238.0,1475.0L1239.0,1479.6L1240.0,1482.0L1241.0,1469.2L1242.0,1456.5L1243.0,1463.6L1244.0,1447.3L1245.0,1463.6L1246.0,1479.8L1247.0,1481.2L1248.0,1478.1L1249.0,1475.0L1250.0,1478.1L1251.0,1481.2L1252.0,1484.2L1252.3,1481.7L1254.0,1466.4L1255.7,1467.5L1257.4,1447.7L1258.5,1455.6L1259.9,1447.7L1261.4,1460.1L1263.3,1470.4L1264.8,1437.4L1266.3,1419.8L1267.6,1428.3L1269.0,1438.0L1269.5,1456.7L1270.2,1419.8L1271.6,1410.1L1272.5,1363.6L1273.5,1345.7L1274.4,1392.0L1275.2,1431.7L1276.3,1465.8L1277.5,1484.0L1279.0,1477.2L1280.7,1444.2L1282.1,1429.3L1283.0,1447.7L1284.3,1447.7L1286.0,1466.9L1288.0,1457.0L1289.7,1470.4L1292.6,1484.0L1293.0,1484.2L1294.0,1481.2L1295.0,1478.1L1296.0,1469.2L1297.0,1456.5L1298.0,1469.2L1299.0,1479.6L1300.0,1481.2L1301.0,1482.7L1302.0,1484.2L1303.0,1483.1L1304.0,1481.9L1305.0,1480.8L1306.0,1479.6L1307.0,1478.5L1308.0,1477.3L1309.0,1476.2L1310.0,1469.2L1311.0,1456.5L1312.0,1469.2L1313.0,1482.0L1314.0,1479.6L1315.0,1475.0L1316.0,1483.5L1317.0,1474.6L1318.0,1465.8L1319.0,1474.6L1320.0,1483.5L1321.0,1479.6L1322.0,1475.0L1323.0,1481.2L1324.0,1478.1L1325.0,1475.0L1326.0,1484.2L1327.0,1479.6L1328.0,1475.0L1329.0,1479.6L1330.0,1484.2L1331.0,1481.2L1332.0,1478.1L1333.0,1475.0L1334.0,1479.6L1335.0,1482.0L1336.0,1469.2L1337.0,1456.5L1338.0,1469.2L1339.0,1482.0L1340.0,1474.6L1341.0,1465.8L1342.0,1474.6L1343.0,1481.2L1344.0,1469.2L1345.0,1456.5L1346.0,1469.2L1347.0,1479.6L1348.0,1475.0L1349.0,1484.2L1350.0,1479.6L1351.0,1475.0L1352.0,1482.0L1353.0,1469.2L1354.0,1456.5L1355.0,1469.2L1356.0,1451.4L1357.0,1428.8L1358.0,1451.4L1359.0,1473.9L1360.0,1474.6L1361.0,1465.8L1362.0,1474.6L1363.0,1477.3L1364.0,1475.0L1365.0,1479.6L1366.0,1484.2L1367.0,1475.0L1368.0,1469.2L1369.0,1456.5L1370.0,1469.2L1371.0,1478.1L1372.0,1469.2L1373.0,1456.5L1374.0,1469.2L1375.0,1479.9L1376.0,1477.5L1377.0,1475.0L1378.0,1479.6L1379.0,1483.5L1380.0,1474.6L1381.0,1465.8L1382.0,1474.6L1383.0,1483.5L1384.0,1479.6L1385.0,1475.0L1386.0,1479.6L1387.0,1484.2L1388.0,1475.0L1389.0,1479.6L1390.0,1479.8L1391.0,1463.6L1392.0,1447.3L1393.0,1463.6L1394.0,1479.6L1395.0,1475.0L1396.0,1479.6L1397.0,1484.2L1398.0,1481.2L1399.0,1478.1L1400.0,1475.0L1401.0,1478.1L1402.0,1463.6L1403.0,1447.3L1404.0,1463.6L1405.0,1463.6L1406.0,1447.3L1407.0,1451.4L1408.0,1428.8L1409.0,1451.4L1410.0,1473.9L1411.0,1484.2L1412.0,1479.6L1413.0,1475.0L1414.0,1479.6L1415.0,1479.8L1416.0,1463.6L1417.0,1447.3L1418.0,1463.6L1419.0,1479.0L1420.0,1477.0L1421.0,1474.6L1422.0,1465.8L1423.0,1474.6L1423.0,1484.2Z"/>
<path class="ya" d="M271,1345.7V1484.2H259.2"/><path class="yt" d="M259.2,1345.7H271.6"/>
<text class="tk" x="252.4" y="1349.0">15</text><text class="tk" x="252.4" y="1487.0">0</text>
<text class="lab" x="74" y="1420.6">GSM2481683</text>
<path class="d" d="M272.0,1638.2L272.0,1635.4L273.0,1636.4L274.0,1634.0L275.0,1629.9L276.0,1634.0L277.0,1636.3L278.0,1631.9L279.0,1625.7L280.0,1631.9L281.0,1638.0L282.0,1635.4L283.0,1632.6L284.0,1635.4L285.0,1638.2L286.0,1636.8L287.0,1635.4L288.0,1636.2L289.0,1637.0L290.0,1636.4L291.0,1635.9L292.0,1635.4L293.0,1636.8L294.0,1638.2L295.0,1635.4L296.0,1632.6L297.0,1634.1L298.0,1635.6L299.0,1634.6L300.0,1633.6L301.0,1632.6L302.0,1635.4L303.0,1638.2L304.0,1636.8L305.0,1635.4L306.0,1636.3L307.0,1637.2L308.0,1638.2L309.0,1636.8L310.0,1635.4L311.0,1638.2L312.0,1636.8L313.0,1635.4L314.0,1638.2L315.0,1636.8L316.0,1635.4L317.0,1638.2L318.0,1636.8L319.0,1635.4L320.0,1632.6L321.0,1635.5L322.0,1636.8L323.0,1635.4L324.0,1636.8L325.0,1638.2L326.0,1637.2L327.0,1636.3L328.0,1635.4L329.0,1637.1L330.0,1635.4L331.0,1636.3L332.0,1637.2L333.0,1634.0L334.0,1629.9L335.0,1634.0L336.0,1638.2L337.0,1636.8L338.0,1635.4L339.0,1636.8L340.0,1638.2L341.0,1635.4L342.0,1636.7L343.0,1635.4L344.0,1636.8L345.0,1638.2L346.0,1636.8L347.0,1635.4L348.0,1636.2L349.0,1637.0L350.0,1636.4L351.0,1635.9L352.0,1635.4L353.0,1636.8L354.0,1638.2L355.0,1636.8L356.0,1635.4L357.0,1636.8L358.0,1638.2L359.0,1636.8L360.0,1635.4L361.0,1636.8L362.0,1635.5L363.0,1632.6L364.0,1635.5L365.0,1637.5L366.0,1635.4L367.0,1637.1L368.0,1632.6L369.0,1635.4L370.0,1638.2L371.0,1636.8L372.0,1635.4L373.0,1636.8L374.0,1638.2L375.0,1636.8L376.0,1635.4L377.0,1636.6L378.0,1635.4L379.0,1636.8L380.0,1638.2L381.0,1636.3L382.0,1634.5L383.0,1632.6L384.0,1635.4L385.0,1634.0L386.0,1629.9L387.0,1632.6L388.0,1634.6L389.0,1636.6L390.0,1634.6L391.0,1632.6L392.0,1635.4L393.0,1632.6L394.0,1635.4L395.0,1636.8L396.0,1638.2L397.0,1635.4L398.0,1632.6L399.0,1638.2L400.0,1636.8L401.0,1635.4L402.0,1636.8L403.0,1638.2L404.0,1636.8L405.0,1635.4L406.0,1636.2L407.0,1637.0L408.0,1632.6L409.0,1635.4L410.0,1635.5L411.0,1632.6L412.0,1632.6L413.0,1635.1L414.0,1637.6L415.0,1636.5L416.0,1635.4L417.0,1637.0L418.0,1635.4L419.0,1637.0L420.0,1636.2L421.0,1634.0L422.0,1629.9L423.0,1634.0L424.0,1636.3L425.0,1635.4L426.0,1636.8L427.0,1638.2L428.0,1635.4L429.0,1636.5L430.0,1637.5L431.0,1636.5L432.0,1635.4L433.0,1636.8L434.0,1638.2L435.0,1635.4L436.0,1636.6L437.0,1635.4L438.0,1636.8L439.0,1638.2L440.0,1636.8L441.0,1635.4L442.0,1636.8L443.0,1638.2L444.0,1636.8L445.0,1635.4L446.0,1636.8L447.0,1638.2L448.0,1635.4L449.0,1636.3L450.0,1637.2L451.0,1638.2L452.0,1637.2L453.0,1636.3L454.0,1635.4L455.0,1635.5L456.0,1632.6L457.0,1634.7L458.0,1636.8L459.0,1636.1L460.0,1635.4L461.0,1636.4L462.0,1637.4L463.0,1636.4L464.0,1635.4L465.0,1638.2L466.0,1635.4L467.0,1632.6L468.0,1638.2L469.0,1636.8L470.0,1635.4L471.0,1636.0L472.0,1636.6L473.0,1636.0L474.0,1635.4L475.0,1637.0L476.0,1635.4L477.0,1636.8L478.0,1638.2L479.0,1635.4L480.0,1636.8L481.0,1638.2L482.0,1635.4L483.0,1638.2L484.0,1636.8L485.0,1635.4L486.0,1637.3L487.0,1635.4L488.0,1636.8L489.0,1638.2L490.0,1637.2L491.0,1636.3L492.0,1635.4L493.0,1636.3L494.0,1637.2L495.0,1638.2L496.0,1635.4L497.0,1632.6L498.0,1634.6L499.0,1636.6L500.0,1636.2L501.0,1635.8L502.0,1635.4L503.0,1636.3L504.0,1637.2L505.0,1638.2L506.0,1635.4L507.0,1632.6L508.0,1634.5L509.0,1632.6L510.0,1635.5L511.0,1635.5L512.0,1632.6L513.0,1635.5L514.0,1637.1L515.0,1636.5L516.0,1636.0L517.0,1635.4L518.0,1636.8L519.0,1638.2L520.0,1636.8L521.0,1635.4L522.0,1636.1L523.0,1636.9L524.0,1634.8L525.0,1632.6L526.0,1635.4L527.0,1638.2L528.0,1636.8L529.0,1635.4L530.0,1636.8L531.0,1638.2L532.0,1637.2L533.0,1636.3L534.0,1635.4L535.0,1636.8L536.0,1638.2L537.0,1636.8L538.0,1635.4L539.0,1636.8L540.0,1638.2L541.0,1635.4L542.0,1632.6L543.0,1635.4L544.0,1638.2L545.0,1635.4L546.0,1632.6L547.0,1634.5L548.0,1636.3L549.0,1638.2L550.0,1636.8L551.0,1635.4L552.0,1638.2L553.0,1636.8L554.0,1635.4L555.0,1636.8L556.0,1638.2L557.0,1635.4L558.0,1632.6L559.0,1637.0L560.0,1635.4L561.0,1636.8L562.0,1638.2L563.0,1637.2L564.0,1636.3L565.0,1635.4L566.0,1636.8L567.0,1634.7L568.0,1632.6L569.0,1634.5L570.0,1636.3L571.0,1638.2L572.0,1636.8L573.0,1635.4L574.0,1638.2L575.0,1636.8L576.0,1635.4L577.0,1636.8L578.0,1638.2L579.0,1636.8L580.0,1635.4L581.0,1636.8L582.0,1638.2L583.0,1635.4L584.0,1636.4L585.0,1637.3L586.0,1636.7L587.0,1636.0L588.0,1635.4L589.0,1636.8L590.0,1638.2L591.0,1635.5L592.0,1632.6L593.0,1635.5L594.0,1638.2L595.0,1635.4L596.0,1636.9L597.0,1636.2L598.0,1635.4L599.0,1636.8L600.0,1638.2L601.0,1636.8L602.0,1635.4L603.0,1636.8L604.0,1638.2L605.0,1636.8L606.0,1635.4L607.0,1638.2L608.0,1636.8L609.0,1635.4L610.0,1638.2L611.0,1636.8L612.0,1635.4L613.0,1636.8L614.0,1638.2L615.0,1636.8L616.0,1635.4L617.0,1638.2L618.0,1636.8L619.0,1635.4L620.0,1636.8L621.0,1638.2L622.0,1635.4L623.0,1636.3L624.0,1637.2L625.0,1638.2L626.0,1636.3L627.0,1634.5L628.0,1632.6L629.0,1636.7L630.0,1635.4L631.0,1636.1L632.0,1636.7L633.0,1636.1L634.0,1635.4L635.0,1638.2L636.0,1636.8L637.0,1635.4L638.0,1636.8L639.0,1638.2L640.0,1636.8L641.0,1635.4L642.0,1636.3L643.0,1637.3L644.0,1635.4L645.0,1636.8L646.0,1638.2L647.0,1632.6L648.0,1635.4L649.0,1638.2L650.0,1636.3L651.0,1634.5L652.0,1632.6L653.0,1634.8L654.0,1637.0L655.0,1635.4L656.0,1636.8L657.0,1638.2L658.0,1636.3L659.0,1634.5L660.0,1632.6L661.0,1635.4L662.0,1638.2L663.0,1636.8L664.0,1635.4L665.0,1636.8L666.0,1638.2L667.0,1637.2L668.0,1636.3L669.0,1635.4L670.0,1636.8L671.0,1638.2L672.0,1636.8L673.0,1635.4L674.0,1636.8L675.0,1638.2L676.0,1632.6L677.0,1634.5L678.0,1635.5L679.0,1632.6L680.0,1635.5L681.0,1635.4L682.0,1636.8L683.0,1638.2L684.0,1637.2L685.0,1636.3L686.0,1635.4L687.0,1636.8L688.0,1638.2L689.0,1637.2L690.0,1636.3L691.0,1635.4L692.0,1636.8L693.0,1638.2L694.0,1635.4L695.0,1636.8L696.0,1638.2L697.0,1635.4L698.0,1636.8L699.0,1638.2L700.0,1636.8L701.0,1635.4L702.0,1636.8L703.0,1638.2L704.0,1635.4L705.0,1636.8L706.0,1638.2L707.0,1635.4L708.0,1632.6L709.0,1638.2L710.0,1636.8L711.0,1635.4L712.0,1636.8L713.0,1634.0L714.0,1629.9L715.0,1634.0L716.0,1636.8L717.0,1631.9L718.0,1625.7L719.0,1631.9L720.0,1631.9L721.0,1625.7L722.0,1631.9L723.0,1636.3L724.0,1635.4L725.0,1636.8L726.0,1638.2L727.0,1635.4L728.0,1632.6L729.0,1638.2L730.0,1635.4L731.0,1632.6L732.0,1634.7L733.0,1636.8L734.0,1636.1L735.0,1635.4L736.0,1636.8L737.0,1638.2L738.0,1635.4L739.0,1638.2L740.0,1636.8L741.0,1635.4L742.0,1637.1L743.0,1632.6L744.0,1635.4L745.0,1638.2L746.0,1632.6L747.0,1638.2L748.0,1635.4L749.0,1632.6L750.0,1634.5L751.0,1636.3L752.0,1638.2L753.0,1635.4L754.0,1632.6L755.0,1635.4L756.0,1638.2L757.0,1636.8L758.0,1635.4L759.0,1636.8L760.0,1638.2L761.0,1635.4L762.0,1632.6L763.0,1634.7L764.0,1636.7L765.0,1636.1L766.0,1635.4L767.0,1636.3L768.0,1634.0L769.0,1629.9L770.0,1634.0L771.0,1636.0L772.0,1636.6L773.0,1635.2L774.0,1633.9L775.0,1632.6L776.0,1635.0L777.0,1637.5L778.0,1636.4L779.0,1635.4L780.0,1636.1L781.0,1636.9L782.0,1634.8L783.0,1632.6L784.0,1635.4L785.0,1638.2L786.0,1632.6L787.0,1635.4L788.0,1638.2L789.0,1635.4L790.0,1632.6L791.0,1632.6L792.0,1635.5L793.0,1636.8L794.0,1635.4L795.0,1636.8L796.0,1638.2L797.0,1635.4L798.0,1632.6L799.0,1634.7L800.0,1636.7L801.0,1635.4L802.0,1636.8L803.0,1638.2L804.0,1636.8L805.0,1635.4L806.0,1636.1L807.0,1636.8L808.0,1636.1L809.0,1635.4L810.0,1636.9L811.0,1634.8L812.0,1632.6L813.0,1638.2L814.0,1636.8L815.0,1635.4L816.0,1636.3L817.0,1637.2L818.0,1638.2L819.0,1635.4L820.0,1632.6L821.0,1635.5L822.0,1632.6L823.0,1635.4L824.0,1636.8L825.0,1638.2L826.0,1636.8L827.0,1635.4L828.0,1636.3L829.0,1637.2L830.0,1638.2L831.0,1636.8L832.0,1635.4L833.0,1637.3L834.0,1635.4L835.0,1638.2L836.0,1636.8L837.0,1635.4L838.0,1638.2L839.0,1636.8L840.0,1635.4L841.0,1636.1L842.0,1636.8L843.0,1637.5L844.0,1635.9L845.0,1634.3L846.0,1632.6L847.0,1635.4L848.0,1638.2L849.0,1635.4L850.0,1632.6L851.0,1634.0L852.0,1631.2L853.0,1634.8L854.0,1636.0L855.0,1635.4L856.0,1636.2L857.0,1636.9L858.0,1634.8L859.0,1632.6L860.0,1635.4L861.0,1638.2L862.0,1632.6L863.0,1635.0L864.0,1637.5L865.0,1636.4L866.0,1635.4L867.0,1636.4L868.0,1637.4L869.0,1636.8L870.0,1636.1L871.0,1635.4L872.0,1636.1L873.0,1636.8L874.0,1637.5L875.0,1635.1L876.0,1632.6L877.0,1635.4L878.0,1638.2L879.0,1636.8L880.0,1635.4L881.0,1636.8L882.0,1638.2L883.0,1636.8L884.0,1635.4L885.0,1638.2L886.0,1636.8L887.0,1635.4L888.0,1636.8L889.0,1638.2L890.0,1636.8L891.0,1635.4L892.0,1636.8L893.0,1638.2L894.0,1636.8L895.0,1635.4L896.0,1636.3L897.0,1637.2L898.0,1638.2L899.0,1635.4L900.0,1632.6L901.0,1634.2L902.0,1635.8L903.0,1637.4L904.0,1636.4L905.0,1635.4L906.0,1636.8L907.0,1638.2L908.0,1636.3L909.0,1634.5L910.0,1632.6L911.0,1635.4L912.0,1638.2L913.0,1636.8L914.0,1635.4L915.0,1636.8L916.0,1638.2L917.0,1636.8L918.0,1634.8L919.0,1631.2L920.0,1634.8L921.0,1636.8L922.0,1635.4L923.0,1636.1L924.0,1636.7L925.0,1637.4L926.0,1636.4L927.0,1635.4L928.0,1636.3L929.0,1637.2L930.0,1638.2L931.0,1636.8L932.0,1635.4L933.0,1638.2L934.0,1635.4L935.0,1632.6L936.0,1634.7L937.0,1636.9L938.0,1636.1L939.0,1635.4L940.0,1636.8L941.0,1638.2L942.0,1635.4L943.0,1632.6L944.0,1635.4L945.0,1638.2L946.0,1635.4L947.0,1636.8L948.0,1638.2L949.0,1636.8L950.0,1635.4L951.0,1637.1L952.0,1635.4L953.0,1636.8L954.0,1638.2L955.0,1636.3L956.0,1634.5L957.0,1632.6L958.0,1635.4L959.0,1638.2L960.0,1636.8L961.0,1635.4L962.0,1636.8L963.0,1638.2L964.0,1635.4L965.0,1632.6L966.0,1635.4L967.0,1638.2L968.0,1635.4L969.0,1637.4L970.0,1634.8L971.0,1631.2L972.0,1634.8L973.0,1638.2L974.0,1636.8L975.0,1635.4L976.0,1636.8L977.0,1638.2L978.0,1637.2L979.0,1636.3L980.0,1635.4L981.0,1636.4L982.0,1637.4L983.0,1635.4L984.0,1636.5L985.0,1632.6L986.0,1634.5L987.0,1636.3L988.0,1638.2L989.0,1636.8L990.0,1635.4L991.0,1636.3L992.0,1637.2L993.0,1638.2L994.0,1636.8L995.0,1635.4L996.0,1636.8L997.0,1638.2L998.0,1635.4L999.0,1632.6L1000.0,1635.4L1001.0,1638.2L1002.0,1636.8L1003.0,1635.4L1004.0,1636.8L1005.0,1638.2L1006.0,1636.8L1007.0,1635.4L1008.0,1636.1L1009.0,1636.9L1010.0,1636.4L1011.0,1635.9L1012.0,1635.4L1013.0,1636.8L1014.0,1638.2L1015.0,1637.2L1016.0,1634.8L1017.0,1631.2L1018.0,1634.8L1019.0,1637.2L1020.0,1638.2L1021.0,1636.8L1022.0,1635.4L1023.0,1636.8L1024.0,1638.2L1025.0,1637.2L1026.0,1636.3L1027.0,1635.4L1028.0,1636.8L1029.0,1638.2L1030.0,1635.4L1031.0,1632.6L1032.0,1635.4L1033.0,1638.2L1034.0,1636.8L1035.0,1635.4L1036.0,1636.8L1037.0,1638.2L1038.0,1632.6L1039.0,1634.0L1040.0,1635.4L1041.0,1636.8L1042.0,1638.2L1043.0,1636.8L1044.0,1635.4L1045.0,1637.5L1046.0,1635.4L1047.0,1636.8L1048.0,1638.2L1049.0,1636.8L1050.0,1635.4L1051.0,1636.8L1052.0,1635.4L1053.0,1636.8L1054.0,1638.2L1055.0,1636.8L1056.0,1635.4L1057.0,1636.8L1058.0,1638.2L1059.0,1636.8L1060.0,1635.4L1061.0,1638.2L1062.0,1636.8L1063.0,1635.4L1064.0,1636.8L1065.0,1638.2L1066.0,1636.8L1067.0,1635.4L1068.0,1638.2L1069.0,1636.8L1070.0,1634.8L1071.0,1631.2L1072.0,1634.8L1073.0,1632.6L1074.0,1635.4L1075.0,1638.2L1076.0,1635.4L1077.0,1634.8L1078.0,1631.2L1079.0,1634.8L1080.0,1636.3L1081.0,1635.4L1082.0,1636.3L1083.0,1637.2L1084.0,1636.3L1085.0,1635.4L1086.0,1636.8L1087.0,1638.2L1088.0,1636.8L1089.0,1635.4L1090.0,1636.8L1091.0,1638.2L1092.0,1635.4L1093.0,1636.8L1094.0,1638.2L1095.0,1636.8L1096.0,1635.4L1097.0,1636.8L1098.0,1638.2L1099.0,1636.8L1100.0,1635.4L1101.0,1636.6L1102.0,1635.4L1103.0,1636.1L1104.0,1636.7L1105.0,1636.1L1106.0,1634.8L1107.0,1631.2L1108.0,1634.8L1109.0,1635.4L1110.0,1636.3L1111.0,1637.2L1112.0,1638.2L1113.0,1636.8L1114.0,1635.4L1115.0,1636.8L1116.0,1638.2L1117.0,1635.4L1118.0,1637.1L1119.0,1635.4L1120.0,1636.1L1121.0,1636.7L1122.0,1636.3L1123.0,1635.8L1124.0,1635.4L1125.0,1636.8L1126.0,1638.2L1127.0,1636.8L1128.0,1635.4L1129.0,1636.3L1130.0,1637.2L1131.0,1636.3L1132.0,1635.4L1133.0,1636.8L1134.0,1638.2L1135.0,1635.4L1136.0,1636.8L1137.0,1638.2L1138.0,1636.8L1139.0,1635.4L1140.0,1638.2L1141.0,1636.8L1142.0,1635.4L1143.0,1636.8L1144.0,1638.2L1145.0,1636.8L1146.0,1635.4L1147.0,1636.8L1148.0,1638.2L1149.0,1632.6L1150.0,1636.7L1151.0,1636.1L1152.0,1635.4L1153.0,1636.8L1154.0,1638.2L1155.0,1635.4L1156.0,1632.6L1157.0,1634.8L1158.0,1637.0L1159.0,1636.4L1160.0,1635.9L1161.0,1635.4L1162.0,1634.8L1163.0,1631.2L1164.0,1634.8L1165.0,1636.8L1166.0,1638.2L1167.0,1635.4L1168.0,1632.6L1169.0,1634.5L1170.0,1636.3L1171.0,1638.2L1172.0,1636.8L1173.0,1635.4L1174.0,1636.8L1175.0,1638.2L1176.0,1636.8L1177.0,1635.4L1178.0,1638.2L1179.0,1636.8L1180.0,1635.4L1181.0,1636.8L1182.0,1638.2L1183.0,1637.2L1184.0,1636.3L1185.0,1635.4L1186.0,1636.3L1187.0,1637.2L1188.0,1636.3L1189.0,1635.4L1190.0,1636.3L1191.0,1637.2L1192.0,1638.2L1193.0,1636.8L1194.0,1635.4L1195.0,1636.0L1196.0,1636.7L1197.0,1636.3L1198.0,1635.8L1199.0,1635.4L1200.0,1636.7L1201.0,1636.1L1202.0,1634.8L1203.0,1631.2L1204.0,1634.8L1205.0,1638.2L1206.0,1636.8L1207.0,1635.4L1208.0,1636.8L1209.0,1638.2L1210.0,1635.4L1211.0,1632.6L1212.0,1634.5L1213.0,1636.3L1214.0,1638.2L1215.0,1636.8L1216.0,1635.4L1217.0,1636.8L1218.0,1638.2L1219.0,1634.8L1220.0,1631.2L1221.0,1634.8L1222.0,1637.2L1223.0,1638.2L1224.0,1635.4L1225.0,1632.6L1226.0,1634.5L1227.0,1636.3L1228.0,1638.2L1229.0,1636.8L1230.0,1635.4L1231.0,1636.8L1232.0,1638.2L1233.0,1637.2L1234.0,1636.3L1235.0,1635.4L1236.0,1636.1L1237.0,1636.7L1238.0,1635.4L1239.0,1634.0L1240.0,1632.6L1241.0,1634.5L1242.0,1636.3L1243.0,1638.2L1244.0,1635.4L1245.0,1632.6L1246.0,1634.5L1247.0,1636.3L1248.0,1638.2L1249.0,1636.8L1250.0,1635.4L1251.0,1636.8L1252.0,1638.2L1253.0,1636.8L1254.0,1635.4L1255.0,1636.3L1256.0,1637.2L1257.0,1638.2L1258.0,1637.3L1258.0,1635.4L1260.2,1631.2L1262.2,1630.6L1264.2,1624.3L1265.9,1595.9L1266.7,1595.2L1268.2,1570.3L1269.3,1569.8L1270.5,1557.3L1271.6,1526.7L1272.5,1499.7L1273.5,1526.7L1274.4,1591.4L1275.6,1636.8L1278.0,1637.5L1281.2,1632.9L1283.0,1633.3L1284.6,1627.1L1286.5,1636.8L1288.5,1632.9L1290.0,1636.8L1291.5,1632.9L1293.0,1636.8L1293.0,1636.8L1294.0,1638.2L1295.0,1636.8L1296.0,1635.4L1297.0,1636.3L1298.0,1637.2L1299.0,1638.2L1300.0,1636.8L1301.0,1635.4L1302.0,1637.3L1303.0,1635.4L1304.0,1638.2L1305.0,1636.8L1306.0,1635.4L1307.0,1638.2L1308.0,1634.8L1309.0,1631.2L1310.0,1634.8L1311.0,1636.8L1312.0,1635.4L1313.0,1638.2L1314.0,1634.8L1315.0,1631.2L1316.0,1634.8L1317.0,1636.8L1318.0,1634.8L1319.0,1631.2L1320.0,1634.8L1321.0,1637.2L1322.0,1636.3L1323.0,1635.4L1324.0,1636.9L1325.0,1634.8L1326.0,1632.6L1327.0,1634.5L1328.0,1636.3L1329.0,1638.2L1330.0,1636.8L1331.0,1635.4L1332.0,1636.8L1333.0,1638.2L1334.0,1635.4L1335.0,1632.6L1336.0,1635.4L1337.0,1638.2L1338.0,1636.8L1339.0,1635.4L1340.0,1636.8L1341.0,1638.2L1342.0,1635.4L1343.0,1636.8L1344.0,1638.2L1345.0,1636.8L1346.0,1635.4L1347.0,1636.8L1348.0,1638.2L1349.0,1637.2L1350.0,1636.3L1351.0,1635.4L1352.0,1637.4L1353.0,1635.4L1354.0,1636.8L1355.0,1634.8L1356.0,1631.2L1357.0,1634.8L1358.0,1636.9L1359.0,1635.4L1360.0,1637.2L1361.0,1634.9L1362.0,1632.6L1363.0,1634.5L1364.0,1636.3L1365.0,1638.2L1366.0,1636.8L1367.0,1635.4L1368.0,1636.8L1369.0,1638.2L1370.0,1636.8L1371.0,1635.4L1372.0,1636.8L1373.0,1638.2L1374.0,1636.8L1375.0,1635.4L1376.0,1636.8L1377.0,1638.2L1378.0,1635.4L1379.0,1632.6L1380.0,1638.2L1381.0,1636.8L1382.0,1635.4L1383.0,1636.8L1384.0,1638.2L1385.0,1634.8L1386.0,1631.2L1387.0,1634.8L1388.0,1635.4L1389.0,1632.6L1390.0,1636.9L1391.0,1635.4L1392.0,1636.7L1393.0,1636.0L1394.0,1635.4L1395.0,1636.1L1396.0,1636.7L1397.0,1637.4L1398.0,1635.8L1399.0,1634.2L1400.0,1632.6L1401.0,1634.8L1402.0,1631.2L1403.0,1634.8L1404.0,1636.3L1405.0,1635.4L1406.0,1634.8L1407.0,1631.2L1408.0,1634.8L1409.0,1634.9L1410.0,1632.6L1411.0,1635.4L1412.0,1634.8L1413.0,1631.2L1414.0,1634.8L1415.0,1638.2L1416.0,1635.4L1417.0,1632.6L1418.0,1638.2L1419.0,1635.4L1420.0,1632.6L1421.0,1634.5L1422.0,1636.3L1423.0,1638.2L1423.0,1638.2Z"/>
<path class="ya" d="M271,1499.7V1638.2H259.2"/><path class="yt" d="M259.2,1499.7H271.6"/>
<text class="tk" x="252.4" y="1503.0">62</text><text class="tk" x="252.4" y="1641.0">0</text>
<text class="lab" x="74" y="1574.5">GSM2481682</text>
<path class="d" d="M296.5,1792.1L296.5,1792.1L323.7,1722.9L354.5,1792.1L385.0,1722.9L386.4,1653.6L390.5,1776.2L394.6,1653.6L395.5,1653.6L395.8,1722.9L488.1,1792.1L581.0,1722.9L673.1,1792.1L766.3,1722.9L767.0,1731.2L767.6,1722.9L810.4,1792.1L854.3,1722.9L1140.1,1792.1L1140.1,1792.1Z"/>
<path class="nl" d="M767.0,1731.2V1792.1"/>
<path class="ya" d="M271,1653.6V1792.1H259.2"/><path class="yt" d="M259.2,1653.6H271.6"/>
<text class="tk" x="252.4" y="1656.9">137</text><text class="tk" x="252.4" y="1794.9">0</text>
<text class="lab" x="74" y="1728.5">GSM2481681</text>
<path class="d" d="M276.2,1946.0L276.2,1946.0L282.3,1807.5L296.4,1946.0L311.0,1807.5L653.9,1946.0L996.2,1807.5L1059.8,1946.0L1124.2,1807.5L1146.7,1946.0L1166.6,1807.5L1266.8,1946.0L1367.4,1807.5L1368.6,1878.2L1370.4,1807.5L1397.5,1946.0L1397.5,1946.0Z"/>
<path class="nl" d="M1368.6,1878.2V1946.0"/>
<path class="ya" d="M271,1807.5V1946.0H259.2"/><path class="yt" d="M259.2,1807.5H271.6"/>
<text class="tk" x="252.4" y="1810.8">40</text><text class="tk" x="252.4" y="1948.8">0</text>
<text class="lab" x="74" y="1882.4">GSM2481680</text>
<path class="d" d="M374.1,2100.0L374.1,2100.0L479.5,2030.7L539.8,2100.0L599.5,2030.7L636.0,2100.0L672.5,2030.7L674.1,2076.4L675.8,2030.7L868.9,2100.0L1061.2,2030.7L1071.8,2095.8L1081.7,2030.7L1178.6,2100.0L1274.0,1961.5L1278.7,2097.2L1283.3,2030.7L1329.7,2100.0L1374.8,2030.7L1376.2,2072.3L1377.5,2030.7L1400.7,2100.0L1400.7,2100.0Z"/>
<path class="nl" d="M674.1,2076.4V2100.0M1376.2,2072.3V2100.0"/>
<path class="ya" d="M271,1961.5V2100.0H259.2"/><path class="yt" d="M259.2,1961.5H271.6"/>
<text class="tk" x="252.4" y="1964.8">74</text><text class="tk" x="252.4" y="2102.8">0</text>
<text class="lab" x="74" y="2036.3">GSM2481679</text>
<path class="d" d="M274.5,2253.9L274.5,2253.9L279.5,2207.7L304.0,2253.9L328.9,2207.7L339.8,2253.9L349.8,2207.7L354.8,2253.9L359.3,2207.7L402.0,2253.9L443.2,2207.7L443.7,2161.6L444.1,2207.7L464.5,2253.9L483.6,2207.7L509.4,2253.9L535.7,2207.7L538.0,2249.3L540.3,2207.7L545.7,2253.9L550.7,2207.7L552.5,2235.4L554.8,2207.7L596.1,2253.9L637.3,2207.7L678.5,2253.9L720.3,2161.6L722.5,2240.0L725.3,2207.7L730.2,2253.9L735.7,2207.7L737.1,2249.3L738.4,2207.7L740.7,2249.3L742.5,2207.7L743.9,2240.0L745.7,2207.7L750.7,2253.9L756.1,2207.7L757.5,2235.4L759.3,2207.7L762.9,2253.9L766.5,2207.7L796.9,2253.9L827.3,2207.7L828.2,2230.8L829.6,2207.7L929.3,2253.9L1028.2,2207.7L1028.4,2207.7L1029.2,2115.4L1029.9,2163.9L1037.5,2253.9L1045.4,2161.6L1060.3,2253.9L1074.8,2207.7L1091.3,2253.9L1107.6,2207.7L1114.4,2253.9L1120.2,2207.7L1120.7,2115.4L1121.6,2115.4L1122.2,2166.2L1123.9,2227.6L1126.2,2161.6L1127.3,2207.7L1149.5,2253.9L1171.5,2207.7L1221.3,2253.9L1272.0,2207.7L1314.7,2253.9L1357.9,2207.7L1359.8,2253.9L1361.7,2207.7L1376.1,2253.9L1390.5,2207.7L1399.8,2253.9L1408.2,2207.7L1412.3,2253.9L1416.1,2207.7L1420.2,2253.9L1420.2,2253.9Z"/>
<path class="nl" d="M538.0,2249.3V2253.9M552.5,2235.4V2253.9M722.5,2240.0V2253.9M737.1,2249.3V2253.9M740.7,2249.3V2253.9M743.9,2240.0V2253.9M757.5,2235.4V2253.9M828.2,2230.8V2253.9M1123.9,2227.6V2253.9"/>
<path class="ya" d="M271,2115.4V2253.9H259.2"/><path class="yt" d="M259.2,2115.4H271.6"/>
<text class="tk" x="252.4" y="2118.7">87</text><text class="tk" x="252.4" y="2256.7">0</text>
<text class="lab" x="74" y="2190.2">GSM2481678</text>
<path class="d" d="M272.0,2407.8L272.0,2390.9L273.0,2380.1L274.0,2390.9L275.0,2380.1L276.0,2390.9L277.0,2394.0L278.0,2400.9L279.0,2390.9L280.0,2380.1L281.0,2390.9L282.0,2401.6L283.0,2390.9L284.0,2380.1L285.0,2390.9L286.0,2399.5L287.0,2405.0L288.0,2399.5L289.0,2394.0L290.0,2407.8L291.0,2400.9L292.0,2394.0L293.0,2400.9L294.0,2407.8L295.0,2400.9L296.0,2394.0L297.0,2400.9L298.0,2384.7L299.0,2361.7L300.0,2338.6L301.0,2361.7L302.0,2384.7L303.0,2381.5L304.0,2366.3L305.0,2381.5L306.0,2396.8L307.0,2394.0L308.0,2396.5L309.0,2399.1L310.0,2401.7L311.0,2396.8L312.0,2381.5L313.0,2366.3L314.0,2381.5L315.0,2394.0L316.0,2398.5L317.0,2403.0L318.0,2398.5L319.0,2394.0L320.0,2399.0L321.0,2404.0L322.0,2400.7L323.0,2397.3L324.0,2390.9L325.0,2380.1L326.0,2390.9L327.0,2400.9L328.0,2394.0L329.0,2398.4L330.0,2402.9L331.0,2399.5L332.0,2370.0L333.0,2340.4L334.0,2310.9L335.0,2340.4L336.0,2370.0L337.0,2399.5L338.0,2394.0L339.0,2399.4L340.0,2404.9L341.0,2396.8L342.0,2381.5L343.0,2366.3L344.0,2381.5L345.0,2396.8L346.0,2394.0L347.0,2398.9L348.0,2403.7L349.0,2398.9L350.0,2394.0L351.0,2400.3L352.0,2394.0L353.0,2381.5L354.0,2366.3L355.0,2381.5L356.0,2396.8L357.0,2394.0L358.0,2400.9L359.0,2407.8L360.0,2394.0L361.0,2400.9L362.0,2401.6L363.0,2390.9L364.0,2380.1L365.0,2390.9L366.0,2394.0L367.0,2399.1L368.0,2404.2L369.0,2396.8L370.0,2381.5L371.0,2366.3L372.0,2381.5L373.0,2396.8L374.0,2394.0L375.0,2403.6L376.0,2394.0L377.0,2400.9L378.0,2390.9L379.0,2380.1L380.0,2390.9L381.0,2381.5L382.0,2366.3L383.0,2381.5L384.0,2396.8L385.0,2403.9L386.0,2394.0L387.0,2390.9L388.0,2380.1L389.0,2390.9L390.0,2391.2L391.0,2371.8L392.0,2352.4L393.0,2371.8L394.0,2391.2L395.0,2394.0L396.0,2396.3L397.0,2398.6L398.0,2400.9L399.0,2403.2L400.0,2405.5L401.0,2407.8L402.0,2405.5L403.0,2403.2L404.0,2400.9L405.0,2398.6L406.0,2396.3L407.0,2394.0L408.0,2405.0L409.0,2399.5L410.0,2394.0L411.0,2396.8L412.0,2381.5L413.0,2366.3L414.0,2381.5L415.0,2394.0L416.0,2400.9L417.0,2407.8L418.0,2400.9L419.0,2394.0L420.0,2395.5L421.0,2397.0L422.0,2398.6L423.0,2400.1L424.0,2401.7L425.0,2403.2L426.0,2404.7L427.0,2406.3L428.0,2407.8L429.0,2405.1L430.0,2402.3L431.0,2399.5L432.0,2396.7L433.0,2394.0L434.0,2400.9L435.0,2401.6L436.0,2390.9L437.0,2380.1L438.0,2390.9L439.0,2400.9L440.0,2394.0L441.0,2400.9L442.0,2390.9L443.0,2380.1L444.0,2381.5L445.0,2366.3L446.0,2381.5L447.0,2394.0L448.0,2403.6L449.0,2398.8L450.0,2394.0L451.0,2400.9L452.0,2401.6L453.0,2390.9L454.0,2380.1L455.0,2390.9L456.0,2401.6L457.0,2400.9L458.0,2391.2L459.0,2371.8L460.0,2352.4L461.0,2371.8L462.0,2391.2L463.0,2398.9L464.0,2394.0L465.0,2398.6L466.0,2403.2L467.0,2407.8L468.0,2400.9L469.0,2394.0L470.0,2400.9L471.0,2391.2L472.0,2371.8L473.0,2352.4L474.0,2371.8L475.0,2391.2L476.0,2394.0L477.0,2400.9L478.0,2407.8L479.0,2400.9L480.0,2394.0L481.0,2400.9L482.0,2407.8L483.0,2400.9L484.0,2394.0L485.0,2400.9L486.0,2390.9L487.0,2380.1L488.0,2390.9L489.0,2394.0L490.0,2400.9L491.0,2407.8L492.0,2400.9L493.0,2394.0L494.0,2401.6L495.0,2390.9L496.0,2380.1L497.0,2390.9L498.0,2399.0L499.0,2394.0L500.0,2391.2L501.0,2371.8L502.0,2352.4L503.0,2371.8L504.0,2391.2L505.0,2394.0L506.0,2400.9L507.0,2407.8L508.0,2394.0L509.0,2397.1L510.0,2400.1L511.0,2403.2L512.0,2398.6L513.0,2390.9L514.0,2380.1L515.0,2390.9L516.0,2400.9L517.0,2394.0L518.0,2390.9L519.0,2380.1L520.0,2390.9L521.0,2394.0L522.0,2402.0L523.0,2394.0L524.0,2390.9L525.0,2380.1L526.0,2390.9L527.0,2394.0L528.0,2400.9L529.0,2407.8L530.0,2403.2L531.0,2398.6L532.0,2394.0L533.0,2407.8L534.0,2400.9L535.0,2394.0L536.0,2391.2L537.0,2371.8L538.0,2352.4L539.0,2371.8L540.0,2391.2L541.0,2400.9L542.0,2394.0L543.0,2407.8L544.0,2400.9L545.0,2394.0L546.0,2402.8L547.0,2394.0L548.0,2400.9L549.0,2407.8L550.0,2400.9L551.0,2394.0L552.0,2397.4L553.0,2400.8L554.0,2397.4L555.0,2394.0L556.0,2398.3L557.0,2401.6L558.0,2390.9L559.0,2380.1L560.0,2390.9L561.0,2401.6L562.0,2390.9L563.0,2380.1L564.0,2390.9L565.0,2400.9L566.0,2390.9L567.0,2380.1L568.0,2390.9L569.0,2396.8L570.0,2381.5L571.0,2366.3L572.0,2381.5L573.0,2394.0L574.0,2400.9L575.0,2407.8L576.0,2403.2L577.0,2398.6L578.0,2394.0L579.0,2400.1L580.0,2394.0L581.0,2400.9L582.0,2407.8L583.0,2403.2L584.0,2398.6L585.0,2394.0L586.0,2381.5L587.0,2366.3L588.0,2381.5L589.0,2381.5L590.0,2366.3L591.0,2381.5L592.0,2394.0L593.0,2402.2L594.0,2394.0L595.0,2396.8L596.0,2381.5L597.0,2366.3L598.0,2381.5L599.0,2396.8L600.0,2403.2L601.0,2407.8L602.0,2400.9L603.0,2394.0L604.0,2396.1L605.0,2398.2L606.0,2400.4L607.0,2390.9L608.0,2380.1L609.0,2390.9L610.0,2401.0L611.0,2401.6L612.0,2390.9L613.0,2380.1L614.0,2390.9L615.0,2394.0L616.0,2400.9L617.0,2407.8L618.0,2396.8L619.0,2381.5L620.0,2366.3L621.0,2381.5L622.0,2396.8L623.0,2394.0L624.0,2400.2L625.0,2394.0L626.0,2407.8L627.0,2400.9L628.0,2394.0L629.0,2400.9L630.0,2407.8L631.0,2400.9L632.0,2394.0L633.0,2396.8L634.0,2381.5L635.0,2366.3L636.0,2381.5L637.0,2396.8L638.0,2407.8L639.0,2400.9L640.0,2394.0L641.0,2390.9L642.0,2380.1L643.0,2390.9L644.0,2400.9L645.0,2394.0L646.0,2402.4L647.0,2394.0L648.0,2400.9L649.0,2407.8L650.0,2400.9L651.0,2394.0L652.0,2401.9L653.0,2394.0L654.0,2400.9L655.0,2401.6L656.0,2390.9L657.0,2380.1L658.0,2390.9L659.0,2380.1L660.0,2390.9L661.0,2371.8L662.0,2352.4L663.0,2371.8L664.0,2391.2L665.0,2381.5L666.0,2366.3L667.0,2381.5L668.0,2396.8L669.0,2396.8L670.0,2381.5L671.0,2366.3L672.0,2381.5L673.0,2396.8L674.0,2400.9L675.0,2394.0L676.0,2400.9L677.0,2407.8L678.0,2394.0L679.0,2400.9L680.0,2407.8L681.0,2400.9L682.0,2394.0L683.0,2407.8L684.0,2400.9L685.0,2391.2L686.0,2371.8L687.0,2352.4L688.0,2371.8L689.0,2391.2L690.0,2400.9L691.0,2407.8L692.0,2400.9L693.0,2394.0L694.0,2397.0L695.0,2399.9L696.0,2402.9L697.0,2398.4L698.0,2394.0L699.0,2407.8L700.0,2400.9L701.0,2394.0L702.0,2400.9L703.0,2407.8L704.0,2396.8L705.0,2381.5L706.0,2366.3L707.0,2381.5L708.0,2391.2L709.0,2371.8L710.0,2352.4L711.0,2371.8L712.0,2390.9L713.0,2380.1L714.0,2390.9L715.0,2394.0L716.0,2400.9L717.0,2407.8L718.0,2400.9L719.0,2394.0L720.0,2396.7L721.0,2399.5L722.0,2402.3L723.0,2405.1L724.0,2407.8L725.0,2405.1L726.0,2402.3L727.0,2399.5L728.0,2396.7L729.0,2394.0L730.0,2400.4L731.0,2394.0L732.0,2396.8L733.0,2381.5L734.0,2366.3L735.0,2381.5L736.0,2394.0L737.0,2400.9L738.0,2396.8L739.0,2381.5L740.0,2366.3L741.0,2381.5L742.0,2396.8L743.0,2390.9L744.0,2380.1L745.0,2390.9L746.0,2401.6L747.0,2400.9L748.0,2394.0L749.0,2398.1L750.0,2402.1L751.0,2394.0L752.0,2400.9L753.0,2390.9L754.0,2380.1L755.0,2390.9L756.0,2394.0L757.0,2396.8L758.0,2381.5L759.0,2366.3L760.0,2381.5L761.0,2366.3L762.0,2381.5L763.0,2394.0L764.0,2400.9L765.0,2407.8L766.0,2400.9L767.0,2394.0L768.0,2400.9L769.0,2407.8L770.0,2400.9L771.0,2394.0L772.0,2400.9L773.0,2401.6L774.0,2390.9L775.0,2380.1L776.0,2390.9L777.0,2394.0L778.0,2401.6L779.0,2396.8L780.0,2381.5L781.0,2366.3L782.0,2381.5L783.0,2396.8L784.0,2394.0L785.0,2390.9L786.0,2380.1L787.0,2390.9L788.0,2400.9L789.0,2407.8L790.0,2394.0L791.0,2407.8L792.0,2400.9L793.0,2394.0L794.0,2400.9L795.0,2407.8L796.0,2400.9L797.0,2394.0L798.0,2381.5L799.0,2366.3L800.0,2381.5L801.0,2396.8L802.0,2407.8L803.0,2403.2L804.0,2398.6L805.0,2394.0L806.0,2397.9L807.0,2401.9L808.0,2397.9L809.0,2394.0L810.0,2400.9L811.0,2390.9L812.0,2380.1L813.0,2384.7L814.0,2361.7L815.0,2338.6L816.0,2361.7L817.0,2384.7L818.0,2396.8L819.0,2381.5L820.0,2366.3L821.0,2381.5L822.0,2394.0L823.0,2401.6L824.0,2390.9L825.0,2380.1L826.0,2390.9L827.0,2401.6L828.0,2398.5L829.0,2394.0L830.0,2403.6L831.0,2394.0L832.0,2400.9L833.0,2407.8L834.0,2400.9L835.0,2394.0L836.0,2407.8L837.0,2400.9L838.0,2394.0L839.0,2381.5L840.0,2366.3L841.0,2366.3L842.0,2381.5L843.0,2396.8L844.0,2394.0L845.0,2390.9L846.0,2380.1L847.0,2390.9L848.0,2394.0L849.0,2396.7L850.0,2399.5L851.0,2402.3L852.0,2405.1L853.0,2407.8L854.0,2403.2L855.0,2398.6L856.0,2394.0L857.0,2400.9L858.0,2407.8L859.0,2394.0L860.0,2400.9L861.0,2407.8L862.0,2400.9L863.0,2394.0L864.0,2400.9L865.0,2407.8L866.0,2400.9L867.0,2394.0L868.0,2400.9L869.0,2407.8L870.0,2394.0L871.0,2407.8L872.0,2400.9L873.0,2394.0L874.0,2401.3L875.0,2394.0L876.0,2407.8L877.0,2400.9L878.0,2394.0L879.0,2396.8L880.0,2381.5L881.0,2366.3L882.0,2381.5L883.0,2371.8L884.0,2352.4L885.0,2371.8L886.0,2377.6L887.0,2351.2L888.0,2324.7L889.0,2306.8L890.0,2269.3L891.0,2306.8L892.0,2344.2L893.0,2381.6L894.0,2400.9L895.0,2377.6L896.0,2351.2L897.0,2324.7L898.0,2351.2L899.0,2370.0L900.0,2340.4L901.0,2310.9L902.0,2340.4L903.0,2370.0L904.0,2399.5L905.0,2394.0L906.0,2396.8L907.0,2391.2L908.0,2371.8L909.0,2352.4L910.0,2371.8L911.0,2390.9L912.0,2380.1L913.0,2390.9L914.0,2394.0L915.0,2400.9L916.0,2401.6L917.0,2390.9L918.0,2380.1L919.0,2390.9L920.0,2384.7L921.0,2361.7L922.0,2338.6L923.0,2361.7L924.0,2384.7L925.0,2400.9L926.0,2390.9L927.0,2380.1L928.0,2390.9L929.0,2401.6L930.0,2400.9L931.0,2394.0L932.0,2400.9L933.0,2407.8L934.0,2400.9L935.0,2390.9L936.0,2380.1L937.0,2390.9L938.0,2399.2L939.0,2394.0L940.0,2398.3L941.0,2401.6L942.0,2390.9L943.0,2380.1L944.0,2390.9L945.0,2400.9L946.0,2394.0L947.0,2400.9L948.0,2407.8L949.0,2394.0L950.0,2407.8L951.0,2400.9L952.0,2394.0L953.0,2400.9L954.0,2407.8L955.0,2400.9L956.0,2394.0L957.0,2400.9L958.0,2407.8L959.0,2400.9L960.0,2394.0L961.0,2400.9L962.0,2407.8L963.0,2401.6L964.0,2390.9L965.0,2380.1L966.0,2390.9L967.0,2394.0L968.0,2400.9L969.0,2407.8L970.0,2400.9L971.0,2394.0L972.0,2391.2L973.0,2371.8L974.0,2352.4L975.0,2371.8L976.0,2391.2L977.0,2407.8L978.0,2400.9L979.0,2394.0L980.0,2400.9L981.0,2407.8L982.0,2400.9L983.0,2394.0L984.0,2400.9L985.0,2407.8L986.0,2400.9L987.0,2394.0L988.0,2405.0L989.0,2394.0L990.0,2397.9L991.0,2401.9L992.0,2399.2L993.0,2396.6L994.0,2390.9L995.0,2380.1L996.0,2390.9L997.0,2381.5L998.0,2366.3L999.0,2381.5L1000.0,2396.8L1001.0,2400.9L1002.0,2394.0L1003.0,2400.9L1004.0,2407.8L1005.0,2400.9L1006.0,2394.0L1007.0,2400.9L1008.0,2401.6L1009.0,2390.9L1010.0,2380.1L1011.0,2390.9L1012.0,2401.6L1013.0,2407.8L1014.0,2400.9L1015.0,2394.0L1016.0,2390.9L1017.0,2380.1L1018.0,2390.9L1019.0,2400.9L1020.0,2407.8L1021.0,2394.0L1022.0,2390.9L1023.0,2380.1L1024.0,2390.9L1025.0,2398.6L1026.0,2394.0L1027.0,2400.9L1028.0,2396.8L1029.0,2381.5L1030.0,2366.3L1031.0,2366.3L1032.0,2381.5L1033.0,2380.1L1034.0,2390.9L1035.0,2400.9L1036.0,2407.8L1037.0,2403.2L1038.0,2398.6L1039.0,2390.9L1040.0,2380.1L1041.0,2390.9L1042.0,2394.0L1043.0,2396.3L1044.0,2398.6L1045.0,2400.9L1046.0,2403.2L1047.0,2405.5L1048.0,2407.8L1049.0,2407.0L1050.0,2406.1L1051.0,2405.2L1052.0,2404.4L1053.0,2403.5L1054.0,2402.6L1055.0,2401.8L1056.0,2400.9L1057.0,2400.0L1058.0,2399.2L1059.0,2398.3L1060.0,2397.4L1061.0,2396.6L1062.0,2395.7L1063.0,2394.8L1064.0,2394.0L1065.0,2400.9L1066.0,2407.8L1067.0,2400.9L1068.0,2394.0L1069.0,2390.9L1070.0,2380.1L1071.0,2390.9L1072.0,2396.8L1073.0,2381.5L1074.0,2366.3L1075.0,2381.5L1076.0,2371.8L1077.0,2352.4L1078.0,2371.8L1079.0,2384.7L1080.0,2361.7L1081.0,2338.6L1082.0,2361.7L1083.0,2338.6L1084.0,2361.7L1085.0,2384.7L1086.0,2394.0L1087.0,2398.6L1088.0,2390.9L1089.0,2380.1L1090.0,2390.9L1091.0,2394.0L1092.0,2400.9L1093.0,2407.8L1094.0,2394.0L1095.0,2407.8L1096.0,2396.8L1097.0,2381.5L1098.0,2366.3L1099.0,2381.5L1100.0,2394.0L1101.0,2402.5L1102.0,2394.0L1103.0,2398.3L1104.0,2402.6L1105.0,2394.0L1106.0,2400.9L1107.0,2396.8L1108.0,2381.5L1109.0,2366.3L1110.0,2381.5L1111.0,2391.2L1112.0,2371.8L1113.0,2352.4L1114.0,2361.8L1115.0,2329.4L1116.0,2297.0L1117.0,2329.4L1118.0,2361.8L1119.0,2394.0L1120.0,2396.8L1121.0,2381.5L1122.0,2366.3L1123.0,2381.5L1124.0,2390.9L1125.0,2380.1L1126.0,2390.9L1127.0,2401.6L1128.0,2407.8L1129.0,2400.9L1130.0,2394.0L1131.0,2396.8L1132.0,2381.5L1133.0,2366.3L1134.0,2381.5L1135.0,2394.0L1136.0,2400.9L1137.0,2407.8L1138.0,2394.0L1139.0,2400.7L1140.0,2394.0L1141.0,2398.6L1142.0,2403.2L1143.0,2407.8L1144.0,2400.9L1145.0,2394.0L1146.0,2390.9L1147.0,2380.1L1148.0,2390.9L1149.0,2390.9L1150.0,2380.1L1151.0,2390.9L1152.0,2401.6L1153.0,2407.8L1154.0,2400.9L1155.0,2394.0L1156.0,2400.9L1157.0,2407.8L1158.0,2400.9L1159.0,2394.0L1160.0,2398.6L1161.0,2391.2L1162.0,2371.8L1163.0,2352.4L1164.0,2371.8L1165.0,2391.2L1166.0,2407.8L1167.0,2400.9L1168.0,2390.9L1169.0,2380.1L1170.0,2390.9L1171.0,2380.1L1172.0,2390.9L1173.0,2401.6L1174.0,2394.0L1175.0,2398.7L1176.0,2403.5L1177.0,2398.7L1178.0,2394.0L1179.0,2396.7L1180.0,2399.5L1181.0,2396.7L1182.0,2394.0L1183.0,2400.9L1184.0,2396.8L1185.0,2381.5L1186.0,2366.3L1187.0,2381.5L1188.0,2390.9L1189.0,2380.1L1190.0,2390.9L1191.0,2394.0L1192.0,2397.0L1193.0,2390.9L1194.0,2380.1L1195.0,2390.9L1196.0,2400.9L1197.0,2391.2L1198.0,2371.8L1199.0,2352.4L1200.0,2371.8L1201.0,2391.2L1202.0,2400.3L1203.0,2397.1L1204.0,2394.0L1205.0,2400.9L1206.0,2390.9L1207.0,2380.1L1208.0,2390.9L1209.0,2400.9L1210.0,2407.8L1211.0,2400.9L1212.0,2394.0L1213.0,2381.5L1214.0,2366.3L1215.0,2381.5L1216.0,2396.8L1217.0,2391.2L1218.0,2371.8L1219.0,2352.4L1220.0,2371.8L1221.0,2391.2L1222.0,2407.8L1223.0,2400.9L1224.0,2394.0L1225.0,2398.6L1226.0,2403.2L1227.0,2407.8L1228.0,2400.9L1229.0,2394.0L1230.0,2400.9L1231.0,2407.8L1232.0,2400.9L1233.0,2391.2L1234.0,2371.8L1235.0,2352.4L1236.0,2371.8L1237.0,2391.2L1238.0,2400.9L1239.0,2390.9L1240.0,2380.1L1241.0,2390.9L1242.0,2401.6L1243.0,2399.3L1244.0,2394.0L1245.0,2400.9L1246.0,2407.8L1247.0,2400.9L1248.0,2394.0L1249.0,2400.9L1250.0,2407.8L1251.0,2394.0L1252.0,2400.9L1253.0,2407.8L1254.0,2400.9L1255.0,2394.0L1256.0,2400.9L1257.0,2401.6L1258.0,2390.9L1259.0,2380.1L1260.0,2390.9L1261.0,2394.0L1262.0,2400.9L1263.0,2407.8L1264.0,2394.0L1265.0,2398.6L1266.0,2390.9L1267.0,2380.1L1268.0,2390.9L1269.0,2394.0L1270.0,2399.3L1271.0,2404.7L1272.0,2399.3L1273.0,2390.9L1274.0,2380.1L1275.0,2390.9L1276.0,2400.9L1277.0,2394.0L1278.0,2399.3L1279.0,2390.9L1280.0,2380.1L1281.0,2390.9L1282.0,2398.0L1283.0,2394.0L1284.0,2407.8L1285.0,2400.9L1286.0,2394.0L1287.0,2397.6L1288.0,2401.2L1289.0,2394.0L1290.0,2397.0L1291.0,2400.1L1292.0,2397.0L1293.0,2394.0L1294.0,2396.7L1295.0,2399.5L1296.0,2402.3L1297.0,2405.1L1298.0,2407.8L1299.0,2405.1L1300.0,2402.3L1301.0,2399.5L1302.0,2396.7L1303.0,2394.0L1304.0,2398.7L1305.0,2403.5L1306.0,2398.7L1307.0,2394.0L1308.0,2400.9L1309.0,2407.8L1310.0,2400.9L1311.0,2394.0L1312.0,2402.8L1313.0,2394.0L1314.0,2407.8L1315.0,2400.9L1316.0,2391.2L1317.0,2371.8L1318.0,2352.4L1319.0,2371.8L1320.0,2391.2L1321.0,2390.9L1322.0,2380.1L1323.0,2390.9L1324.0,2390.9L1325.0,2380.1L1326.0,2390.9L1327.0,2390.9L1328.0,2380.1L1329.0,2390.9L1330.0,2401.6L1331.0,2400.9L1332.0,2394.0L1333.0,2396.8L1334.0,2381.5L1335.0,2366.3L1336.0,2381.5L1337.0,2394.0L1338.0,2400.9L1339.0,2407.8L1340.0,2394.0L1341.0,2390.9L1342.0,2380.1L1343.0,2390.9L1344.0,2401.6L1345.0,2400.9L1346.0,2394.0L1347.0,2400.5L1348.0,2394.0L1349.0,2398.6L1350.0,2403.2L1351.0,2407.8L1352.0,2391.2L1353.0,2371.8L1354.0,2352.4L1355.0,2371.8L1356.0,2351.2L1357.0,2324.7L1358.0,2351.2L1359.0,2377.6L1360.0,2397.1L1361.0,2400.2L1362.0,2403.3L1363.0,2398.6L1364.0,2394.0L1365.0,2398.6L1366.0,2390.9L1367.0,2380.1L1368.0,2390.9L1369.0,2394.0L1370.0,2407.8L1371.0,2400.9L1372.0,2394.0L1373.0,2400.9L1374.0,2401.6L1375.0,2390.9L1376.0,2380.1L1377.0,2390.9L1378.0,2380.1L1379.0,2390.9L1380.0,2400.9L1381.0,2407.8L1382.0,2394.0L1383.0,2390.9L1384.0,2380.1L1385.0,2361.7L1386.0,2338.6L1387.0,2361.7L1388.0,2384.7L1389.0,2394.0L1390.0,2390.9L1391.0,2380.1L1392.0,2390.9L1393.0,2390.9L1394.0,2380.1L1395.0,2390.9L1396.0,2396.8L1397.0,2381.5L1398.0,2366.3L1399.0,2381.5L1400.0,2396.8L1401.0,2400.9L1402.0,2390.9L1403.0,2380.1L1404.0,2390.9L1405.0,2390.9L1406.0,2380.1L1407.0,2390.9L1408.0,2401.6L1409.0,2394.0L1410.0,2396.8L1411.0,2381.5L1412.0,2366.3L1413.0,2381.5L1414.0,2394.0L1415.0,2400.9L1416.0,2407.8L1417.0,2394.0L1418.0,2400.9L1419.0,2377.6L1420.0,2351.2L1421.0,2324.7L1422.0,2351.2L1423.0,2324.7L1423.0,2407.8Z"/>
<path class="ya" d="M271,2269.3V2407.8H259.2"/><path class="yt" d="M259.2,2269.3H271.6"/>
<text class="tk" x="252.4" y="2272.6">7</text><text class="tk" x="252.4" y="2410.6">0</text>
<text class="lab" x="74" y="2344.2">GSM2481677</text>
<path class="d" d="M343.6,2561.8L343.6,2561.8L416.5,2423.3L697.7,2561.8L979.0,2492.5L1201.8,2561.8L1201.8,2561.8Z"/>
<path class="ya" d="M271,2423.3V2561.8H259.2"/><path class="yt" d="M259.2,2423.3H271.6"/>
<text class="tk" x="252.4" y="2426.6">348</text><text class="tk" x="252.4" y="2564.6">0</text>
<text class="lab" x="74" y="2498.1">GSM2481676</text>
<path class="d" d="M272.0,2715.7L272.0,2701.8L273.0,2688.0L274.0,2697.2L275.0,2706.4L276.0,2715.7L277.0,2706.4L278.0,2697.2L279.0,2688.0L280.0,2697.2L281.0,2706.4L282.0,2715.7L283.0,2701.8L284.0,2688.0L285.0,2682.8L286.0,2660.3L287.0,2682.8L288.0,2705.3L289.0,2682.8L290.0,2660.3L291.0,2682.8L292.0,2693.5L293.0,2688.0L294.0,2697.2L295.0,2706.4L296.0,2715.7L297.0,2706.4L298.0,2697.2L299.0,2688.0L300.0,2694.9L301.0,2701.8L302.0,2708.8L303.0,2715.7L304.0,2706.4L305.0,2697.2L306.0,2688.0L307.0,2694.9L308.0,2701.8L309.0,2708.8L310.0,2715.7L311.0,2708.8L312.0,2701.8L313.0,2694.9L314.0,2688.0L315.0,2697.2L316.0,2706.4L317.0,2715.7L318.0,2708.8L319.0,2701.8L320.0,2694.9L321.0,2688.0L322.0,2694.9L323.0,2701.8L324.0,2708.8L325.0,2715.7L326.0,2706.4L327.0,2697.2L328.0,2688.0L329.0,2691.8L330.0,2695.6L331.0,2682.8L332.0,2660.3L333.0,2682.8L334.0,2688.0L335.0,2696.2L336.0,2704.3L337.0,2696.2L338.0,2688.0L339.0,2701.8L340.0,2715.7L341.0,2706.4L342.0,2697.2L343.0,2688.0L344.0,2690.8L345.0,2693.5L346.0,2696.3L347.0,2699.1L348.0,2701.8L349.0,2704.6L350.0,2707.4L351.0,2710.1L352.0,2712.9L353.0,2715.7L354.0,2713.7L355.0,2711.7L356.0,2709.7L357.0,2707.8L358.0,2705.8L359.0,2703.8L360.0,2693.2L361.0,2662.9L362.0,2632.6L363.0,2662.9L364.0,2693.2L365.0,2662.9L366.0,2632.6L367.0,2662.9L368.0,2693.2L369.0,2706.4L370.0,2715.7L371.0,2706.4L372.0,2697.2L373.0,2688.0L374.0,2693.9L375.0,2699.7L376.0,2693.9L377.0,2688.0L378.0,2701.8L379.0,2715.7L380.0,2688.0L381.0,2691.1L382.0,2694.1L383.0,2697.2L384.0,2700.3L385.0,2703.4L386.0,2706.4L387.0,2709.5L388.0,2712.6L389.0,2715.7L390.0,2713.4L391.0,2711.1L392.0,2708.8L393.0,2706.4L394.0,2704.1L395.0,2701.8L396.0,2699.5L397.0,2697.2L398.0,2694.9L399.0,2692.6L400.0,2690.3L401.0,2688.0L402.0,2715.7L403.0,2701.8L404.0,2688.0L405.0,2694.9L406.0,2701.8L407.0,2682.8L408.0,2660.3L409.0,2682.8L410.0,2688.0L411.0,2715.7L412.0,2701.8L413.0,2688.0L414.0,2697.2L415.0,2706.4L416.0,2715.7L417.0,2706.4L418.0,2697.2L419.0,2688.0L420.0,2697.2L421.0,2706.4L422.0,2715.7L423.0,2701.8L424.0,2688.0L425.0,2692.3L426.0,2696.7L427.0,2701.0L428.0,2697.7L429.0,2694.5L430.0,2691.2L431.0,2688.0L432.0,2691.9L433.0,2695.9L434.0,2699.9L435.0,2703.8L436.0,2707.8L437.0,2711.7L438.0,2715.7L439.0,2712.6L440.0,2709.5L441.0,2706.4L442.0,2703.4L443.0,2700.3L444.0,2697.2L445.0,2694.1L446.0,2691.1L447.0,2688.0L448.0,2694.9L449.0,2701.8L450.0,2697.2L451.0,2688.0L452.0,2678.7L453.0,2669.5L454.0,2660.3L455.0,2669.5L456.0,2678.7L457.0,2688.0L458.0,2695.5L459.0,2698.1L460.0,2700.6L461.0,2703.1L462.0,2705.6L463.0,2708.1L464.0,2710.6L465.0,2713.2L466.0,2715.7L467.0,2711.7L468.0,2707.8L469.0,2703.8L470.0,2699.9L471.0,2695.9L472.0,2691.9L473.0,2688.0L474.0,2701.8L475.0,2715.7L476.0,2706.4L477.0,2697.2L478.0,2688.0L479.0,2693.5L480.0,2699.1L481.0,2704.6L482.0,2710.1L483.0,2715.7L484.0,2706.4L485.0,2697.2L486.0,2688.0L487.0,2697.2L488.0,2706.4L489.0,2715.7L490.0,2708.8L491.0,2701.8L492.0,2694.9L493.0,2688.0L494.0,2697.2L495.0,2706.4L496.0,2715.7L497.0,2701.8L498.0,2688.0L499.0,2682.8L500.0,2660.3L501.0,2682.8L502.0,2662.9L503.0,2632.6L504.0,2662.9L505.0,2660.3L506.0,2682.8L507.0,2705.3L508.0,2701.8L509.0,2694.9L510.0,2688.0L511.0,2691.1L512.0,2694.1L513.0,2697.2L514.0,2700.3L515.0,2703.4L516.0,2706.4L517.0,2709.5L518.0,2712.6L519.0,2715.7L520.0,2710.1L521.0,2704.6L522.0,2699.1L523.0,2693.5L524.0,2688.0L525.0,2697.2L526.0,2706.4L527.0,2715.7L528.0,2708.8L529.0,2701.8L530.0,2694.9L531.0,2688.0L532.0,2697.2L533.0,2706.4L534.0,2715.7L535.0,2701.8L536.0,2688.0L537.0,2689.7L538.0,2691.3L539.0,2693.0L540.0,2694.7L541.0,2696.3L542.0,2698.0L543.0,2699.7L544.0,2701.4L545.0,2703.0L546.0,2701.8L547.0,2700.5L548.0,2699.3L549.0,2698.0L550.0,2696.8L551.0,2695.5L552.0,2694.3L553.0,2693.0L554.0,2691.7L555.0,2690.5L556.0,2689.2L557.0,2682.8L558.0,2660.3L559.0,2682.8L560.0,2688.0L561.0,2691.4L562.0,2694.9L563.0,2698.4L564.0,2701.8L565.0,2705.3L566.0,2708.8L567.0,2712.2L568.0,2715.7L569.0,2713.2L570.0,2710.6L571.0,2708.1L572.0,2705.6L573.0,2703.1L574.0,2700.6L575.0,2698.1L576.0,2695.5L577.0,2693.0L578.0,2690.5L579.0,2688.0L580.0,2697.2L581.0,2706.4L582.0,2715.7L583.0,2706.4L584.0,2697.2L585.0,2688.0L586.0,2701.8L587.0,2705.3L588.0,2682.8L589.0,2660.3L590.0,2682.8L591.0,2705.3L592.0,2697.2L593.0,2688.0L594.0,2701.8L595.0,2715.7L596.0,2706.4L597.0,2697.2L598.0,2688.0L599.0,2701.8L600.0,2715.7L601.0,2688.0L602.0,2697.2L603.0,2706.4L604.0,2715.7L605.0,2706.4L606.0,2697.2L607.0,2688.0L608.0,2682.8L609.0,2660.3L610.0,2682.8L611.0,2705.3L612.0,2706.4L613.0,2697.2L614.0,2688.0L615.0,2697.2L616.0,2706.4L617.0,2715.7L618.0,2706.4L619.0,2697.2L620.0,2688.0L621.0,2697.2L622.0,2706.4L623.0,2715.7L624.0,2706.4L625.0,2697.2L626.0,2688.0L627.0,2705.3L628.0,2682.8L629.0,2660.3L630.0,2682.8L631.0,2697.6L632.0,2702.4L633.0,2699.5L634.0,2696.7L635.0,2693.8L636.0,2690.9L637.0,2688.0L638.0,2691.4L639.0,2694.9L640.0,2698.4L641.0,2701.8L642.0,2705.3L643.0,2708.8L644.0,2712.2L645.0,2715.7L646.0,2713.9L647.0,2712.2L648.0,2710.5L649.0,2708.8L650.0,2707.0L651.0,2705.3L652.0,2703.6L653.0,2701.8L654.0,2700.1L655.0,2698.4L656.0,2696.6L657.0,2694.9L658.0,2682.8L659.0,2660.3L660.0,2682.8L661.0,2688.0L662.0,2694.9L663.0,2701.8L664.0,2708.8L665.0,2715.7L666.0,2706.4L667.0,2697.2L668.0,2688.0L669.0,2690.5L670.0,2693.0L671.0,2695.5L672.0,2682.8L673.0,2660.3L674.0,2682.8L675.0,2705.3L676.0,2708.1L677.0,2710.6L678.0,2713.2L679.0,2715.7L680.0,2712.9L681.0,2710.1L682.0,2707.4L683.0,2704.6L684.0,2701.8L685.0,2699.1L686.0,2696.3L687.0,2693.5L688.0,2682.8L689.0,2660.3L690.0,2682.8L691.0,2705.3L692.0,2715.7L693.0,2701.8L694.0,2688.0L695.0,2691.1L696.0,2694.1L697.0,2697.2L698.0,2700.3L699.0,2703.4L700.0,2706.4L701.0,2709.5L702.0,2712.6L703.0,2715.7L704.0,2711.7L705.0,2707.8L706.0,2703.8L707.0,2699.9L708.0,2695.9L709.0,2691.9L710.0,2688.0L711.0,2701.8L712.0,2705.3L713.0,2682.8L714.0,2660.3L715.0,2682.8L716.0,2701.8L717.0,2688.0L718.0,2693.5L719.0,2699.1L720.0,2704.6L721.0,2710.1L722.0,2715.7L723.0,2706.4L724.0,2697.2L725.0,2688.0L726.0,2691.4L727.0,2694.9L728.0,2698.4L729.0,2701.8L730.0,2705.3L731.0,2708.8L732.0,2712.2L733.0,2715.7L734.0,2713.5L735.0,2711.4L736.0,2709.3L737.0,2707.2L738.0,2705.0L739.0,2702.9L740.0,2700.8L741.0,2698.6L742.0,2696.5L743.0,2694.4L744.0,2692.2L745.0,2690.1L746.0,2688.0L747.0,2693.5L748.0,2699.1L749.0,2704.6L750.0,2682.8L751.0,2660.3L752.0,2682.8L753.0,2705.3L754.0,2705.3L755.0,2701.8L756.0,2698.4L757.0,2694.9L758.0,2691.4L759.0,2688.0L760.0,2694.9L761.0,2701.8L762.0,2708.8L763.0,2715.7L764.0,2706.4L765.0,2697.2L766.0,2688.0L767.0,2690.8L768.0,2693.5L769.0,2696.3L770.0,2699.1L771.0,2701.8L772.0,2704.6L773.0,2707.4L774.0,2710.1L775.0,2712.9L776.0,2715.7L777.0,2713.4L778.0,2711.1L779.0,2708.8L780.0,2706.4L781.0,2704.1L782.0,2701.8L783.0,2699.5L784.0,2697.2L785.0,2694.9L786.0,2692.6L787.0,2690.3L788.0,2688.0L789.0,2693.6L790.0,2699.3L791.0,2705.0L792.0,2699.3L793.0,2682.8L794.0,2660.3L795.0,2682.8L796.0,2701.8L797.0,2708.8L798.0,2715.7L799.0,2705.3L800.0,2682.8L801.0,2660.3L802.0,2682.8L803.0,2691.4L804.0,2694.9L805.0,2698.4L806.0,2701.8L807.0,2705.3L808.0,2708.8L809.0,2712.2L810.0,2715.7L811.0,2711.1L812.0,2706.4L813.0,2701.8L814.0,2697.2L815.0,2692.6L816.0,2688.0L817.0,2697.2L818.0,2706.4L819.0,2715.7L820.0,2705.3L821.0,2682.8L822.0,2660.3L823.0,2662.9L824.0,2632.6L825.0,2662.9L826.0,2660.3L827.0,2682.8L828.0,2688.0L829.0,2701.8L830.0,2715.7L831.0,2701.8L832.0,2688.0L833.0,2691.4L834.0,2694.9L835.0,2698.4L836.0,2701.8L837.0,2705.3L838.0,2708.8L839.0,2712.2L840.0,2715.7L841.0,2712.6L842.0,2709.5L843.0,2706.4L844.0,2703.4L845.0,2700.3L846.0,2697.2L847.0,2694.1L848.0,2691.1L849.0,2682.8L850.0,2660.3L851.0,2682.8L852.0,2705.3L853.0,2697.2L854.0,2688.0L855.0,2701.8L856.0,2715.7L857.0,2701.8L858.0,2688.0L859.0,2697.2L860.0,2706.4L861.0,2715.7L862.0,2708.8L863.0,2701.8L864.0,2694.9L865.0,2682.8L866.0,2660.3L867.0,2682.8L868.0,2705.3L869.0,2715.7L870.0,2710.1L871.0,2704.6L872.0,2699.1L873.0,2693.5L874.0,2688.0L875.0,2701.8L876.0,2715.7L877.0,2701.8L878.0,2688.0L879.0,2715.7L880.0,2701.8L881.0,2688.0L882.0,2694.9L883.0,2701.8L884.0,2682.8L885.0,2660.3L886.0,2682.8L887.0,2697.2L888.0,2688.0L889.0,2678.3L890.0,2641.6L891.0,2604.9L892.0,2641.6L893.0,2678.3L894.0,2694.9L895.0,2688.0L896.0,2697.2L897.0,2706.4L898.0,2703.1L899.0,2661.1L900.0,2619.1L901.0,2577.2L902.0,2619.1L903.0,2661.1L904.0,2660.3L905.0,2682.8L906.0,2696.9L907.0,2692.4L908.0,2688.0L909.0,2701.8L910.0,2715.7L911.0,2701.8L912.0,2688.0L913.0,2697.2L914.0,2706.4L915.0,2715.7L916.0,2708.8L917.0,2701.8L918.0,2694.9L919.0,2688.0L920.0,2682.8L921.0,2660.3L922.0,2682.8L923.0,2705.3L924.0,2697.2L925.0,2688.0L926.0,2662.9L927.0,2632.6L928.0,2662.9L929.0,2693.2L930.0,2699.5L931.0,2701.8L932.0,2704.1L933.0,2706.4L934.0,2708.8L935.0,2711.1L936.0,2713.4L937.0,2715.7L938.0,2712.6L939.0,2709.5L940.0,2706.4L941.0,2703.4L942.0,2693.2L943.0,2662.9L944.0,2632.6L945.0,2662.9L946.0,2688.0L947.0,2715.7L948.0,2701.8L949.0,2688.0L950.0,2697.2L951.0,2706.4L952.0,2715.7L953.0,2706.4L954.0,2697.2L955.0,2688.0L956.0,2697.2L957.0,2706.4L958.0,2715.7L959.0,2708.8L960.0,2701.8L961.0,2694.9L962.0,2688.0L963.0,2694.9L964.0,2701.8L965.0,2708.8L966.0,2715.7L967.0,2710.1L968.0,2704.6L969.0,2699.1L970.0,2693.5L971.0,2688.0L972.0,2688.9L973.0,2689.8L974.0,2690.8L975.0,2691.7L976.0,2692.6L977.0,2693.5L978.0,2694.4L979.0,2695.4L980.0,2696.3L981.0,2697.2L982.0,2698.1L983.0,2699.1L984.0,2700.0L985.0,2700.9L986.0,2701.8L987.0,2702.8L988.0,2703.7L989.0,2704.6L990.0,2705.5L991.0,2706.4L992.0,2707.4L993.0,2708.3L994.0,2709.2L995.0,2710.1L996.0,2711.1L997.0,2712.0L998.0,2712.9L999.0,2713.8L1000.0,2714.8L1001.0,2715.7L1002.0,2714.5L1003.0,2713.3L1004.0,2712.1L1005.0,2710.9L1006.0,2709.7L1007.0,2708.5L1008.0,2707.2L1009.0,2706.0L1010.0,2704.8L1011.0,2703.6L1012.0,2702.4L1013.0,2701.2L1014.0,2700.0L1015.0,2698.8L1016.0,2697.6L1017.0,2696.4L1018.0,2695.2L1019.0,2693.2L1020.0,2662.9L1021.0,2632.6L1022.0,2662.9L1023.0,2689.2L1024.0,2688.0L1025.0,2691.1L1026.0,2694.1L1027.0,2697.2L1028.0,2700.3L1029.0,2703.4L1030.0,2706.4L1031.0,2709.5L1032.0,2712.6L1033.0,2715.7L1034.0,2712.6L1035.0,2709.5L1036.0,2706.4L1037.0,2703.4L1038.0,2700.3L1039.0,2697.2L1040.0,2694.1L1041.0,2691.1L1042.0,2688.0L1043.0,2694.9L1044.0,2701.8L1045.0,2708.8L1046.0,2715.7L1047.0,2701.8L1048.0,2688.0L1049.0,2694.9L1050.0,2701.8L1051.0,2708.8L1052.0,2715.7L1053.0,2701.8L1054.0,2688.0L1055.0,2693.5L1056.0,2699.1L1057.0,2704.6L1058.0,2710.1L1059.0,2715.7L1060.0,2706.4L1061.0,2697.2L1062.0,2688.0L1063.0,2697.2L1064.0,2706.4L1065.0,2715.7L1066.0,2701.8L1067.0,2688.0L1068.0,2692.6L1069.0,2697.2L1070.0,2701.8L1071.0,2706.4L1072.0,2711.1L1073.0,2715.7L1074.0,2711.1L1075.0,2706.4L1076.0,2701.8L1077.0,2697.2L1078.0,2682.8L1079.0,2660.3L1080.0,2662.9L1081.0,2632.6L1082.0,2662.9L1083.0,2682.8L1084.0,2660.3L1085.0,2682.8L1086.0,2705.3L1087.0,2711.7L1088.0,2707.8L1089.0,2703.8L1090.0,2699.9L1091.0,2682.8L1092.0,2660.3L1093.0,2682.8L1094.0,2660.3L1095.0,2682.8L1096.0,2704.6L1097.0,2710.1L1098.0,2715.7L1099.0,2706.4L1100.0,2697.2L1101.0,2688.0L1102.0,2662.9L1103.0,2632.6L1104.0,2662.9L1105.0,2693.2L1106.0,2694.4L1107.0,2688.0L1108.0,2691.1L1109.0,2694.1L1110.0,2697.2L1111.0,2700.3L1112.0,2703.4L1113.0,2706.4L1114.0,2709.5L1115.0,2712.6L1116.0,2715.7L1117.0,2705.3L1118.0,2682.8L1119.0,2660.3L1120.0,2682.8L1121.0,2660.3L1122.0,2682.8L1123.0,2698.1L1124.0,2695.5L1125.0,2693.0L1126.0,2690.5L1127.0,2688.0L1128.0,2691.9L1129.0,2695.9L1130.0,2699.9L1131.0,2703.8L1132.0,2707.8L1133.0,2711.7L1134.0,2715.7L1135.0,2710.1L1136.0,2704.6L1137.0,2699.1L1138.0,2693.5L1139.0,2688.0L1140.0,2701.8L1141.0,2715.7L1142.0,2701.8L1143.0,2688.0L1144.0,2694.9L1145.0,2701.8L1146.0,2708.8L1147.0,2715.7L1148.0,2708.8L1149.0,2701.8L1150.0,2694.9L1151.0,2688.0L1152.0,2701.8L1153.0,2682.8L1154.0,2660.3L1155.0,2682.8L1156.0,2693.5L1157.0,2699.1L1158.0,2704.6L1159.0,2710.1L1160.0,2715.7L1161.0,2706.4L1162.0,2697.2L1163.0,2688.0L1164.0,2693.5L1165.0,2699.1L1166.0,2704.6L1167.0,2710.1L1168.0,2715.7L1169.0,2711.7L1170.0,2707.8L1171.0,2703.8L1172.0,2699.9L1173.0,2695.9L1174.0,2691.9L1175.0,2688.0L1176.0,2694.9L1177.0,2701.8L1178.0,2682.8L1179.0,2660.3L1180.0,2682.8L1181.0,2701.8L1182.0,2694.9L1183.0,2688.0L1184.0,2694.9L1185.0,2701.8L1186.0,2708.8L1187.0,2715.7L1188.0,2708.8L1189.0,2701.8L1190.0,2682.8L1191.0,2660.3L1192.0,2682.8L1193.0,2705.3L1194.0,2701.8L1195.0,2688.0L1196.0,2697.2L1197.0,2706.4L1198.0,2715.7L1199.0,2706.4L1200.0,2697.2L1201.0,2688.0L1202.0,2715.7L1203.0,2701.8L1204.0,2688.0L1205.0,2694.9L1206.0,2701.8L1207.0,2708.8L1208.0,2715.7L1209.0,2706.4L1210.0,2697.2L1211.0,2688.0L1212.0,2694.9L1213.0,2701.8L1214.0,2708.8L1215.0,2715.7L1216.0,2706.4L1217.0,2697.2L1218.0,2688.0L1219.0,2697.2L1220.0,2706.4L1221.0,2715.7L1222.0,2706.4L1223.0,2697.2L1224.0,2688.0L1225.0,2697.2L1226.0,2706.4L1227.0,2715.7L1228.0,2706.4L1229.0,2697.2L1230.0,2688.0L1231.0,2693.5L1232.0,2699.1L1233.0,2704.6L1234.0,2710.1L1235.0,2715.7L1236.0,2706.4L1237.0,2697.2L1238.0,2688.0L1239.0,2697.2L1240.0,2706.4L1241.0,2715.7L1242.0,2706.4L1243.0,2693.2L1244.0,2662.9L1245.0,2632.6L1246.0,2662.9L1247.0,2693.2L1248.0,2696.5L1249.0,2698.6L1250.0,2700.8L1251.0,2702.9L1252.0,2705.0L1253.0,2707.2L1254.0,2709.3L1255.0,2711.4L1256.0,2713.5L1257.0,2715.7L1258.0,2712.6L1259.0,2709.5L1260.0,2706.4L1261.0,2701.8L1262.0,2697.2L1263.0,2692.6L1264.0,2688.0L1265.0,2691.1L1266.0,2688.0L1267.0,2701.8L1268.0,2706.4L1269.0,2701.8L1270.0,2688.0L1271.0,2691.9L1272.0,2695.9L1273.0,2699.9L1274.0,2703.8L1275.0,2707.8L1276.0,2711.7L1277.0,2715.7L1278.0,2712.2L1279.0,2708.8L1280.0,2705.3L1281.0,2701.8L1282.0,2698.4L1283.0,2694.9L1284.0,2691.4L1285.0,2688.0L1286.0,2689.1L1287.0,2690.3L1288.0,2691.4L1289.0,2688.0L1290.0,2690.8L1291.0,2693.5L1292.0,2696.1L1293.0,2697.2L1294.0,2698.4L1295.0,2699.5L1296.0,2700.7L1297.0,2701.8L1298.0,2703.0L1299.0,2704.1L1300.0,2705.3L1301.0,2706.4L1302.0,2707.6L1303.0,2708.8L1304.0,2709.9L1305.0,2711.1L1306.0,2712.2L1307.0,2713.4L1308.0,2714.5L1309.0,2715.7L1310.0,2714.5L1311.0,2713.3L1312.0,2712.1L1313.0,2710.9L1314.0,2709.7L1315.0,2708.5L1316.0,2707.2L1317.0,2706.0L1318.0,2704.8L1319.0,2703.6L1320.0,2702.4L1321.0,2701.2L1322.0,2700.0L1323.0,2698.8L1324.0,2697.6L1325.0,2696.4L1326.0,2695.2L1327.0,2694.0L1328.0,2692.8L1329.0,2690.8L1330.0,2688.0L1331.0,2689.2L1332.0,2688.0L1333.0,2691.9L1334.0,2695.9L1335.0,2699.9L1336.0,2703.8L1337.0,2707.8L1338.0,2711.7L1339.0,2715.7L1340.0,2711.1L1341.0,2706.4L1342.0,2701.8L1343.0,2682.8L1344.0,2660.3L1345.0,2682.8L1346.0,2697.2L1347.0,2706.4L1348.0,2715.7L1349.0,2701.8L1350.0,2688.0L1351.0,2715.7L1352.0,2701.8L1353.0,2688.0L1354.0,2682.8L1355.0,2660.3L1356.0,2682.8L1357.0,2660.3L1358.0,2682.8L1359.0,2694.9L1360.0,2688.0L1361.0,2697.2L1362.0,2682.8L1363.0,2660.3L1364.0,2682.8L1365.0,2704.6L1366.0,2699.1L1367.0,2693.5L1368.0,2688.0L1369.0,2693.2L1370.0,2662.9L1371.0,2632.6L1372.0,2632.6L1373.0,2662.9L1374.0,2693.2L1375.0,2693.2L1376.0,2662.9L1377.0,2632.6L1378.0,2662.9L1379.0,2682.8L1380.0,2660.3L1381.0,2682.8L1382.0,2682.8L1383.0,2660.3L1384.0,2682.8L1385.0,2705.3L1386.0,2706.4L1387.0,2703.4L1388.0,2700.3L1389.0,2697.2L1390.0,2694.1L1391.0,2691.1L1392.0,2688.0L1393.0,2693.5L1394.0,2699.1L1395.0,2704.6L1396.0,2682.8L1397.0,2660.3L1398.0,2682.8L1399.0,2693.2L1400.0,2662.9L1401.0,2632.6L1402.0,2662.9L1403.0,2693.2L1404.0,2701.8L1405.0,2688.0L1406.0,2694.9L1407.0,2701.8L1408.0,2708.8L1409.0,2715.7L1410.0,2708.8L1411.0,2701.8L1412.0,2694.9L1413.0,2688.0L1414.0,2697.2L1415.0,2706.4L1416.0,2715.7L1417.0,2715.7L1418.0,2715.7L1419.0,2715.7L1420.0,2715.7L1421.0,2715.7L1422.0,2715.7L1423.0,2715.7L1423.0,2715.7Z"/>
<path class="ya" d="M271,2577.2V2715.7H259.2"/><path class="yt" d="M259.2,2577.2H271.6"/>
<text class="tk" x="252.4" y="2580.5">12</text><text class="tk" x="252.4" y="2718.5">0</text>
<text class="lab" x="74" y="2652.0">GSM2481675</text>
<path class="d" d="M434.5,2869.6L434.5,2869.6L602.3,2777.2L602.9,2823.5L691.8,2869.6L780.0,2823.5L782.0,2731.1L797.2,2866.8L813.1,2823.5L835.7,2869.6L857.6,2823.5L859.6,2777.2L1142.7,2869.6L1142.7,2869.6Z"/>
<path class="ya" d="M271,2731.1V2869.6H259.2"/><path class="yt" d="M259.2,2731.1H271.6"/>
<text class="tk" x="252.4" y="2734.4">358</text><text class="tk" x="252.4" y="2872.4">0</text>
<text class="lab" x="74" y="2806.0">GSM2481674</text>
<path class="d" d="M271.3,3023.5L271.3,3023.5L271.3,2995.8L275.0,3023.5L279.5,2968.1L281.3,2995.8L288.1,3023.5L297.2,2995.8L298.5,2968.1L299.9,2995.8L319.0,3023.5L338.0,2995.8L338.9,3020.8L340.7,2995.8L346.2,3023.5L353.9,2995.8L366.1,3023.5L377.9,2995.8L382.4,3023.5L387.4,2995.8L390.6,3023.5L393.8,2995.8L406.0,3023.5L414.2,2995.8L415.6,2968.1L417.4,2995.8L421.9,3023.5L425.5,2995.8L462.7,3023.5L500.4,2995.8L501.7,3018.0L503.1,2995.8L504.0,3006.9L505.4,2995.8L524.9,3023.5L544.8,2995.8L555.7,3023.5L562.5,2995.8L571.6,3023.5L579.7,2995.8L588.8,3023.5L596.1,2995.8L597.9,3020.8L599.7,2995.8L607.8,3023.5L614.2,2995.8L616.5,3020.8L618.7,2995.8L625.1,3023.5L631.9,2995.8L634.6,3020.8L636.0,2995.8L636.4,2968.1L637.3,2995.8L644.5,3023.5L651.3,2995.8L658.1,3023.5L664.0,2995.8L666.3,3020.8L668.6,2995.8L672.7,3023.5L677.2,2995.8L679.0,3020.8L680.8,2995.8L683.1,2968.1L684.0,2995.8L687.6,3023.5L692.6,2995.8L694.4,3020.8L696.2,2995.8L700.3,3023.5L704.9,2995.8L708.9,3023.5L713.0,2995.8L716.6,3023.5L720.7,2995.8L733.9,3023.5L746.6,2995.8L748.8,3020.8L750.7,2995.8L753.4,3023.5L756.6,2995.8L769.3,3023.5L780.6,2995.8L788.8,3023.5L795.1,2995.8L802.4,3023.5L810.1,2995.8L813.2,2968.1L816.0,3018.0L819.1,2995.8L829.6,3023.5L840.9,2995.8L845.4,3023.5L850.9,2995.8L862.2,3023.5L871.3,2968.1L873.6,2995.8L879.5,3023.5L887.2,2968.1L889.4,3015.2L892.2,2912.7L894.0,3009.7L896.2,2968.1L897.6,2998.6L899.0,2968.1L900.8,3001.4L902.6,2940.4L904.9,3001.4L906.7,2968.1L908.0,3015.2L909.8,2968.1L912.1,3020.8L914.4,2995.8L922.1,3023.5L928.0,2995.8L930.2,3020.8L933.0,2995.8L937.1,3023.5L941.6,2995.8L952.0,3023.5L962.4,2995.8L969.7,3023.5L976.5,2995.8L996.0,3023.5L1012.8,2995.8L1018.7,3023.5L1023.7,2995.8L1025.0,3006.9L1026.8,2995.8L1033.7,3023.5L1041.3,2995.8L1057.2,3023.5L1071.7,2995.8L1093.5,3023.5L1114.4,2995.8L1137.5,3023.5L1160.6,2995.8L1162.0,3018.0L1163.8,2995.8L1166.5,3023.5L1169.2,2995.8L1176.0,3023.5L1183.3,2995.8L1185.6,3015.2L1187.4,2995.8L1191.0,3023.5L1194.2,2995.8L1195.5,3006.9L1196.9,2995.8L1200.1,3023.5L1203.7,2968.1L1204.6,2979.2L1205.5,2968.1L1207.8,3023.5L1210.5,2995.8L1212.3,3015.2L1213.7,2995.8L1215.9,3015.2L1218.7,2995.8L1227.3,3023.5L1235.4,2995.8L1237.3,3009.7L1239.1,2995.8L1246.3,3023.5L1252.7,2995.8L1259.0,3023.5L1263.6,2995.8L1264.9,3004.2L1266.7,2968.1L1269.0,3015.2L1271.3,2968.1L1273.1,3006.9L1274.4,2968.1L1277.2,3009.7L1280.8,2940.4L1284.4,3012.5L1287.1,2968.1L1290.8,3023.5L1294.4,2995.8L1297.6,3023.5L1300.7,2995.8L1302.1,3006.9L1303.5,2995.8L1310.3,3023.5L1316.6,2995.8L1318.4,3009.7L1320.2,2995.8L1322.5,3009.7L1325.2,2968.1L1333.9,3023.5L1342.9,2995.8L1347.5,3020.8L1350.6,2968.1L1352.9,3015.2L1356.1,2885.0L1359.7,2998.6L1362.4,2995.8L1373.3,3023.5L1384.6,2995.8L1387.8,2968.1L1392.8,3023.5L1402.8,2995.8L1404.6,3009.7L1406.0,2940.4L1407.8,2968.1L1411.0,3018.0L1414.1,2968.1L1417.8,3020.8L1420.9,2995.8L1422.7,3023.5L1422.7,3023.5Z"/>
<path class="nl" d="M338.9,3020.8V3023.5M501.7,3018.0V3023.5M504.0,3006.9V3023.5M597.9,3020.8V3023.5M616.5,3020.8V3023.5M634.6,3020.8V3023.5M666.3,3020.8V3023.5M679.0,3020.8V3023.5M694.4,3020.8V3023.5M748.8,3020.8V3023.5M816.0,3018.0V3023.5M889.4,3015.2V3023.5M894.0,3009.7V3023.5M897.6,2998.6V3023.5M900.8,3001.4V3023.5M904.9,3001.4V3023.5M908.0,3015.2V3023.5M912.1,3020.8V3023.5M930.2,3020.8V3023.5M1025.0,3006.9V3023.5M1162.0,3018.0V3023.5M1185.6,3015.2V3023.5M1195.5,3006.9V3023.5M1204.6,2979.2V3023.5M1212.3,3015.2V3023.5M1215.9,3015.2V3023.5M1237.3,3009.7V3023.5M1264.9,3004.2V3023.5M1269.0,3015.2V3023.5M1273.1,3006.9V3023.5M1277.2,3009.7V3023.5M1284.4,3012.5V3023.5M1302.1,3006.9V3023.5M1318.4,3009.7V3023.5M1322.5,3009.7V3023.5M1352.9,3015.2V3023.5M1359.7,2998.6V3023.5M1404.6,3009.7V3023.5M1411.0,3018.0V3023.5M1417.8,3020.8V3023.5"/>
<path class="ya" d="M271,2885.0V3023.5H259.2"/><path class="yt" d="M259.2,2885.0H271.6"/>
<text class="tk" x="252.4" y="2888.3">14</text><text class="tk" x="252.4" y="3026.3">0</text>
<text class="lab" x="74" y="2959.9">GSM2481673</text>
<path class="d" d="M315.8,3177.5L315.8,3177.5L362.5,3131.3L381.5,3177.5L401.5,3131.3L403.3,3163.6L405.1,3131.3L430.1,3177.5L454.6,3131.3L493.6,3177.5L532.6,3131.3L533.9,3163.6L535.7,3131.3L536.2,3085.1L537.1,3131.3L550.2,3175.2L565.2,3085.1L614.2,3177.5L662.7,3131.3L663.6,3039.0L664.5,3085.1L684.4,3177.5L703.0,3131.3L745.2,3177.5L786.9,3131.3L788.3,3154.4L790.1,3131.3L803.7,3177.5L816.9,3131.3L827.3,3177.5L836.8,3131.3L933.4,3177.5L1029.1,3131.3L1100.9,3177.5L1172.5,3131.3L1174.3,3159.0L1176.2,3131.3L1213.4,3177.5L1249.6,3131.3L1302.6,3177.5L1356.1,3131.3L1357.9,3163.6L1359.8,3131.3L1370.0,3175.2L1380.7,3131.3L1402.6,3177.5L1402.6,3177.5Z"/>
<path class="nl" d="M403.3,3163.6V3177.5M533.9,3163.6V3177.5M788.3,3154.4V3177.5M1174.3,3159.0V3177.5M1357.9,3163.6V3177.5"/>
<path class="ya" d="M271,3039.0V3177.5H259.2"/><path class="yt" d="M259.2,3039.0H271.6"/>
<text class="tk" x="252.4" y="3042.3">113</text><text class="tk" x="252.4" y="3180.3">0</text>
<text class="lab" x="74" y="3113.8">GSM2481672</text>
<path class="d" d="M272.7,3331.4L272.7,3331.4L274.5,3285.2L287.2,3331.4L299.5,3285.2L305.4,3331.4L311.2,3285.2L319.9,3331.4L330.3,3285.2L349.8,3331.4L367.9,3239.1L369.8,3285.2L379.3,3331.4L389.3,3285.2L395.1,3331.4L400.6,3285.2L403.3,3317.6L406.0,3285.2L411.0,3331.4L415.6,3285.2L419.6,3331.4L424.2,3239.1L426.0,3294.5L428.3,3285.2L430.5,3322.2L433.2,3285.2L436.0,3322.2L438.7,3285.2L452.7,3331.4L465.0,3285.2L466.8,3312.9L468.2,3239.1L469.5,3252.9L470.9,3239.1L473.6,3322.2L476.8,3285.2L480.9,3331.4L484.0,3239.1L486.3,3308.3L487.7,3285.2L489.5,3312.9L491.3,3285.2L493.1,3312.9L494.5,3285.2L495.8,3317.6L497.6,3285.2L519.0,3331.4L540.3,3285.2L541.6,3303.7L543.0,3285.2L553.4,3331.4L562.5,3285.2L565.2,3326.8L568.4,3285.2L571.1,3322.2L573.8,3285.2L591.1,3331.4L606.9,3285.2L613.7,3331.4L616.0,3285.2L617.4,3308.3L618.7,3285.2L621.5,3331.4L625.1,3285.2L628.3,3331.4L632.3,3285.2L642.3,3331.4L650.9,3285.2L659.5,3331.4L667.2,3285.2L668.1,3239.1L669.5,3285.2L679.5,3331.4L687.2,3285.2L689.0,3239.1L690.3,3248.3L691.7,3239.1L701.2,3331.4L711.7,3285.2L713.5,3317.6L715.3,3285.2L735.7,3331.4L756.6,3285.2L764.7,3331.4L771.5,3285.2L774.2,3326.8L777.4,3285.2L784.2,3331.4L791.0,3285.2L797.8,3331.4L803.3,3285.2L805.1,3239.1L806.9,3285.2L810.1,3322.2L815.5,3285.2L835.5,3331.4L855.9,3285.2L858.1,3322.2L860.4,3285.2L861.8,3308.3L863.1,3285.2L868.1,3331.4L874.0,3285.2L882.6,3331.4L891.2,3285.2L893.1,3299.1L896.2,3239.1L897.6,3257.5L899.0,3239.1L900.8,3299.1L903.0,3239.1L917.6,3331.4L933.4,3285.2L939.3,3331.4L943.4,3285.2L945.2,3308.3L947.9,3285.2L960.2,3331.4L971.1,3285.2L975.6,3331.4L978.3,3285.2L979.2,3239.1L980.1,3285.2L983.8,3322.2L986.5,3285.2L987.8,3308.3L989.7,3285.2L993.3,3326.8L996.5,3285.2L997.4,3239.1L998.3,3285.2L1001.0,3317.6L1002.8,3285.2L1004.6,3285.2L1022.3,3331.4L1040.0,3285.2L1050.4,3331.4L1059.9,3285.2L1061.3,3312.9L1063.1,3285.2L1067.6,3331.4L1071.3,3285.2L1077.2,3331.4L1082.2,3285.2L1083.5,3303.7L1085.3,3285.2L1089.4,3331.4L1093.9,3285.2L1096.2,3322.2L1098.9,3285.2L1101.2,3317.6L1103.5,3285.2L1104.8,3303.7L1106.2,3285.2L1113.0,3331.4L1118.4,3285.2L1120.2,3308.3L1122.1,3239.1L1123.0,3285.2L1124.3,3308.3L1126.1,3285.2L1145.2,3331.4L1161.5,3285.2L1162.4,3239.1L1163.3,3285.2L1169.7,3331.4L1176.0,3285.2L1177.4,3299.1L1178.8,3285.2L1184.2,3331.4L1190.1,3285.2L1196.4,3331.4L1201.0,3285.2L1202.8,3303.7L1205.1,3285.2L1211.4,3331.4L1219.6,3285.2L1222.7,3326.8L1225.5,3285.2L1227.3,3239.1L1228.2,3285.2L1235.0,3331.4L1240.4,3285.2L1245.4,3331.4L1250.4,3285.2L1258.1,3331.4L1264.5,3285.2L1265.4,3239.1L1266.3,3285.2L1268.5,3322.2L1270.8,3285.2L1273.1,3192.9L1274.9,3285.2L1276.7,3326.8L1278.5,3285.2L1280.3,3192.9L1282.2,3299.1L1284.0,3303.7L1286.2,3239.1L1302.1,3331.4L1317.1,3285.2L1318.9,3317.6L1320.7,3285.2L1323.4,3331.4L1327.5,3285.2L1328.9,3312.9L1330.2,3285.2L1331.6,3308.3L1332.9,3285.2L1334.3,3308.3L1336.1,3285.2L1342.9,3331.4L1348.8,3285.2L1352.9,3317.6L1354.7,3239.1L1356.5,3317.6L1358.8,3285.2L1360.6,3239.1L1362.0,3248.3L1363.3,3285.2L1366.1,3239.1L1367.9,3285.2L1376.9,3331.4L1386.0,3285.2L1386.9,3239.1L1387.8,3285.2L1389.6,3308.3L1391.5,3285.2L1398.3,3331.4L1404.6,3285.2L1406.0,3239.1L1407.3,3285.2L1409.1,3317.6L1411.0,3239.1L1413.2,3331.4L1419.1,3285.2L1420.5,3303.7L1421.8,3285.2L1423.2,3331.4L1423.2,3331.4Z"/>
<path class="nl" d="M403.3,3317.6V3331.4M426.0,3294.5V3331.4M430.5,3322.2V3331.4M436.0,3322.2V3331.4M466.8,3312.9V3331.4M469.5,3252.9V3331.4M473.6,3322.2V3331.4M486.3,3308.3V3331.4M489.5,3312.9V3331.4M493.1,3312.9V3331.4M495.8,3317.6V3331.4M541.6,3303.7V3331.4M565.2,3326.8V3331.4M571.1,3322.2V3331.4M617.4,3308.3V3331.4M690.3,3248.3V3331.4M713.5,3317.6V3331.4M774.2,3326.8V3331.4M858.1,3322.2V3331.4M861.8,3308.3V3331.4M893.1,3299.1V3331.4M897.6,3257.5V3331.4M900.8,3299.1V3331.4M945.2,3308.3V3331.4M983.8,3322.2V3331.4M987.8,3308.3V3331.4M993.3,3326.8V3331.4M1001.0,3317.6V3331.4M1061.3,3312.9V3331.4M1083.5,3303.7V3331.4M1096.2,3322.2V3331.4M1101.2,3317.6V3331.4M1104.8,3303.7V3331.4M1120.2,3308.3V3331.4M1124.3,3308.3V3331.4M1177.4,3299.1V3331.4M1202.8,3303.7V3331.4M1222.7,3326.8V3331.4M1268.5,3322.2V3331.4M1276.7,3326.8V3331.4M1284.0,3303.7V3331.4M1318.9,3317.6V3331.4M1328.9,3312.9V3331.4M1331.6,3308.3V3331.4M1334.3,3308.3V3331.4M1356.5,3317.6V3331.4M1363.3,3285.2V3331.4M1389.6,3308.3V3331.4M1409.1,3317.6V3331.4M1420.5,3303.7V3331.4"/>
<path class="ya" d="M271,3192.9V3331.4H259.2"/><path class="yt" d="M259.2,3192.9H271.6"/>
<text class="tk" x="252.4" y="3196.2">11</text><text class="tk" x="252.4" y="3334.2">0</text>
<text class="lab" x="74" y="3267.8">GSM2481671</text>
<path class="d" d="M399.3,3485.3L399.3,3485.3L528.6,3346.8L851.6,3485.3L1176.6,3346.8L1301.2,3485.3L1301.2,3485.3Z"/>
<path class="ya" d="M271,3346.8V3485.3H259.2"/><path class="yt" d="M259.2,3346.8H271.6"/>
<text class="tk" x="252.4" y="3350.1">129</text><text class="tk" x="252.4" y="3488.1">0</text>
<text class="lab" x="74" y="3421.7">GSM2481670</text>
<path class="d" d="M272.0,3639.3L272.0,3620.0L273.0,3627.7L274.0,3633.5L275.0,3639.3L276.0,3630.6L277.0,3615.1L278.0,3583.9L279.0,3552.7L280.0,3583.9L281.0,3615.1L282.0,3630.2L283.0,3608.7L284.0,3587.3L285.0,3608.7L286.0,3630.2L287.0,3620.0L288.0,3604.6L289.0,3620.0L290.0,3621.9L291.0,3630.6L292.0,3639.3L293.0,3621.9L294.0,3620.0L295.0,3604.6L296.0,3620.0L297.0,3630.6L298.0,3639.3L299.0,3630.6L300.0,3621.9L301.0,3630.6L302.0,3639.3L303.0,3621.9L304.0,3634.7L305.0,3621.9L306.0,3630.6L307.0,3639.3L308.0,3630.6L309.0,3621.9L310.0,3620.0L311.0,3604.6L312.0,3620.0L313.0,3620.0L314.0,3604.6L315.0,3620.0L316.0,3608.7L317.0,3587.3L318.0,3608.7L319.0,3620.0L320.0,3604.6L321.0,3620.0L322.0,3620.0L323.0,3604.6L324.0,3620.0L325.0,3633.5L326.0,3627.7L327.0,3621.9L328.0,3632.7L329.0,3621.9L330.0,3630.6L331.0,3639.3L332.0,3630.6L333.0,3621.9L334.0,3620.0L335.0,3604.6L336.0,3620.0L337.0,3608.7L338.0,3587.3L339.0,3608.7L340.0,3621.9L341.0,3627.7L342.0,3608.7L343.0,3587.3L344.0,3608.7L345.0,3596.6L346.0,3570.0L347.0,3596.6L348.0,3623.3L349.0,3621.9L350.0,3626.3L351.0,3630.6L352.0,3634.9L353.0,3639.3L354.0,3636.8L355.0,3634.3L356.0,3631.8L357.0,3629.4L358.0,3626.9L359.0,3624.4L360.0,3621.9L361.0,3623.3L362.0,3596.6L363.0,3570.0L364.0,3596.6L365.0,3621.9L366.0,3620.0L367.0,3604.6L368.0,3620.0L369.0,3621.9L370.0,3608.7L371.0,3587.3L372.0,3608.7L373.0,3608.7L374.0,3587.3L375.0,3608.7L376.0,3621.9L377.0,3629.0L378.0,3621.9L379.0,3630.6L380.0,3639.3L381.0,3633.5L382.0,3627.7L383.0,3621.9L384.0,3596.6L385.0,3570.0L386.0,3596.6L387.0,3570.0L388.0,3596.6L389.0,3623.3L390.0,3621.9L391.0,3620.0L392.0,3604.6L393.0,3620.0L394.0,3629.6L395.0,3621.9L396.0,3627.7L397.0,3633.5L398.0,3620.0L399.0,3604.6L400.0,3620.0L401.0,3631.6L402.0,3621.9L403.0,3630.6L404.0,3623.3L405.0,3596.6L406.0,3570.0L407.0,3596.6L408.0,3623.3L409.0,3639.3L410.0,3630.6L411.0,3621.9L412.0,3629.5L413.0,3621.9L414.0,3626.8L415.0,3631.6L416.0,3626.8L417.0,3621.9L418.0,3630.6L419.0,3639.3L420.0,3621.9L421.0,3627.4L422.0,3632.8L423.0,3627.4L424.0,3608.7L425.0,3587.3L426.0,3608.7L427.0,3630.2L428.0,3627.7L429.0,3621.9L430.0,3633.9L431.0,3627.9L432.0,3621.9L433.0,3620.0L434.0,3604.6L435.0,3620.0L436.0,3621.9L437.0,3639.3L438.0,3630.6L439.0,3620.0L440.0,3604.6L441.0,3620.0L442.0,3623.3L443.0,3596.6L444.0,3570.0L445.0,3596.6L446.0,3623.3L447.0,3608.7L448.0,3587.3L449.0,3608.7L450.0,3620.0L451.0,3604.6L452.0,3615.1L453.0,3583.9L454.0,3552.7L455.0,3583.9L456.0,3615.1L457.0,3604.6L458.0,3620.0L459.0,3630.6L460.0,3639.3L461.0,3633.5L462.0,3627.7L463.0,3621.9L464.0,3630.2L465.0,3608.7L466.0,3587.3L467.0,3608.7L468.0,3587.3L469.0,3608.7L470.0,3630.2L471.0,3621.9L472.0,3630.6L473.0,3639.3L474.0,3621.9L475.0,3633.8L476.0,3621.9L477.0,3635.3L478.0,3621.9L479.0,3630.6L480.0,3639.3L481.0,3630.6L482.0,3621.9L483.0,3596.6L484.0,3570.0L485.0,3596.6L486.0,3620.0L487.0,3604.6L488.0,3620.0L489.0,3626.1L490.0,3630.2L491.0,3620.0L492.0,3604.6L493.0,3608.7L494.0,3587.3L495.0,3608.7L496.0,3621.9L497.0,3630.6L498.0,3620.0L499.0,3604.6L500.0,3620.0L501.0,3630.6L502.0,3639.3L503.0,3630.6L504.0,3621.9L505.0,3626.7L506.0,3631.4L507.0,3626.7L508.0,3620.0L509.0,3604.6L510.0,3620.0L511.0,3630.2L512.0,3608.7L513.0,3587.3L514.0,3608.7L515.0,3625.5L516.0,3621.9L517.0,3630.6L518.0,3639.3L519.0,3630.6L520.0,3621.9L521.0,3630.6L522.0,3639.3L523.0,3605.8L524.0,3570.6L525.0,3535.4L526.0,3570.6L527.0,3605.8L528.0,3621.9L529.0,3630.6L530.0,3639.3L531.0,3621.9L532.0,3630.6L533.0,3635.4L534.0,3620.0L535.0,3604.6L536.0,3620.0L537.0,3620.0L538.0,3604.6L539.0,3620.0L540.0,3604.6L541.0,3620.0L542.0,3629.4L543.0,3631.8L544.0,3634.3L545.0,3636.8L546.0,3639.3L547.0,3637.1L548.0,3634.9L549.0,3632.8L550.0,3630.6L551.0,3628.4L552.0,3626.3L553.0,3624.1L554.0,3621.9L555.0,3630.2L556.0,3608.7L557.0,3587.3L558.0,3608.7L559.0,3630.2L560.0,3630.6L561.0,3621.9L562.0,3630.6L563.0,3639.3L564.0,3621.9L565.0,3626.1L566.0,3630.2L567.0,3626.1L568.0,3621.9L569.0,3630.6L570.0,3639.3L571.0,3630.6L572.0,3621.9L573.0,3630.6L574.0,3639.3L575.0,3630.6L576.0,3621.9L577.0,3626.5L578.0,3631.0L579.0,3626.5L580.0,3621.9L581.0,3639.3L582.0,3630.6L583.0,3621.9L584.0,3620.0L585.0,3604.6L586.0,3608.7L587.0,3587.3L588.0,3608.7L589.0,3630.2L590.0,3621.9L591.0,3630.6L592.0,3620.0L593.0,3604.6L594.0,3620.0L595.0,3633.5L596.0,3635.4L597.0,3620.0L598.0,3604.6L599.0,3620.0L600.0,3635.4L601.0,3630.6L602.0,3621.9L603.0,3635.0L604.0,3621.9L605.0,3620.0L606.0,3604.6L607.0,3620.0L608.0,3620.0L609.0,3604.6L610.0,3620.0L611.0,3621.9L612.0,3634.3L613.0,3621.9L614.0,3627.7L615.0,3633.5L616.0,3639.3L617.0,3630.6L618.0,3621.9L619.0,3620.0L620.0,3604.6L621.0,3620.0L622.0,3630.6L623.0,3639.3L624.0,3615.1L625.0,3583.9L626.0,3552.7L627.0,3583.9L628.0,3615.1L629.0,3596.6L630.0,3570.0L631.0,3596.6L632.0,3623.3L633.0,3630.6L634.0,3621.9L635.0,3620.0L636.0,3604.6L637.0,3620.0L638.0,3620.0L639.0,3604.6L640.0,3620.0L641.0,3621.9L642.0,3630.6L643.0,3639.3L644.0,3630.6L645.0,3621.9L646.0,3626.3L647.0,3630.2L648.0,3608.7L649.0,3587.3L650.0,3608.7L651.0,3630.2L652.0,3621.9L653.0,3627.7L654.0,3633.5L655.0,3639.3L656.0,3630.6L657.0,3621.9L658.0,3639.3L659.0,3630.6L660.0,3621.9L661.0,3631.6L662.0,3621.9L663.0,3620.0L664.0,3604.6L665.0,3620.0L666.0,3628.7L667.0,3635.5L668.0,3628.7L669.0,3608.7L670.0,3587.3L671.0,3608.7L672.0,3630.2L673.0,3621.9L674.0,3596.6L675.0,3570.0L676.0,3596.6L677.0,3623.3L678.0,3630.6L679.0,3621.9L680.0,3628.0L681.0,3634.1L682.0,3628.0L683.0,3621.9L684.0,3620.0L685.0,3604.6L686.0,3620.0L687.0,3627.7L688.0,3608.7L689.0,3587.3L690.0,3608.7L691.0,3628.8L692.0,3630.2L693.0,3608.7L694.0,3587.3L695.0,3608.7L696.0,3630.2L697.0,3621.9L698.0,3624.4L699.0,3626.9L700.0,3620.0L701.0,3604.6L702.0,3620.0L703.0,3623.3L704.0,3596.6L705.0,3570.0L706.0,3596.6L707.0,3623.3L708.0,3635.4L709.0,3620.0L710.0,3604.6L711.0,3620.0L712.0,3635.4L713.0,3630.6L714.0,3621.9L715.0,3615.1L716.0,3583.9L717.0,3552.7L718.0,3583.9L719.0,3608.7L720.0,3587.3L721.0,3608.7L722.0,3608.7L723.0,3587.3L724.0,3608.7L725.0,3630.2L726.0,3630.2L727.0,3608.7L728.0,3587.3L729.0,3608.7L730.0,3621.9L731.0,3630.6L732.0,3639.3L733.0,3621.9L734.0,3623.3L735.0,3596.6L736.0,3570.0L737.0,3596.6L738.0,3604.6L739.0,3620.0L740.0,3620.0L741.0,3604.6L742.0,3620.0L743.0,3630.6L744.0,3639.3L745.0,3630.6L746.0,3621.9L747.0,3630.6L748.0,3639.3L749.0,3621.9L750.0,3620.0L751.0,3604.6L752.0,3620.0L753.0,3630.6L754.0,3621.9L755.0,3630.2L756.0,3608.7L757.0,3587.3L758.0,3608.7L759.0,3630.2L760.0,3630.6L761.0,3620.0L762.0,3604.6L763.0,3620.0L764.0,3630.6L765.0,3621.9L766.0,3630.6L767.0,3639.3L768.0,3630.6L769.0,3621.9L770.0,3639.3L771.0,3630.6L772.0,3621.9L773.0,3630.6L774.0,3620.0L775.0,3604.6L776.0,3620.0L777.0,3621.9L778.0,3630.2L779.0,3620.0L780.0,3604.6L781.0,3608.7L782.0,3587.3L783.0,3608.7L784.0,3630.2L785.0,3630.6L786.0,3621.9L787.0,3620.0L788.0,3604.6L789.0,3620.0L790.0,3621.9L791.0,3630.6L792.0,3639.3L793.0,3630.6L794.0,3621.9L795.0,3630.6L796.0,3623.3L797.0,3596.6L798.0,3570.0L799.0,3596.6L800.0,3623.3L801.0,3630.6L802.0,3621.9L803.0,3639.3L804.0,3630.2L805.0,3608.7L806.0,3587.3L807.0,3608.7L808.0,3630.2L809.0,3620.0L810.0,3604.6L811.0,3620.0L812.0,3630.6L813.0,3620.0L814.0,3604.6L815.0,3620.0L816.0,3608.7L817.0,3587.3L818.0,3608.7L819.0,3620.0L820.0,3604.6L821.0,3620.0L822.0,3630.2L823.0,3608.7L824.0,3587.3L825.0,3608.7L826.0,3587.3L827.0,3608.7L828.0,3596.6L829.0,3570.0L830.0,3596.6L831.0,3621.9L832.0,3620.0L833.0,3604.6L834.0,3620.0L835.0,3620.0L836.0,3604.6L837.0,3620.0L838.0,3626.0L839.0,3620.0L840.0,3604.6L841.0,3620.0L842.0,3620.0L843.0,3604.6L844.0,3620.0L845.0,3621.9L846.0,3629.9L847.0,3621.9L848.0,3630.6L849.0,3623.3L850.0,3596.6L851.0,3570.0L852.0,3596.6L853.0,3623.3L854.0,3630.2L855.0,3608.7L856.0,3587.3L857.0,3608.7L858.0,3630.2L859.0,3630.6L860.0,3621.9L861.0,3626.8L862.0,3631.6L863.0,3620.0L864.0,3604.6L865.0,3587.3L866.0,3608.7L867.0,3621.9L868.0,3608.7L869.0,3587.3L870.0,3608.7L871.0,3620.0L872.0,3604.6L873.0,3620.0L874.0,3635.4L875.0,3630.6L876.0,3621.9L877.0,3608.7L878.0,3587.3L879.0,3608.7L880.0,3630.2L881.0,3639.3L882.0,3621.9L883.0,3635.1L884.0,3621.9L885.0,3630.6L886.0,3639.3L887.0,3630.6L888.0,3621.9L889.0,3635.2L890.0,3621.9L891.0,3608.7L892.0,3587.3L893.0,3608.7L894.0,3621.9L895.0,3605.8L896.0,3570.6L897.0,3535.4L898.0,3570.6L899.0,3605.8L900.0,3630.6L901.0,3639.3L902.0,3621.9L903.0,3630.6L904.0,3615.1L905.0,3583.9L906.0,3552.7L907.0,3583.9L908.0,3604.6L909.0,3620.0L910.0,3621.9L911.0,3630.6L912.0,3639.3L913.0,3621.9L914.0,3620.0L915.0,3604.6L916.0,3620.0L917.0,3630.6L918.0,3621.9L919.0,3630.6L920.0,3639.3L921.0,3621.9L922.0,3627.7L923.0,3608.7L924.0,3587.3L925.0,3608.7L926.0,3596.6L927.0,3570.0L928.0,3596.6L929.0,3623.3L930.0,3620.0L931.0,3604.6L932.0,3620.0L933.0,3608.7L934.0,3587.3L935.0,3608.7L936.0,3630.2L937.0,3621.9L938.0,3608.7L939.0,3587.3L940.0,3608.7L941.0,3621.9L942.0,3630.6L943.0,3639.3L944.0,3630.6L945.0,3621.9L946.0,3639.3L947.0,3630.6L948.0,3621.9L949.0,3630.6L950.0,3639.3L951.0,3621.9L952.0,3630.6L953.0,3639.3L954.0,3621.9L955.0,3596.6L956.0,3570.0L957.0,3596.6L958.0,3621.9L959.0,3630.6L960.0,3639.3L961.0,3630.6L962.0,3621.9L963.0,3633.4L964.0,3627.7L965.0,3621.9L966.0,3620.0L967.0,3604.6L968.0,3620.0L969.0,3620.0L970.0,3604.6L971.0,3620.0L972.0,3630.6L973.0,3620.0L974.0,3604.6L975.0,3620.0L976.0,3630.6L977.0,3621.9L978.0,3630.6L979.0,3639.3L980.0,3621.9L981.0,3596.6L982.0,3570.0L983.0,3596.6L984.0,3570.0L985.0,3596.6L986.0,3620.0L987.0,3604.6L988.0,3620.0L989.0,3621.9L990.0,3624.4L991.0,3626.9L992.0,3629.4L993.0,3631.8L994.0,3634.3L995.0,3636.8L996.0,3639.3L997.0,3636.8L998.0,3634.3L999.0,3631.8L1000.0,3629.4L1001.0,3626.9L1002.0,3624.4L1003.0,3621.9L1004.0,3627.7L1005.0,3633.5L1006.0,3630.2L1007.0,3608.7L1008.0,3587.3L1009.0,3608.7L1010.0,3630.2L1011.0,3621.9L1012.0,3634.7L1013.0,3621.9L1014.0,3626.0L1015.0,3630.0L1016.0,3608.7L1017.0,3587.3L1018.0,3608.7L1019.0,3630.2L1020.0,3620.0L1021.0,3604.6L1022.0,3620.0L1023.0,3621.9L1024.0,3620.0L1025.0,3604.6L1026.0,3620.0L1027.0,3604.6L1028.0,3620.0L1029.0,3626.8L1030.0,3631.6L1031.0,3626.8L1032.0,3620.0L1033.0,3604.6L1034.0,3604.6L1035.0,3620.0L1036.0,3620.0L1037.0,3604.6L1038.0,3604.6L1039.0,3620.0L1040.0,3604.6L1041.0,3620.0L1042.0,3604.6L1043.0,3620.0L1044.0,3596.6L1045.0,3570.0L1046.0,3596.6L1047.0,3587.3L1048.0,3608.7L1049.0,3630.2L1050.0,3639.3L1051.0,3630.6L1052.0,3621.9L1053.0,3625.7L1054.0,3620.0L1055.0,3604.6L1056.0,3620.0L1057.0,3621.9L1058.0,3630.0L1059.0,3620.0L1060.0,3604.6L1061.0,3620.0L1062.0,3620.0L1063.0,3604.6L1064.0,3620.0L1065.0,3608.7L1066.0,3587.3L1067.0,3608.7L1068.0,3630.2L1069.0,3621.9L1070.0,3620.0L1071.0,3604.6L1072.0,3620.0L1073.0,3621.9L1074.0,3620.0L1075.0,3604.6L1076.0,3620.0L1077.0,3627.7L1078.0,3608.7L1079.0,3587.3L1080.0,3608.7L1081.0,3583.9L1082.0,3552.7L1083.0,3583.9L1084.0,3615.1L1085.0,3630.2L1086.0,3608.7L1087.0,3587.3L1088.0,3608.7L1089.0,3621.9L1090.0,3630.6L1091.0,3639.3L1092.0,3630.6L1093.0,3621.9L1094.0,3634.5L1095.0,3621.9L1096.0,3627.7L1097.0,3620.0L1098.0,3604.6L1099.0,3620.0L1100.0,3621.9L1101.0,3624.4L1102.0,3626.9L1103.0,3629.4L1104.0,3631.8L1105.0,3634.3L1106.0,3636.8L1107.0,3639.3L1108.0,3636.4L1109.0,3633.5L1110.0,3630.6L1111.0,3627.7L1112.0,3624.8L1113.0,3621.9L1114.0,3626.3L1115.0,3630.7L1116.0,3626.3L1117.0,3608.7L1118.0,3587.3L1119.0,3570.6L1120.0,3535.4L1121.0,3570.6L1122.0,3605.8L1123.0,3604.6L1124.0,3620.0L1125.0,3604.6L1126.0,3620.0L1127.0,3630.6L1128.0,3621.9L1129.0,3630.5L1130.0,3621.9L1131.0,3630.6L1132.0,3639.3L1133.0,3630.6L1134.0,3621.9L1135.0,3631.5L1136.0,3626.7L1137.0,3621.9L1138.0,3608.7L1139.0,3587.3L1140.0,3608.7L1141.0,3630.2L1142.0,3639.3L1143.0,3630.6L1144.0,3621.9L1145.0,3620.0L1146.0,3604.6L1147.0,3620.0L1148.0,3620.0L1149.0,3604.6L1150.0,3620.0L1151.0,3621.9L1152.0,3626.2L1153.0,3608.7L1154.0,3587.3L1155.0,3608.7L1156.0,3608.7L1157.0,3587.3L1158.0,3608.7L1159.0,3608.7L1160.0,3587.3L1161.0,3608.7L1162.0,3621.9L1163.0,3608.7L1164.0,3587.3L1165.0,3608.7L1166.0,3621.9L1167.0,3623.3L1168.0,3596.6L1169.0,3570.0L1170.0,3596.6L1171.0,3623.3L1172.0,3621.9L1173.0,3608.7L1174.0,3587.3L1175.0,3608.7L1176.0,3620.0L1177.0,3604.6L1178.0,3620.0L1179.0,3621.9L1180.0,3620.0L1181.0,3604.6L1182.0,3620.0L1183.0,3627.7L1184.0,3621.9L1185.0,3633.9L1186.0,3621.9L1187.0,3608.7L1188.0,3587.3L1189.0,3608.7L1190.0,3621.9L1191.0,3628.8L1192.0,3635.6L1193.0,3628.8L1194.0,3621.9L1195.0,3608.7L1196.0,3587.3L1197.0,3608.7L1198.0,3621.9L1199.0,3608.7L1200.0,3587.3L1201.0,3608.7L1202.0,3627.2L1203.0,3621.9L1204.0,3620.0L1205.0,3604.6L1206.0,3620.0L1207.0,3621.9L1208.0,3630.2L1209.0,3608.7L1210.0,3587.3L1211.0,3608.7L1212.0,3630.2L1213.0,3630.6L1214.0,3621.9L1215.0,3630.6L1216.0,3620.0L1217.0,3604.6L1218.0,3605.8L1219.0,3570.6L1220.0,3535.4L1221.0,3570.6L1222.0,3605.8L1223.0,3630.6L1224.0,3621.9L1225.0,3631.9L1226.0,3621.9L1227.0,3608.7L1228.0,3587.3L1229.0,3608.7L1230.0,3630.2L1231.0,3639.3L1232.0,3621.9L1233.0,3596.6L1234.0,3570.0L1235.0,3596.6L1236.0,3621.9L1237.0,3628.2L1238.0,3634.5L1239.0,3621.9L1240.0,3635.4L1241.0,3620.0L1242.0,3604.6L1243.0,3620.0L1244.0,3620.0L1245.0,3604.6L1246.0,3620.0L1247.0,3631.8L1248.0,3626.9L1249.0,3621.9L1250.0,3630.2L1251.0,3608.7L1252.0,3587.3L1253.0,3608.7L1254.0,3630.2L1255.0,3621.9L1256.0,3625.4L1257.0,3620.0L1258.0,3604.6L1259.0,3620.0L1260.0,3621.9L1261.0,3632.9L1262.0,3621.9L1263.0,3620.0L1264.0,3604.6L1265.0,3620.0L1266.0,3621.9L1267.0,3620.0L1268.0,3604.6L1269.0,3584.7L1270.0,3542.7L1271.0,3500.8L1272.0,3542.7L1273.0,3584.7L1274.0,3626.7L1275.0,3621.9L1276.0,3625.7L1277.0,3629.5L1278.0,3625.7L1279.0,3621.9L1280.0,3630.2L1281.0,3608.7L1282.0,3587.3L1283.0,3596.6L1284.0,3570.0L1285.0,3596.6L1286.0,3608.7L1287.0,3587.3L1288.0,3608.7L1289.0,3621.9L1290.0,3639.3L1291.0,3630.6L1292.0,3620.0L1293.0,3604.6L1294.0,3620.0L1295.0,3630.6L1296.0,3620.0L1297.0,3604.6L1298.0,3620.0L1299.0,3630.6L1300.0,3621.9L1301.0,3630.6L1302.0,3620.0L1303.0,3604.6L1304.0,3620.0L1305.0,3630.2L1306.0,3608.7L1307.0,3587.3L1308.0,3608.7L1309.0,3625.5L1310.0,3621.9L1311.0,3620.0L1312.0,3604.6L1313.0,3620.0L1314.0,3630.6L1315.0,3620.0L1316.0,3604.6L1317.0,3620.0L1318.0,3635.4L1319.0,3620.0L1320.0,3604.6L1321.0,3620.0L1322.0,3630.6L1323.0,3621.9L1324.0,3630.6L1325.0,3630.2L1326.0,3608.7L1327.0,3587.3L1328.0,3608.7L1329.0,3628.0L1330.0,3621.9L1331.0,3630.2L1332.0,3608.7L1333.0,3587.3L1334.0,3608.7L1335.0,3630.2L1336.0,3630.6L1337.0,3621.9L1338.0,3632.2L1339.0,3627.1L1340.0,3620.0L1341.0,3604.6L1342.0,3620.0L1343.0,3630.6L1344.0,3620.0L1345.0,3604.6L1346.0,3620.0L1347.0,3626.0L1348.0,3630.0L1349.0,3626.0L1350.0,3621.9L1351.0,3630.6L1352.0,3639.3L1353.0,3621.9L1354.0,3596.6L1355.0,3570.0L1356.0,3596.6L1357.0,3621.9L1358.0,3596.6L1359.0,3570.0L1360.0,3596.6L1361.0,3621.9L1362.0,3630.6L1363.0,3639.3L1364.0,3630.6L1365.0,3621.9L1366.0,3620.0L1367.0,3604.6L1368.0,3620.0L1369.0,3608.7L1370.0,3587.3L1371.0,3608.7L1372.0,3620.0L1373.0,3604.6L1374.0,3620.0L1375.0,3630.6L1376.0,3639.3L1377.0,3633.5L1378.0,3627.7L1379.0,3621.9L1380.0,3634.9L1381.0,3621.9L1382.0,3635.0L1383.0,3621.9L1384.0,3620.0L1385.0,3604.6L1386.0,3620.0L1387.0,3604.6L1388.0,3620.0L1389.0,3621.9L1390.0,3608.7L1391.0,3587.3L1392.0,3608.7L1393.0,3608.7L1394.0,3587.3L1395.0,3608.7L1396.0,3630.2L1397.0,3633.5L1398.0,3627.7L1399.0,3621.9L1400.0,3630.6L1401.0,3639.3L1402.0,3630.6L1403.0,3621.9L1404.0,3615.1L1405.0,3583.9L1406.0,3552.7L1407.0,3583.9L1408.0,3570.6L1409.0,3535.4L1410.0,3570.6L1411.0,3605.8L1412.0,3623.3L1413.0,3596.6L1414.0,3570.0L1415.0,3596.6L1416.0,3570.0L1417.0,3596.6L1418.0,3623.3L1419.0,3621.9L1420.0,3627.7L1421.0,3633.5L1422.0,3639.3L1423.0,3639.3L1423.0,3639.3Z"/>
<path class="ya" d="M271,3500.8V3639.3H259.2"/><path class="yt" d="M259.2,3500.8H271.6"/>
<text class="tk" x="252.4" y="3504.1">7</text><text class="tk" x="252.4" y="3642.1">0</text>
<text class="lab" x="74" y="3575.6">GSM2481669</text>
<path class="d" d="M272.0,3793.2L272.0,3757.6L273.0,3758.6L274.0,3757.6L275.0,3723.9L276.0,3757.6L277.0,3781.6L278.0,3757.6L279.0,3723.9L280.0,3757.6L281.0,3791.2L282.0,3781.6L283.0,3770.1L284.0,3757.6L285.0,3723.9L286.0,3757.6L287.0,3781.6L288.0,3770.1L289.0,3758.6L290.0,3770.1L291.0,3781.6L292.0,3793.2L293.0,3775.9L294.0,3758.6L295.0,3762.4L296.0,3766.3L297.0,3770.1L298.0,3774.0L299.0,3777.8L300.0,3781.6L301.0,3785.5L302.0,3789.3L303.0,3793.2L304.0,3789.7L305.0,3786.3L306.0,3782.8L307.0,3779.3L308.0,3775.9L309.0,3772.4L310.0,3769.0L311.0,3765.5L312.0,3762.0L313.0,3758.6L314.0,3775.9L315.0,3793.2L316.0,3781.6L317.0,3770.1L318.0,3758.6L319.0,3762.4L320.0,3766.3L321.0,3770.1L322.0,3774.0L323.0,3777.8L324.0,3781.6L325.0,3785.5L326.0,3789.3L327.0,3793.2L328.0,3788.9L329.0,3757.6L330.0,3723.9L331.0,3757.6L332.0,3771.5L333.0,3767.2L334.0,3762.9L335.0,3758.6L336.0,3770.1L337.0,3781.6L338.0,3791.2L339.0,3757.6L340.0,3723.9L341.0,3757.6L342.0,3770.1L343.0,3781.6L344.0,3793.2L345.0,3775.9L346.0,3758.6L347.0,3765.5L348.0,3772.4L349.0,3779.3L350.0,3786.3L351.0,3793.2L352.0,3781.6L353.0,3770.1L354.0,3758.6L355.0,3770.1L356.0,3781.6L357.0,3793.2L358.0,3786.3L359.0,3757.6L360.0,3723.9L361.0,3757.6L362.0,3758.6L363.0,3762.9L364.0,3767.2L365.0,3771.5L366.0,3775.9L367.0,3733.7L368.0,3689.3L369.0,3733.7L370.0,3778.1L371.0,3789.3L372.0,3785.5L373.0,3781.6L374.0,3777.8L375.0,3774.0L376.0,3770.1L377.0,3766.3L378.0,3762.4L379.0,3758.6L380.0,3770.1L381.0,3781.6L382.0,3793.2L383.0,3781.6L384.0,3770.1L385.0,3757.6L386.0,3723.9L387.0,3757.6L388.0,3791.2L389.0,3784.5L390.0,3775.9L391.0,3767.2L392.0,3758.6L393.0,3767.2L394.0,3775.9L395.0,3784.5L396.0,3793.2L397.0,3781.6L398.0,3770.1L399.0,3758.6L400.0,3775.9L401.0,3793.2L402.0,3781.6L403.0,3770.1L404.0,3758.6L405.0,3770.1L406.0,3781.6L407.0,3793.2L408.0,3784.5L409.0,3775.9L410.0,3767.2L411.0,3758.6L412.0,3775.9L413.0,3793.2L414.0,3781.6L415.0,3770.1L416.0,3758.6L417.0,3775.9L418.0,3793.2L419.0,3781.6L420.0,3770.1L421.0,3758.6L422.0,3760.4L423.0,3707.6L424.0,3654.7L425.0,3707.6L426.0,3760.4L427.0,3770.1L428.0,3775.9L429.0,3781.6L430.0,3787.4L431.0,3793.2L432.0,3784.5L433.0,3775.9L434.0,3767.2L435.0,3758.6L436.0,3770.1L437.0,3781.6L438.0,3793.2L439.0,3781.6L440.0,3770.1L441.0,3758.6L442.0,3767.2L443.0,3775.9L444.0,3784.5L445.0,3793.2L446.0,3781.6L447.0,3770.1L448.0,3758.6L449.0,3770.1L450.0,3781.6L451.0,3793.2L452.0,3781.6L453.0,3770.1L454.0,3758.6L455.0,3770.1L456.0,3781.6L457.0,3793.2L458.0,3781.6L459.0,3770.1L460.0,3758.6L461.0,3770.1L462.0,3781.6L463.0,3793.2L464.0,3775.9L465.0,3758.6L466.0,3769.5L467.0,3780.5L468.0,3769.5L469.0,3757.6L470.0,3723.9L471.0,3757.6L472.0,3791.2L473.0,3781.6L474.0,3757.6L475.0,3723.9L476.0,3757.6L477.0,3772.4L478.0,3779.3L479.0,3786.3L480.0,3793.2L481.0,3781.6L482.0,3770.1L483.0,3758.6L484.0,3770.1L485.0,3781.6L486.0,3793.2L487.0,3781.6L488.0,3770.1L489.0,3758.6L490.0,3763.5L491.0,3768.5L492.0,3773.4L493.0,3778.4L494.0,3783.3L495.0,3757.6L496.0,3723.9L497.0,3757.6L498.0,3783.3L499.0,3778.4L500.0,3773.4L501.0,3768.5L502.0,3763.5L503.0,3758.6L504.0,3770.1L505.0,3781.6L506.0,3793.2L507.0,3784.5L508.0,3775.9L509.0,3767.2L510.0,3758.6L511.0,3770.1L512.0,3781.6L513.0,3793.2L514.0,3775.9L515.0,3758.6L516.0,3775.9L517.0,3793.2L518.0,3781.6L519.0,3770.1L520.0,3758.6L521.0,3765.5L522.0,3772.4L523.0,3779.3L524.0,3786.3L525.0,3793.2L526.0,3787.4L527.0,3781.6L528.0,3773.4L529.0,3763.5L530.0,3753.6L531.0,3743.7L532.0,3733.8L533.0,3723.9L534.0,3758.6L535.0,3775.9L536.0,3778.1L537.0,3733.7L538.0,3689.3L539.0,3733.7L540.0,3778.1L541.0,3781.6L542.0,3775.9L543.0,3770.1L544.0,3764.3L545.0,3758.6L546.0,3770.1L547.0,3781.6L548.0,3793.2L549.0,3775.9L550.0,3758.6L551.0,3765.8L552.0,3773.0L553.0,3780.2L554.0,3769.4L555.0,3758.6L556.0,3767.2L557.0,3775.9L558.0,3784.5L559.0,3793.2L560.0,3784.5L561.0,3775.9L562.0,3767.2L563.0,3758.6L564.0,3775.9L565.0,3793.2L566.0,3775.9L567.0,3758.6L568.0,3761.5L569.0,3764.3L570.0,3767.2L571.0,3770.1L572.0,3773.0L573.0,3775.9L574.0,3778.8L575.0,3781.6L576.0,3784.5L577.0,3787.4L578.0,3790.3L579.0,3793.2L580.0,3790.7L581.0,3788.2L582.0,3785.8L583.0,3783.3L584.0,3780.8L585.0,3778.4L586.0,3775.9L587.0,3773.4L588.0,3770.9L589.0,3768.5L590.0,3757.6L591.0,3723.9L592.0,3757.6L593.0,3758.6L594.0,3767.2L595.0,3775.9L596.0,3784.5L597.0,3793.2L598.0,3781.6L599.0,3770.1L600.0,3758.6L601.0,3770.1L602.0,3781.6L603.0,3793.2L604.0,3775.9L605.0,3758.6L606.0,3771.2L607.0,3783.9L608.0,3771.2L609.0,3758.6L610.0,3770.1L611.0,3781.6L612.0,3793.2L613.0,3775.9L614.0,3758.6L615.0,3770.1L616.0,3781.6L617.0,3793.2L618.0,3784.5L619.0,3775.9L620.0,3767.2L621.0,3758.6L622.0,3761.5L623.0,3764.3L624.0,3767.2L625.0,3770.1L626.0,3773.0L627.0,3775.9L628.0,3778.8L629.0,3781.6L630.0,3784.5L631.0,3787.4L632.0,3790.3L633.0,3793.2L634.0,3788.9L635.0,3784.5L636.0,3780.2L637.0,3775.9L638.0,3771.5L639.0,3767.2L640.0,3762.9L641.0,3758.6L642.0,3762.4L643.0,3766.2L644.0,3770.0L645.0,3773.9L646.0,3777.7L647.0,3781.5L648.0,3778.6L649.0,3757.6L650.0,3723.9L651.0,3757.6L652.0,3767.2L653.0,3757.6L654.0,3723.9L655.0,3757.6L656.0,3767.2L657.0,3775.9L658.0,3784.5L659.0,3793.2L660.0,3778.1L661.0,3733.7L662.0,3689.3L663.0,3733.7L664.0,3778.1L665.0,3757.6L666.0,3723.9L667.0,3757.6L668.0,3791.2L669.0,3775.9L670.0,3758.6L671.0,3770.1L672.0,3781.6L673.0,3793.2L674.0,3781.6L675.0,3770.1L676.0,3758.6L677.0,3762.9L678.0,3767.2L679.0,3771.5L680.0,3775.9L681.0,3780.2L682.0,3784.5L683.0,3788.9L684.0,3793.2L685.0,3791.3L686.0,3789.3L687.0,3787.4L688.0,3785.5L689.0,3783.6L690.0,3781.6L691.0,3779.7L692.0,3777.8L693.0,3775.9L694.0,3774.0L695.0,3772.0L696.0,3770.1L697.0,3757.6L698.0,3723.9L699.0,3757.6L700.0,3762.4L701.0,3760.5L702.0,3757.6L703.0,3723.9L704.0,3733.7L705.0,3689.3L706.0,3733.7L707.0,3775.9L708.0,3767.2L709.0,3758.6L710.0,3770.1L711.0,3781.6L712.0,3757.6L713.0,3723.9L714.0,3757.6L715.0,3762.9L716.0,3767.2L717.0,3771.5L718.0,3775.9L719.0,3780.2L720.0,3784.5L721.0,3788.9L722.0,3793.2L723.0,3788.9L724.0,3784.5L725.0,3780.2L726.0,3775.9L727.0,3771.5L728.0,3767.2L729.0,3762.9L730.0,3758.6L731.0,3767.2L732.0,3775.9L733.0,3784.5L734.0,3791.2L735.0,3757.6L736.0,3723.9L737.0,3757.6L738.0,3757.6L739.0,3723.9L740.0,3757.6L741.0,3784.5L742.0,3757.6L743.0,3723.9L744.0,3757.6L745.0,3758.6L746.0,3767.2L747.0,3775.9L748.0,3784.5L749.0,3793.2L750.0,3781.6L751.0,3770.1L752.0,3758.6L753.0,3775.9L754.0,3793.2L755.0,3781.6L756.0,3770.1L757.0,3758.6L758.0,3761.5L759.0,3764.3L760.0,3767.2L761.0,3770.1L762.0,3773.0L763.0,3775.9L764.0,3778.8L765.0,3781.6L766.0,3784.5L767.0,3787.4L768.0,3790.3L769.0,3793.2L770.0,3790.0L771.0,3786.9L772.0,3783.7L773.0,3780.6L774.0,3777.5L775.0,3774.3L776.0,3771.2L777.0,3768.0L778.0,3764.9L779.0,3761.7L780.0,3758.6L781.0,3770.1L782.0,3781.6L783.0,3793.2L784.0,3784.5L785.0,3775.9L786.0,3767.2L787.0,3758.6L788.0,3770.1L789.0,3781.6L790.0,3793.2L791.0,3775.9L792.0,3758.6L793.0,3762.6L794.0,3766.6L795.0,3770.6L796.0,3757.6L797.0,3723.9L798.0,3757.6L799.0,3779.2L800.0,3775.8L801.0,3772.3L802.0,3757.6L803.0,3723.9L804.0,3757.6L805.0,3758.6L806.0,3770.1L807.0,3781.6L808.0,3793.2L809.0,3781.6L810.0,3770.1L811.0,3758.6L812.0,3767.2L813.0,3775.9L814.0,3784.5L815.0,3793.2L816.0,3775.9L817.0,3758.6L818.0,3767.2L819.0,3775.9L820.0,3784.5L821.0,3793.2L822.0,3775.9L823.0,3758.6L824.0,3767.2L825.0,3775.9L826.0,3784.5L827.0,3793.2L828.0,3784.5L829.0,3775.9L830.0,3767.2L831.0,3758.6L832.0,3765.5L833.0,3772.4L834.0,3779.3L835.0,3786.3L836.0,3793.2L837.0,3788.2L838.0,3783.3L839.0,3778.4L840.0,3773.4L841.0,3768.5L842.0,3763.5L843.0,3758.6L844.0,3770.1L845.0,3781.6L846.0,3793.2L847.0,3775.9L848.0,3758.6L849.0,3767.2L850.0,3775.9L851.0,3784.5L852.0,3793.2L853.0,3781.6L854.0,3757.6L855.0,3723.9L856.0,3757.6L857.0,3781.6L858.0,3793.2L859.0,3786.3L860.0,3779.3L861.0,3772.4L862.0,3765.5L863.0,3758.6L864.0,3770.1L865.0,3781.6L866.0,3793.2L867.0,3784.5L868.0,3775.9L869.0,3767.2L870.0,3758.6L871.0,3770.1L872.0,3781.6L873.0,3793.2L874.0,3784.5L875.0,3775.9L876.0,3767.2L877.0,3758.6L878.0,3775.9L879.0,3793.2L880.0,3775.9L881.0,3758.6L882.0,3775.9L883.0,3757.6L884.0,3723.9L885.0,3757.6L886.0,3775.9L887.0,3793.2L888.0,3775.9L889.0,3758.6L890.0,3767.2L891.0,3775.9L892.0,3784.5L893.0,3793.2L894.0,3781.6L895.0,3770.1L896.0,3758.6L897.0,3762.4L898.0,3766.3L899.0,3770.1L900.0,3774.0L901.0,3777.8L902.0,3781.6L903.0,3785.5L904.0,3789.3L905.0,3793.2L906.0,3790.0L907.0,3786.9L908.0,3783.7L909.0,3780.6L910.0,3777.5L911.0,3774.3L912.0,3771.2L913.0,3768.0L914.0,3764.9L915.0,3761.7L916.0,3758.6L917.0,3767.2L918.0,3775.9L919.0,3784.5L920.0,3793.2L921.0,3781.6L922.0,3770.1L923.0,3758.6L924.0,3770.1L925.0,3781.6L926.0,3791.2L927.0,3757.6L928.0,3723.9L929.0,3757.6L930.0,3775.9L931.0,3793.2L932.0,3775.9L933.0,3758.6L934.0,3763.8L935.0,3769.1L936.0,3774.3L937.0,3769.1L938.0,3763.8L939.0,3758.6L940.0,3763.5L941.0,3768.5L942.0,3773.4L943.0,3778.4L944.0,3783.3L945.0,3788.2L946.0,3793.2L947.0,3789.3L948.0,3785.5L949.0,3781.6L950.0,3777.8L951.0,3774.0L952.0,3770.1L953.0,3766.3L954.0,3762.4L955.0,3758.6L956.0,3775.9L957.0,3793.2L958.0,3781.6L959.0,3770.1L960.0,3758.6L961.0,3767.2L962.0,3775.9L963.0,3784.5L964.0,3793.2L965.0,3784.5L966.0,3775.9L967.0,3757.6L968.0,3723.9L969.0,3757.6L970.0,3791.2L971.0,3775.9L972.0,3758.6L973.0,3770.1L974.0,3781.6L975.0,3793.2L976.0,3775.9L977.0,3758.6L978.0,3775.9L979.0,3757.6L980.0,3723.9L981.0,3757.6L982.0,3775.9L983.0,3793.2L984.0,3775.9L985.0,3757.6L986.0,3723.9L987.0,3757.6L988.0,3791.2L989.0,3775.9L990.0,3758.6L991.0,3767.2L992.0,3775.9L993.0,3784.5L994.0,3793.2L995.0,3781.6L996.0,3770.1L997.0,3758.6L998.0,3775.9L999.0,3791.2L1000.0,3757.6L1001.0,3723.9L1002.0,3757.6L1003.0,3733.7L1004.0,3689.3L1005.0,3733.7L1006.0,3758.6L1007.0,3793.2L1008.0,3775.9L1009.0,3758.6L1010.0,3765.5L1011.0,3772.4L1012.0,3779.3L1013.0,3786.3L1014.0,3793.2L1015.0,3788.2L1016.0,3783.3L1017.0,3778.4L1018.0,3773.4L1019.0,3768.5L1020.0,3763.5L1021.0,3758.6L1022.0,3767.2L1023.0,3775.9L1024.0,3784.5L1025.0,3793.2L1026.0,3781.6L1027.0,3770.1L1028.0,3758.6L1029.0,3775.9L1030.0,3793.2L1031.0,3784.5L1032.0,3757.6L1033.0,3723.9L1034.0,3757.6L1035.0,3765.5L1036.0,3772.4L1037.0,3779.3L1038.0,3786.3L1039.0,3793.2L1040.0,3786.3L1041.0,3779.3L1042.0,3772.4L1043.0,3765.5L1044.0,3758.6L1045.0,3767.2L1046.0,3775.9L1047.0,3784.5L1048.0,3793.2L1049.0,3784.5L1050.0,3775.9L1051.0,3767.2L1052.0,3758.6L1053.0,3775.9L1054.0,3793.2L1055.0,3781.6L1056.0,3770.1L1057.0,3758.6L1058.0,3770.1L1059.0,3781.6L1060.0,3793.2L1061.0,3784.5L1062.0,3775.9L1063.0,3767.2L1064.0,3758.6L1065.0,3762.9L1066.0,3767.2L1067.0,3771.5L1068.0,3775.9L1069.0,3780.2L1070.0,3784.5L1071.0,3788.9L1072.0,3793.2L1073.0,3784.5L1074.0,3775.9L1075.0,3767.2L1076.0,3758.6L1077.0,3760.6L1078.0,3762.6L1079.0,3757.6L1080.0,3723.9L1081.0,3757.6L1082.0,3770.8L1083.0,3772.8L1084.0,3774.9L1085.0,3776.9L1086.0,3778.9L1087.0,3781.0L1088.0,3783.0L1089.0,3785.0L1090.0,3787.1L1091.0,3789.1L1092.0,3791.2L1093.0,3793.2L1094.0,3789.7L1095.0,3786.3L1096.0,3782.8L1097.0,3779.3L1098.0,3775.9L1099.0,3772.4L1100.0,3769.0L1101.0,3765.5L1102.0,3762.0L1103.0,3758.6L1104.0,3762.9L1105.0,3767.2L1106.0,3771.5L1107.0,3775.9L1108.0,3780.2L1109.0,3784.5L1110.0,3788.9L1111.0,3793.2L1112.0,3789.3L1113.0,3785.5L1114.0,3781.6L1115.0,3777.8L1116.0,3774.0L1117.0,3770.1L1118.0,3766.3L1119.0,3762.4L1120.0,3758.6L1121.0,3767.2L1122.0,3775.9L1123.0,3784.5L1124.0,3793.2L1125.0,3784.5L1126.0,3775.9L1127.0,3767.2L1128.0,3758.6L1129.0,3770.6L1130.0,3782.7L1131.0,3770.6L1132.0,3758.6L1133.0,3770.1L1134.0,3781.6L1135.0,3793.2L1136.0,3775.9L1137.0,3758.6L1138.0,3770.1L1139.0,3781.6L1140.0,3793.2L1141.0,3786.3L1142.0,3779.3L1143.0,3772.4L1144.0,3765.5L1145.0,3758.6L1146.0,3775.9L1147.0,3793.2L1148.0,3775.9L1149.0,3758.6L1150.0,3775.9L1151.0,3757.6L1152.0,3723.9L1153.0,3757.6L1154.0,3758.6L1155.0,3770.1L1156.0,3781.6L1157.0,3793.2L1158.0,3775.9L1159.0,3757.6L1160.0,3723.9L1161.0,3757.6L1162.0,3775.9L1163.0,3758.6L1164.0,3770.1L1165.0,3757.6L1166.0,3723.9L1167.0,3723.9L1168.0,3757.6L1169.0,3758.6L1170.0,3770.1L1171.0,3757.6L1172.0,3723.9L1173.0,3757.6L1174.0,3770.1L1175.0,3758.6L1176.0,3770.1L1177.0,3781.6L1178.0,3793.2L1179.0,3781.6L1180.0,3770.1L1181.0,3758.6L1182.0,3770.1L1183.0,3757.6L1184.0,3723.9L1185.0,3757.6L1186.0,3758.6L1187.0,3757.6L1188.0,3723.9L1189.0,3757.6L1190.0,3758.6L1191.0,3767.2L1192.0,3775.9L1193.0,3784.5L1194.0,3793.2L1195.0,3784.5L1196.0,3775.9L1197.0,3767.2L1198.0,3758.6L1199.0,3770.1L1200.0,3781.6L1201.0,3793.2L1202.0,3787.4L1203.0,3781.6L1204.0,3775.9L1205.0,3770.1L1206.0,3764.3L1207.0,3758.6L1208.0,3747.0L1209.0,3735.5L1210.0,3723.9L1211.0,3735.5L1212.0,3747.0L1213.0,3758.6L1214.0,3762.9L1215.0,3767.2L1216.0,3771.5L1217.0,3775.9L1218.0,3780.2L1219.0,3784.5L1220.0,3788.9L1221.0,3793.2L1222.0,3787.4L1223.0,3781.6L1224.0,3775.9L1225.0,3770.1L1226.0,3764.3L1227.0,3758.6L1228.0,3770.1L1229.0,3781.6L1230.0,3793.2L1231.0,3775.9L1232.0,3758.6L1233.0,3764.3L1234.0,3770.1L1235.0,3775.9L1236.0,3781.6L1237.0,3787.4L1238.0,3793.2L1239.0,3787.4L1240.0,3781.6L1241.0,3775.9L1242.0,3770.1L1243.0,3764.3L1244.0,3758.6L1245.0,3767.4L1246.0,3776.2L1247.0,3767.4L1248.0,3758.6L1249.0,3770.1L1250.0,3781.6L1251.0,3793.2L1252.0,3775.9L1253.0,3758.6L1254.0,3775.9L1255.0,3793.2L1256.0,3775.9L1257.0,3758.6L1258.0,3762.6L1259.0,3766.7L1260.0,3770.7L1261.0,3774.8L1262.0,3766.7L1263.0,3758.6L1264.0,3763.5L1265.0,3768.5L1266.0,3773.4L1267.0,3778.4L1268.0,3783.3L1269.0,3788.2L1270.0,3757.6L1271.0,3723.9L1272.0,3757.6L1273.0,3772.4L1274.0,3765.5L1275.0,3758.6L1276.0,3770.1L1277.0,3781.6L1278.0,3793.2L1279.0,3784.5L1280.0,3775.9L1281.0,3767.2L1282.0,3758.6L1283.0,3775.9L1284.0,3793.2L1285.0,3775.9L1286.0,3758.6L1287.0,3767.2L1288.0,3775.9L1289.0,3784.5L1290.0,3793.2L1291.0,3781.6L1292.0,3770.1L1293.0,3758.6L1294.0,3775.9L1295.0,3757.6L1296.0,3723.9L1297.0,3757.6L1298.0,3770.1L1299.0,3757.6L1300.0,3723.9L1301.0,3757.6L1302.0,3758.6L1303.0,3765.5L1304.0,3772.4L1305.0,3779.3L1306.0,3786.3L1307.0,3793.2L1308.0,3781.6L1309.0,3770.1L1310.0,3758.6L1311.0,3770.1L1312.0,3781.6L1313.0,3793.2L1314.0,3784.5L1315.0,3757.6L1316.0,3723.9L1317.0,3757.6L1318.0,3767.2L1319.0,3775.9L1320.0,3784.5L1321.0,3793.2L1322.0,3781.6L1323.0,3770.1L1324.0,3758.6L1325.0,3770.1L1326.0,3781.6L1327.0,3793.2L1328.0,3781.6L1329.0,3770.1L1330.0,3758.6L1331.0,3775.9L1332.0,3793.2L1333.0,3775.9L1334.0,3758.6L1335.0,3775.9L1336.0,3793.2L1337.0,3775.9L1338.0,3758.6L1339.0,3767.2L1340.0,3775.9L1341.0,3784.5L1342.0,3793.2L1343.0,3781.6L1344.0,3770.1L1345.0,3758.6L1346.0,3770.1L1347.0,3781.6L1348.0,3793.2L1349.0,3775.9L1350.0,3758.6L1351.0,3770.1L1352.0,3781.6L1353.0,3793.2L1354.0,3775.9L1355.0,3758.6L1356.0,3757.6L1357.0,3723.9L1358.0,3757.6L1359.0,3775.9L1360.0,3733.7L1361.0,3689.3L1362.0,3733.7L1363.0,3775.9L1364.0,3758.6L1365.0,3775.9L1366.0,3793.2L1367.0,3775.9L1368.0,3758.6L1369.0,3770.1L1370.0,3757.6L1371.0,3723.9L1372.0,3757.6L1373.0,3770.1L1374.0,3758.6L1375.0,3762.4L1376.0,3766.3L1377.0,3770.1L1378.0,3774.0L1379.0,3777.8L1380.0,3781.6L1381.0,3785.5L1382.0,3789.3L1383.0,3793.2L1384.0,3788.9L1385.0,3757.6L1386.0,3723.9L1387.0,3757.6L1388.0,3771.5L1389.0,3767.2L1390.0,3762.9L1391.0,3758.6L1392.0,3775.9L1393.0,3793.2L1394.0,3775.9L1395.0,3758.6L1396.0,3775.9L1397.0,3793.2L1398.0,3775.9L1399.0,3758.6L1400.0,3775.9L1401.0,3793.2L1402.0,3775.9L1403.0,3758.6L1404.0,3770.1L1405.0,3781.6L1406.0,3757.6L1407.0,3723.9L1408.0,3757.6L1409.0,3723.9L1410.0,3757.6L1411.0,3781.6L1412.0,3770.1L1413.0,3758.6L1414.0,3757.6L1415.0,3723.9L1416.0,3757.6L1417.0,3758.6L1418.0,3770.1L1419.0,3757.6L1420.0,3723.9L1421.0,3757.6L1422.0,3791.2L1423.0,3793.2L1423.0,3793.2Z"/>
<path class="ya" d="M271,3654.7V3793.2H259.2"/><path class="yt" d="M259.2,3654.7H271.6"/>
<text class="tk" x="252.4" y="3658.0">11</text><text class="tk" x="252.4" y="3796.0">0</text>
<text class="lab" x="74" y="3729.5">GSM2481668</text>
<g fill="#000"><rect x="1006.8" y="3910.4" width="6.1" height="94.2"/><rect x="1002.4" y="3933.9" width="4.6" height="46.6"/>
<rect x="1168.7" y="3910.4" width="12.6" height="94.2"/><rect x="1181" y="3933.9" width="9.1" height="46.6"/></g>
<path d="M1012.9,3957.3H1168.7" stroke="#222" stroke-width="1" fill="none"/>
<path d="M1030.1,3947.8L1040.1,3957.3L1030.1,3966.8M1067.6,3947.8L1077.6,3957.3L1067.6,3966.8M1105,3947.8L1115,3957.3L1105,3966.8M1142.7,3947.8L1152.7,3957.3L1142.7,3966.8" stroke="#222" stroke-width="1" fill="none"/>
<text x="1097.3" y="3903.3" font-size="35.2" text-anchor="middle">DMRT3</text>
<text x="88.5" y="4109" font-size="48.5">chr9</text>
<path d="M271,4062.8H1423.5" stroke="#808080" stroke-width="1.6" fill="none"/>

<path d="M271,4120.6H1423.5M275.8,4120.6V4150.5M300.6,4120.6V4197M325.4,4120.6V4150.5M350.2,4120.6V4150.5M375.0,4120.6V4150.5M399.8,4120.6V4150.5M424.6,4120.6V4197M449.4,4120.6V4150.5M474.2,4120.6V4150.5M499.0,4120.6V4150.5M523.8,4120.6V4150.5M548.6,4120.6V4197M573.4,4120.6V4150.5M598.2,4120.6V4150.5M623.0,4120.6V4150.5M647.8,4120.6V4150.5M672.6,4120.6V4197M697.4,4120.6V4150.5M722.2,4120.6V4150.5M747.0,4120.6V4150.5M771.8,4120.6V4150.5M796.6,4120.6V4197M821.4,4120.6V4150.5M846.2,4120.6V4150.5M871.0,4120.6V4150.5M895.8,4120.6V4150.5M920.6,4120.6V4197M945.4,4120.6V4150.5M970.2,4120.6V4150.5M995.0,4120.6V4150.5M1019.8,4120.6V4150.5M1044.6,4120.6V4197M1069.4,4120.6V4150.5M1094.2,4120.6V4150.5M1119.0,4120.6V4150.5M1143.8,4120.6V4150.5M1168.6,4120.6V4197M1193.4,4120.6V4150.5M1218.2,4120.6V4150.5M1243.0,4120.6V4150.5M1267.8,4120.6V4150.5M1292.6,4120.6V4197M1317.4,4120.6V4150.5M1342.2,4120.6V4150.5M1367.0,4120.6V4150.5M1391.8,4120.6V4150.5M1416.6,4120.6V4197" stroke="#222" stroke-width="1" fill="none"/>
<text class="ax" x="300.6" y="4211.8">920Kb</text>
<text class="ax" x="424.6" y="4211.8">930Kb</text>
<text class="ax" x="548.6" y="4211.8">940Kb</text>
<text class="ax" x="672.6" y="4211.8">950Kb</text>
<text class="ax" x="796.6" y="4211.8">960Kb</text>
<text class="ax" x="920.6" y="4211.8">970Kb</text>
<text class="ax" x="1044.6" y="4211.8">980Kb</text>
<text class="ax" x="1168.6" y="4211.8">990Kb</text>
<text class="ax" x="1292.6" y="4211.8">1Mb</text>
<text class="ax" x="1416.6" y="4211.8">1.01Mb</text>
</svg></body></html>
